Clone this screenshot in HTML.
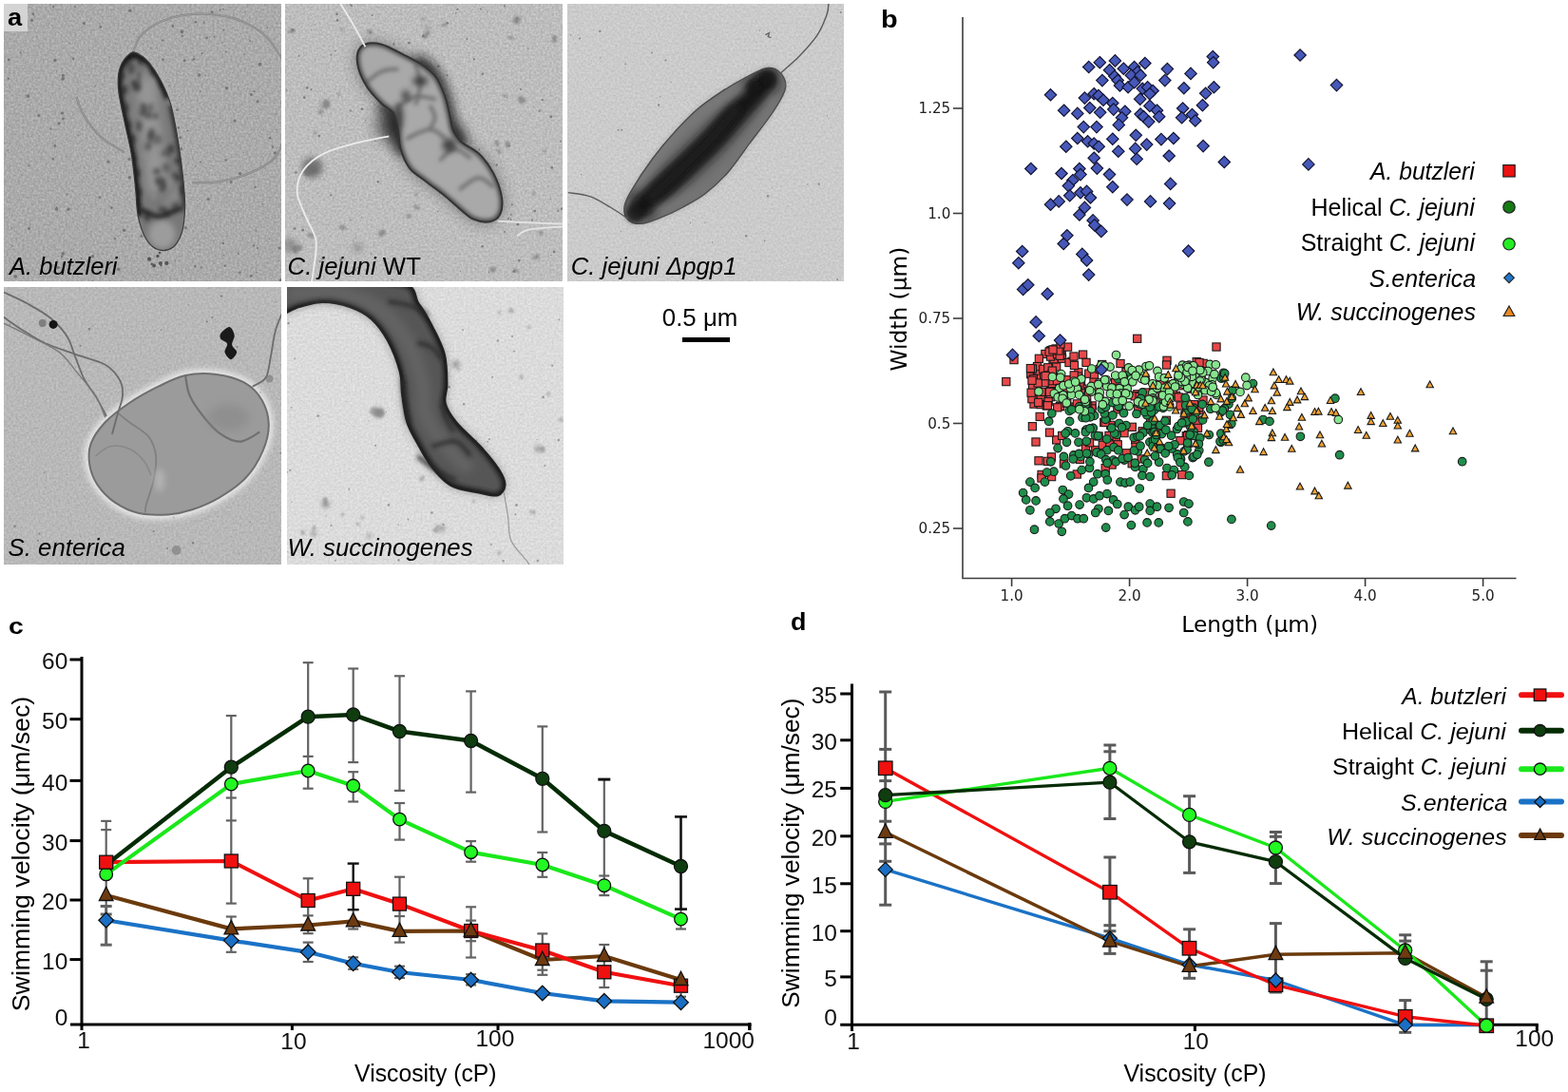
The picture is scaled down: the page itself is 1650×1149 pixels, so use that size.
<!DOCTYPE html>
<html><head><meta charset="utf-8"><title>Figure</title>
<style>html,body{margin:0;padding:0;background:#fff;}body{width:1650px;height:1149px;overflow:hidden;}svg{display:block;}</style>
</head><body>
<svg width="1650" height="1149" viewBox="0 0 1650 1149" font-family="Liberation Sans, Arial, sans-serif">
<rect width="1650" height="1149" fill="#fff"/>
<defs>
<filter id="b1" filterUnits="userSpaceOnUse" x="-2000" y="-2000" width="6000" height="6000"><feGaussianBlur stdDeviation="1"/></filter>
<filter id="b2" filterUnits="userSpaceOnUse" x="-2000" y="-2000" width="6000" height="6000"><feGaussianBlur stdDeviation="2"/></filter>
<filter id="b3" filterUnits="userSpaceOnUse" x="-2000" y="-2000" width="6000" height="6000"><feGaussianBlur stdDeviation="3"/></filter>
<filter id="b5" filterUnits="userSpaceOnUse" x="-2000" y="-2000" width="6000" height="6000"><feGaussianBlur stdDeviation="5"/></filter>
<filter id="b8" filterUnits="userSpaceOnUse" x="-2000" y="-2000" width="6000" height="6000"><feGaussianBlur stdDeviation="8"/></filter>
<filter id="bg1" x="0" y="0" width="100%" height="100%" color-interpolation-filters="sRGB"><feTurbulence type="fractalNoise" baseFrequency="0.42" numOctaves="3" seed="3"/><feColorMatrix type="matrix" values="0.220 0 0 0 0.557  0.220 0 0 0 0.557  0.220 0 0 0 0.557  0 0 0 0 1"/></filter>
<filter id="bg2" x="0" y="0" width="100%" height="100%" color-interpolation-filters="sRGB"><feTurbulence type="fractalNoise" baseFrequency="0.42" numOctaves="3" seed="5"/><feColorMatrix type="matrix" values="0.200 0 0 0 0.641  0.200 0 0 0 0.641  0.200 0 0 0 0.641  0 0 0 0 1"/></filter>
<filter id="bg3" x="0" y="0" width="100%" height="100%" color-interpolation-filters="sRGB"><feTurbulence type="fractalNoise" baseFrequency="0.42" numOctaves="3" seed="7"/><feColorMatrix type="matrix" values="0.140 0 0 0 0.726  0.140 0 0 0 0.726  0.140 0 0 0 0.726  0 0 0 0 1"/></filter>
<filter id="bg4" x="0" y="0" width="100%" height="100%" color-interpolation-filters="sRGB"><feTurbulence type="fractalNoise" baseFrequency="0.42" numOctaves="3" seed="9"/><feColorMatrix type="matrix" values="0.160 0 0 0 0.642  0.160 0 0 0 0.642  0.160 0 0 0 0.642  0 0 0 0 1"/></filter>
<filter id="bg5" x="0" y="0" width="100%" height="100%" color-interpolation-filters="sRGB"><feTurbulence type="fractalNoise" baseFrequency="0.42" numOctaves="3" seed="11"/><feColorMatrix type="matrix" values="0.140 0 0 0 0.790  0.140 0 0 0 0.790  0.140 0 0 0 0.790  0 0 0 0 1"/></filter>
<filter id="grain" x="0" y="0" width="100%" height="100%" color-interpolation-filters="sRGB">
 <feTurbulence type="fractalNoise" baseFrequency="0.5" numOctaves="2" seed="4"/>
 <feColorMatrix type="matrix" values="0 0 0 0 0  0 0 0 0 0  0 0 0 0 0  0 0 0 -1.6 1.05"/>
</filter>
<clipPath id="c1"><rect x="4" y="4" width="292" height="292"/></clipPath>
<clipPath id="c2"><rect x="300" y="4" width="292" height="292"/></clipPath>
<clipPath id="c3"><rect x="597" y="4" width="291" height="292"/></clipPath>
<clipPath id="c4"><rect x="4" y="302" width="292" height="292"/></clipPath>
<clipPath id="c5"><rect x="302" y="302" width="291" height="292"/></clipPath>
<radialGradient id="g3" cx="0.5" cy="0.5" r="0.5"><stop offset="0" stop-color="#262626"/><stop offset="0.55" stop-color="#3a3a3a"/><stop offset="0.85" stop-color="#5e5e5e"/><stop offset="1" stop-color="#6e6e6e"/></radialGradient>
</defs>
<g clip-path="url(#c1)">
<rect x="4" y="4" width="292" height="292" fill="#a7a7a7"/>
<rect x="4" y="4" width="292" height="292" filter="url(#bg1)"/>
<g fill="#767676"><circle cx="136.1" cy="167.5" r="1.8"/><circle cx="140" cy="152.3" r="1.4"/><circle cx="57.9" cy="153.5" r="1.4"/><circle cx="235.5" cy="31.5" r="1"/><circle cx="30.5" cy="240.4" r="1.5"/><circle cx="16.2" cy="290.8" r="1.9"/><circle cx="194.9" cy="183.7" r="0.8"/><circle cx="8.4" cy="158.3" r="0.7"/><circle cx="59.5" cy="74.6" r="0.6"/><circle cx="139.5" cy="132.6" r="1.7"/><circle cx="155.6" cy="191" r="1.2"/><circle cx="197.4" cy="137.5" r="1"/><circle cx="295.3" cy="294.7" r="1.7"/><circle cx="210.7" cy="96.1" r="0.9"/><circle cx="88.4" cy="24.5" r="1.6"/><circle cx="120.9" cy="251.2" r="1.1"/><circle cx="283.7" cy="251.4" r="0.6"/><circle cx="65.2" cy="269.8" r="1.2"/><circle cx="290.3" cy="120" r="0.7"/><circle cx="187.8" cy="231.3" r="1"/><circle cx="29.4" cy="101.1" r="1.9"/><circle cx="225.3" cy="38.5" r="0.9"/><circle cx="33.5" cy="21.5" r="1.6"/><circle cx="55.9" cy="167.3" r="1.2"/><circle cx="59.7" cy="217.7" r="0.8"/><circle cx="192" cy="38" r="1.1"/><circle cx="66.2" cy="82.8" r="1.9"/><circle cx="238.6" cy="92.8" r="1.8"/><circle cx="65.5" cy="119.1" r="1.7"/><circle cx="191.4" cy="33.3" r="1.9"/><circle cx="66.3" cy="79.4" r="1.6"/><circle cx="100.1" cy="90.5" r="0.7"/><circle cx="30.3" cy="174.2" r="0.9"/><circle cx="179.6" cy="112.5" r="1.2"/><circle cx="284.1" cy="145.2" r="1.3"/><circle cx="257" cy="57.4" r="0.8"/><circle cx="269.3" cy="242.8" r="0.9"/><circle cx="59.4" cy="219.9" r="1.8"/><circle cx="61.4" cy="281.4" r="1.7"/><circle cx="180.2" cy="127.1" r="0.7"/><circle cx="15.3" cy="285.1" r="0.9"/><circle cx="209.7" cy="79" r="1.7"/><circle cx="178.2" cy="89.7" r="0.8"/><circle cx="214.3" cy="24.1" r="0.9"/><circle cx="167.3" cy="252.9" r="1.4"/><circle cx="85.8" cy="271.9" r="0.9"/><circle cx="8.8" cy="82.6" r="1.2"/><circle cx="21.7" cy="55.5" r="1.1"/><circle cx="171.1" cy="42.4" r="1.1"/><circle cx="264.2" cy="290.3" r="1.5"/><circle cx="205.8" cy="174.7" r="0.8"/><circle cx="14.2" cy="9.2" r="1.8"/><circle cx="208.7" cy="285.1" r="0.6"/><circle cx="189.8" cy="144.8" r="1.5"/><circle cx="97.1" cy="295.8" r="0.7"/><circle cx="163.5" cy="219.2" r="1.8"/><circle cx="219.2" cy="209.5" r="1.6"/><circle cx="271.2" cy="106.7" r="1.5"/><circle cx="267" cy="258.4" r="1.1"/><circle cx="234.8" cy="256.1" r="1.3"/><circle cx="186.5" cy="115.6" r="1.4"/><circle cx="181.8" cy="27.4" r="1.4"/><circle cx="294.1" cy="260.9" r="1.5"/><circle cx="117.4" cy="218.6" r="1.4"/><circle cx="132.6" cy="248.8" r="0.7"/><circle cx="223.1" cy="12.7" r="1.4"/><circle cx="144.4" cy="71.2" r="1.5"/><circle cx="149.2" cy="183.4" r="1.8"/><circle cx="78.7" cy="7.3" r="1"/><circle cx="202" cy="63.2" r="0.8"/><circle cx="268.5" cy="196.7" r="1.2"/><circle cx="264.4" cy="99.5" r="1.5"/><circle cx="62" cy="129.8" r="1.6"/><circle cx="271" cy="261" r="1.1"/><circle cx="174.3" cy="96.4" r="0.8"/><circle cx="149" cy="248.4" r="1.7"/><circle cx="211.7" cy="281.4" r="1"/><circle cx="53.4" cy="135.6" r="1"/><circle cx="66.5" cy="124.9" r="1.4"/><circle cx="148.2" cy="96.1" r="1.7"/><circle cx="290.8" cy="136.1" r="0.7"/><circle cx="13.2" cy="258.9" r="0.7"/><circle cx="210.9" cy="170.6" r="1"/><circle cx="235.1" cy="9.6" r="0.8"/><circle cx="136.8" cy="11.2" r="1.7"/><circle cx="73.3" cy="45.1" r="0.7"/><circle cx="187.7" cy="134.4" r="1.4"/><circle cx="195.3" cy="239.8" r="1.8"/><circle cx="203.9" cy="62.2" r="1.2"/><circle cx="56.2" cy="7.1" r="1.2"/><circle cx="212.5" cy="56.3" r="1"/><circle cx="105" cy="207.6" r="1.3"/><circle cx="183.4" cy="224.8" r="1.1"/><circle cx="235.2" cy="268.6" r="0.7"/><circle cx="276.3" cy="214.9" r="0.8"/><circle cx="136.4" cy="186.7" r="1.8"/><circle cx="114" cy="170.1" r="1.7"/><circle cx="236.7" cy="279.7" r="1.2"/><circle cx="194.2" cy="63.8" r="1.5"/><circle cx="243" cy="191.4" r="1.5"/><circle cx="66.3" cy="266.8" r="1.9"/><circle cx="289.4" cy="160.8" r="1.6"/><circle cx="97.6" cy="269.7" r="1.7"/><circle cx="105.8" cy="28.2" r="1.2"/><circle cx="164.7" cy="228.3" r="1.2"/><circle cx="12.3" cy="240.3" r="0.7"/><circle cx="237.6" cy="54.5" r="1"/><circle cx="234.1" cy="45" r="0.8"/><circle cx="154.8" cy="215.3" r="1.7"/><circle cx="205.3" cy="280.2" r="1.2"/><circle cx="281.2" cy="29.1" r="0.9"/><circle cx="157.8" cy="88.7" r="1.5"/><circle cx="190.6" cy="156.7" r="1.7"/><circle cx="167.5" cy="95" r="1.1"/><circle cx="250.8" cy="267" r="0.9"/><circle cx="252.4" cy="286.8" r="1.3"/><circle cx="171.3" cy="62.7" r="1.3"/><circle cx="150.9" cy="180.7" r="0.6"/><circle cx="287.1" cy="154.7" r="1.1"/><circle cx="237.9" cy="168.4" r="1.2"/><circle cx="205.8" cy="23.2" r="1.3"/><circle cx="124.8" cy="283.4" r="1.8"/><circle cx="82.6" cy="142.2" r="0.8"/><circle cx="130.6" cy="242.2" r="1.8"/><circle cx="143.1" cy="96.6" r="0.8"/><circle cx="184.4" cy="274.2" r="0.8"/><circle cx="231.6" cy="10.7" r="0.9"/><circle cx="70.4" cy="204.6" r="1"/><circle cx="107.8" cy="185" r="0.7"/><circle cx="217.4" cy="39.9" r="1.3"/><circle cx="77.2" cy="61.7" r="1.3"/><circle cx="131.5" cy="113.7" r="1.1"/><circle cx="158.6" cy="50.6" r="0.9"/><circle cx="188.3" cy="190.4" r="1.3"/><circle cx="252.6" cy="182.6" r="1.7"/><circle cx="71.9" cy="220.3" r="1.7"/><circle cx="267.6" cy="96.2" r="1"/><circle cx="273.4" cy="67.7" r="1.9"/><circle cx="263.2" cy="43.1" r="0.9"/><circle cx="216.2" cy="79.8" r="0.7"/><circle cx="247" cy="127.1" r="1.6"/><circle cx="40.8" cy="121.6" r="1.5"/><circle cx="9.2" cy="62.7" r="1.5"/><circle cx="270.1" cy="286.8" r="0.8"/><circle cx="151.7" cy="225.4" r="1.3"/><circle cx="204.2" cy="59.2" r="0.7"/><circle cx="35" cy="14.9" r="1.3"/><circle cx="154.3" cy="170.1" r="0.8"/><circle cx="57.9" cy="63.5" r="1.7"/><circle cx="293.2" cy="274.7" r="0.7"/></g>
<path d="M140,54.8 C141.4,51.9 143.6,42.5 148.9,37 C154.1,31.5 162,25.5 171.7,21.8 C181.5,18.1 195,15.1 207.3,14.7 C219.6,14.2 233.6,15.5 245.4,19.2 C257.3,23 269.6,29.4 278.5,37 C287.4,44.7 295.4,60.3 298.8,65" fill="none" stroke="#858585" stroke-width="2.3"/>
<path d="M140,54.8 C141.4,51.9 143.6,42.5 148.9,37 C154.1,31.5 162,25.5 171.7,21.8 C181.5,18.1 195,15.1 207.3,14.7 C219.6,14.2 233.6,15.5 245.4,19.2 C257.3,23 269.6,29.4 278.5,37 C287.4,44.7 295.4,60.3 298.8,65" fill="none" stroke="#a4a4a4" stroke-width="0.8"/>
<path d="M298.8,146.3 C297.1,149.7 294.6,160.7 288.6,166.6 C282.7,172.6 272.5,177.9 263.2,181.9 C253.9,185.9 242.9,189.1 232.7,190.8 C222.6,192.5 207.3,191.8 202.2,192.1" fill="none" stroke="#858585" stroke-width="2.3"/>
<path d="M298.8,146.3 C297.1,149.7 294.6,160.7 288.6,166.6 C282.7,172.6 272.5,177.9 263.2,181.9 C253.9,185.9 242.9,189.1 232.7,190.8 C222.6,192.5 207.3,191.8 202.2,192.1" fill="none" stroke="#a4a4a4" stroke-width="0.8"/>
<path d="M80.2,101.8 C81.5,105 83.6,113.9 87.9,120.9 C92.1,127.9 98.5,137.2 105.7,143.8 C112.9,150.3 126.8,157.5 131.1,160.3" fill="none" stroke="#858585" stroke-width="2.3"/>
<path d="M80.2,101.8 C81.5,105 83.6,113.9 87.9,120.9 C92.1,127.9 98.5,137.2 105.7,143.8 C112.9,150.3 126.8,157.5 131.1,160.3" fill="none" stroke="#a4a4a4" stroke-width="0.8"/>
<path d="M137.4,56.1 C134.3,58.4 128.7,64.4 126.5,70.6 C124.3,76.7 123.8,83.7 124.5,92.9 C125.1,102.2 128.3,114.5 130.6,126 C132.8,137.4 136.2,149.7 138.2,161.6 C140.2,173.4 141.3,186.1 142.5,197.1 C143.7,208.2 143.4,218.5 145.3,227.6 C147.2,236.7 150.4,245.9 153.9,251.8 C157.5,257.6 162,261.3 166.6,262.7 C171.3,264.1 177.7,263.3 181.9,260.2 C186,257.1 189.4,251.3 191.5,244.2 C193.7,237 194.4,227 194.6,217.5 C194.8,207.9 193.8,198.4 192.6,187 C191.4,175.5 189.6,161.6 187.5,148.9 C185.4,136.1 182.8,121.2 179.9,110.7 C176.9,100.2 173.6,93.4 169.7,85.8 C165.8,78.3 160.5,70.4 156.5,65.5 C152.4,60.6 148.5,58.2 145.3,56.6 C142.1,55 140.6,53.8 137.4,56.1Z" fill="#c4c4c4" opacity="0.5" filter="url(#b3)"/>
<clipPath id="cc1"><path d="M137.4,56.1 C134.3,58.4 128.7,64.4 126.5,70.6 C124.3,76.7 123.8,83.7 124.5,92.9 C125.1,102.2 128.3,114.5 130.6,126 C132.8,137.4 136.2,149.7 138.2,161.6 C140.2,173.4 141.3,186.1 142.5,197.1 C143.7,208.2 143.4,218.5 145.3,227.6 C147.2,236.7 150.4,245.9 153.9,251.8 C157.5,257.6 162,261.3 166.6,262.7 C171.3,264.1 177.7,263.3 181.9,260.2 C186,257.1 189.4,251.3 191.5,244.2 C193.7,237 194.4,227 194.6,217.5 C194.8,207.9 193.8,198.4 192.6,187 C191.4,175.5 189.6,161.6 187.5,148.9 C185.4,136.1 182.8,121.2 179.9,110.7 C176.9,100.2 173.6,93.4 169.7,85.8 C165.8,78.3 160.5,70.4 156.5,65.5 C152.4,60.6 148.5,58.2 145.3,56.6 C142.1,55 140.6,53.8 137.4,56.1Z"/></clipPath>
<path d="M137.4,56.1 C134.3,58.4 128.7,64.4 126.5,70.6 C124.3,76.7 123.8,83.7 124.5,92.9 C125.1,102.2 128.3,114.5 130.6,126 C132.8,137.4 136.2,149.7 138.2,161.6 C140.2,173.4 141.3,186.1 142.5,197.1 C143.7,208.2 143.4,218.5 145.3,227.6 C147.2,236.7 150.4,245.9 153.9,251.8 C157.5,257.6 162,261.3 166.6,262.7 C171.3,264.1 177.7,263.3 181.9,260.2 C186,257.1 189.4,251.3 191.5,244.2 C193.7,237 194.4,227 194.6,217.5 C194.8,207.9 193.8,198.4 192.6,187 C191.4,175.5 189.6,161.6 187.5,148.9 C185.4,136.1 182.8,121.2 179.9,110.7 C176.9,100.2 173.6,93.4 169.7,85.8 C165.8,78.3 160.5,70.4 156.5,65.5 C152.4,60.6 148.5,58.2 145.3,56.6 C142.1,55 140.6,53.8 137.4,56.1Z" fill="#787878"/>
<g clip-path="url(#cc1)">
<path d="M152.7,80.2 C153.3,86.6 155,105.7 156.5,118.4 C158,131.1 159.9,142.5 161.6,156.5 C163.3,170.5 165.8,194.6 166.6,202.2" fill="none" stroke="#959595" stroke-width="22" filter="url(#b5)"/>
<ellipse cx="170.5" cy="246.7" rx="14" ry="15" fill="#9c9c9c" filter="url(#b3)"/>
<ellipse cx="171.1" cy="166.8" rx="4.9" ry="6" fill="#909090" opacity="0.55" filter="url(#b2)"/>
<ellipse cx="137.7" cy="71.7" rx="4.1" ry="6.6" fill="#2e2e2e" opacity="0.55" filter="url(#b2)"/>
<ellipse cx="163.8" cy="121.7" rx="2.8" ry="4" fill="#3a3a3a" opacity="0.55" filter="url(#b2)"/>
<ellipse cx="146.2" cy="132.6" rx="3.5" ry="6" fill="#2e2e2e" opacity="0.55" filter="url(#b2)"/>
<ellipse cx="146.7" cy="81.2" rx="2.5" ry="6.5" fill="#3a3a3a" opacity="0.55" filter="url(#b2)"/>
<ellipse cx="183.7" cy="184.9" rx="2.9" ry="4.3" fill="#3a3a3a" opacity="0.55" filter="url(#b2)"/>
<ellipse cx="165.7" cy="147.1" rx="4.9" ry="5.8" fill="#484848" opacity="0.55" filter="url(#b2)"/>
<ellipse cx="146.4" cy="107.7" rx="2.9" ry="3.3" fill="#8c8c8c" opacity="0.55" filter="url(#b2)"/>
<ellipse cx="175.1" cy="196.4" rx="4.3" ry="3.3" fill="#8c8c8c" opacity="0.55" filter="url(#b2)"/>
<ellipse cx="172.2" cy="193.7" rx="3.7" ry="5.8" fill="#2e2e2e" opacity="0.55" filter="url(#b2)"/>
<ellipse cx="160.8" cy="108.7" rx="3.4" ry="4.6" fill="#909090" opacity="0.55" filter="url(#b2)"/>
<ellipse cx="167.7" cy="191.4" rx="2.5" ry="3.2" fill="#3a3a3a" opacity="0.55" filter="url(#b2)"/>
<ellipse cx="177.1" cy="160" rx="3.1" ry="6.3" fill="#484848" opacity="0.55" filter="url(#b2)"/>
<ellipse cx="148.2" cy="118.7" rx="4.4" ry="3.4" fill="#8c8c8c" opacity="0.55" filter="url(#b2)"/>
<ellipse cx="161.6" cy="206.8" rx="2.7" ry="4.4" fill="#909090" opacity="0.55" filter="url(#b2)"/>
<ellipse cx="143.2" cy="119.1" rx="4.3" ry="3.4" fill="#8c8c8c" opacity="0.55" filter="url(#b2)"/>
<ellipse cx="159" cy="113.5" rx="4.3" ry="4.2" fill="#484848" opacity="0.55" filter="url(#b2)"/>
<ellipse cx="131.8" cy="93.7" rx="3.8" ry="4.6" fill="#3a3a3a" opacity="0.55" filter="url(#b2)"/>
<ellipse cx="165" cy="180.4" rx="4.1" ry="3.6" fill="#2e2e2e" opacity="0.55" filter="url(#b2)"/>
<ellipse cx="167.4" cy="189.9" rx="5" ry="5.3" fill="#3a3a3a" opacity="0.55" filter="url(#b2)"/>
<ellipse cx="172.7" cy="161" rx="3.6" ry="3.6" fill="#484848" opacity="0.55" filter="url(#b2)"/>
<ellipse cx="148.8" cy="115.5" rx="4.6" ry="6.9" fill="#484848" opacity="0.55" filter="url(#b2)"/>
<ellipse cx="184.2" cy="216.8" rx="3.2" ry="4.9" fill="#3a3a3a" opacity="0.55" filter="url(#b2)"/>
<ellipse cx="151.3" cy="81.1" rx="2.9" ry="6.7" fill="#8c8c8c" opacity="0.55" filter="url(#b2)"/>
<ellipse cx="145" cy="91.9" rx="3.9" ry="5" fill="#2e2e2e" opacity="0.55" filter="url(#b2)"/>
<ellipse cx="179.1" cy="192.3" rx="4.2" ry="6" fill="#8c8c8c" opacity="0.55" filter="url(#b2)"/>
<ellipse cx="166.3" cy="156.8" rx="3.2" ry="6.9" fill="#8c8c8c" opacity="0.55" filter="url(#b2)"/>
<ellipse cx="174.3" cy="214.8" rx="4.6" ry="4.9" fill="#8c8c8c" opacity="0.55" filter="url(#b2)"/>
<ellipse cx="145.2" cy="113.3" rx="3.8" ry="5.7" fill="#8c8c8c" opacity="0.55" filter="url(#b2)"/>
<ellipse cx="156.5" cy="121.4" rx="4.6" ry="4.4" fill="#3a3a3a" opacity="0.55" filter="url(#b2)"/>
<ellipse cx="180.3" cy="208.8" rx="4.9" ry="5.1" fill="#909090" opacity="0.55" filter="url(#b2)"/>
<ellipse cx="171.3" cy="220.5" rx="4.6" ry="4.1" fill="#2e2e2e" opacity="0.55" filter="url(#b2)"/>
<ellipse cx="174.9" cy="176.2" rx="4.5" ry="5.3" fill="#484848" opacity="0.55" filter="url(#b2)"/>
<ellipse cx="152" cy="115.4" rx="3.2" ry="7" fill="#3a3a3a" opacity="0.55" filter="url(#b2)"/>
<ellipse cx="142.7" cy="90" rx="3" ry="5.7" fill="#2e2e2e" opacity="0.55" filter="url(#b2)"/>
<ellipse cx="193.4" cy="219.5" rx="4.7" ry="3.4" fill="#3a3a3a" opacity="0.55" filter="url(#b2)"/>
<ellipse cx="159.6" cy="140.1" rx="3.4" ry="5.7" fill="#2e2e2e" opacity="0.55" filter="url(#b2)"/>
<ellipse cx="155.6" cy="162.5" rx="2.5" ry="4.6" fill="#8c8c8c" opacity="0.55" filter="url(#b2)"/>
<ellipse cx="184.6" cy="203.6" rx="3.9" ry="6.9" fill="#909090" opacity="0.55" filter="url(#b2)"/>
<ellipse cx="152.6" cy="162.7" rx="3.3" ry="5.3" fill="#8c8c8c" opacity="0.55" filter="url(#b2)"/>
<ellipse cx="170.5" cy="198.8" rx="4.1" ry="4.5" fill="#3a3a3a" opacity="0.55" filter="url(#b2)"/>
<ellipse cx="140.9" cy="87.7" rx="3" ry="3.5" fill="#2e2e2e" opacity="0.55" filter="url(#b2)"/>
<ellipse cx="163.6" cy="114.5" rx="2.8" ry="5.3" fill="#909090" opacity="0.55" filter="url(#b2)"/>
<ellipse cx="155.8" cy="154" rx="3.9" ry="4.7" fill="#3a3a3a" opacity="0.55" filter="url(#b2)"/>
<ellipse cx="158.2" cy="144.8" rx="3.5" ry="6.4" fill="#3a3a3a" opacity="0.55" filter="url(#b2)"/>
<path d="M140,56.1 C137.7,58.5 129.1,64.4 126.5,70.6 C123.9,76.7 123.8,83.7 124.5,92.9 C125.1,102.2 128.3,114.5 130.6,126 C132.8,137.4 136.2,149.7 138.2,161.6 C140.2,173.4 141.3,186.1 142.5,197.1 C143.7,208.2 144.8,222.6 145.3,227.6" fill="none" stroke="#141414" stroke-width="8" filter="url(#b2)"/>
<ellipse cx="128.4" cy="80.2" rx="3.2" ry="3.4" fill="#222" opacity="0.6" filter="url(#b2)"/>
<ellipse cx="129.5" cy="95.5" rx="2.5" ry="4.5" fill="#222" opacity="0.6" filter="url(#b2)"/>
<ellipse cx="132.7" cy="113.3" rx="2.7" ry="4.7" fill="#222" opacity="0.6" filter="url(#b2)"/>
<ellipse cx="135.3" cy="131.1" rx="2.6" ry="4.1" fill="#222" opacity="0.6" filter="url(#b2)"/>
<ellipse cx="139.5" cy="146.3" rx="3.4" ry="5.2" fill="#222" opacity="0.6" filter="url(#b2)"/>
<ellipse cx="139.9" cy="166.6" rx="3" ry="3.3" fill="#222" opacity="0.6" filter="url(#b2)"/>
<ellipse cx="143.3" cy="181.9" rx="4.3" ry="4.8" fill="#222" opacity="0.6" filter="url(#b2)"/>
<ellipse cx="146.1" cy="202.2" rx="3.3" ry="5.2" fill="#222" opacity="0.6" filter="url(#b2)"/>
<ellipse cx="180.3" cy="156.5" rx="3.1" ry="5" fill="#222" opacity="0.6" filter="url(#b2)"/>
<ellipse cx="186.6" cy="169.2" rx="3.3" ry="3.3" fill="#222" opacity="0.6" filter="url(#b2)"/>
<ellipse cx="187.3" cy="187" rx="2.9" ry="3.8" fill="#222" opacity="0.6" filter="url(#b2)"/>
<ellipse cx="192" cy="199.7" rx="2.9" ry="5.7" fill="#222" opacity="0.6" filter="url(#b2)"/>
<ellipse cx="147.8" cy="65" rx="2.6" ry="4.1" fill="#222" opacity="0.6" filter="url(#b2)"/>
<ellipse cx="161.5" cy="75.2" rx="2.5" ry="4.3" fill="#222" opacity="0.6" filter="url(#b2)"/>
<ellipse cx="170.8" cy="87.9" rx="2.7" ry="4.8" fill="#222" opacity="0.6" filter="url(#b2)"/>
<ellipse cx="155" cy="227.6" rx="3.7" ry="5.7" fill="#222" opacity="0.6" filter="url(#b2)"/>
<ellipse cx="175.6" cy="225.1" rx="2.5" ry="3.3" fill="#222" opacity="0.6" filter="url(#b2)"/>
<path d="M138.7,56.1 C141.7,57.7 151.3,60.5 156.5,65.5 C161.6,70.5 166.3,79.6 169.7,85.8 C173.1,92.1 175.6,100.2 176.8,103.1" fill="none" stroke="#141414" stroke-width="7" filter="url(#b2)"/>
<path d="M179.9,110.7 C181.1,117.1 185.4,136.1 187.5,148.9 C189.6,161.6 191.4,175.5 192.6,187 C193.8,198.4 194.3,212.4 194.6,217.5" fill="none" stroke="#2a2a2a" stroke-width="5" filter="url(#b2)"/>
<path d="M147.6,220 C150.8,221.3 159.4,227.8 166.6,227.6 C173.8,227.4 186.8,220.2 190.8,218.7" fill="none" stroke="#262626" stroke-width="5" filter="url(#b2)"/>
</g>
<path d="M137.4,56.1 C134.3,58.4 128.7,64.4 126.5,70.6 C124.3,76.7 123.8,83.7 124.5,92.9 C125.1,102.2 128.3,114.5 130.6,126 C132.8,137.4 136.2,149.7 138.2,161.6 C140.2,173.4 141.3,186.1 142.5,197.1 C143.7,208.2 143.4,218.5 145.3,227.6 C147.2,236.7 150.4,245.9 153.9,251.8 C157.5,257.6 162,261.3 166.6,262.7 C171.3,264.1 177.7,263.3 181.9,260.2 C186,257.1 189.4,251.3 191.5,244.2 C193.7,237 194.4,227 194.6,217.5 C194.8,207.9 193.8,198.4 192.6,187 C191.4,175.5 189.6,161.6 187.5,148.9 C185.4,136.1 182.8,121.2 179.9,110.7 C176.9,100.2 173.6,93.4 169.7,85.8 C165.8,78.3 160.5,70.4 156.5,65.5 C152.4,60.6 148.5,58.2 145.3,56.6 C142.1,55 140.6,53.8 137.4,56.1Z" fill="none" stroke="#3a3a3a" stroke-width="1.2"/>
<g fill="#555"><circle cx="168.9" cy="276.9" r="2"/><circle cx="175.3" cy="276.9" r="2.1"/><circle cx="157.1" cy="272.7" r="2.1"/><circle cx="169.5" cy="279.3" r="1.1"/><circle cx="165.9" cy="269.5" r="1.7"/><circle cx="168" cy="266" r="1.3"/><circle cx="162.1" cy="279.5" r="1.9"/><circle cx="159.7" cy="277.7" r="1.2"/></g>
</g>
<rect x="4" y="4" width="25" height="29" fill="#d4d4d4"/>
<g clip-path="url(#c2)">
<rect x="300" y="4" width="292" height="292" fill="#bdbdbd"/>
<rect x="300" y="4" width="292" height="292" filter="url(#bg2)"/>
<g fill="#7e7e7e"><circle cx="348.2" cy="205.4" r="1.1"/><circle cx="439.9" cy="67.1" r="1.3"/><circle cx="535.9" cy="153.6" r="1"/><circle cx="368.9" cy="4.9" r="0.9"/><circle cx="470.9" cy="24.2" r="1.3"/><circle cx="367.8" cy="71.9" r="0.5"/><circle cx="591.3" cy="219.7" r="1.4"/><circle cx="479.8" cy="13.9" r="0.8"/><circle cx="445.3" cy="37.8" r="1.5"/><circle cx="407.6" cy="49.2" r="1.3"/><circle cx="336.5" cy="275" r="1"/><circle cx="461.2" cy="104.1" r="1"/><circle cx="354.6" cy="14.8" r="1.4"/><circle cx="368.6" cy="231.8" r="0.7"/><circle cx="582.9" cy="265" r="1.3"/><circle cx="522.7" cy="173.6" r="1.2"/><circle cx="335.8" cy="143.1" r="1.3"/><circle cx="358.7" cy="273.6" r="1.4"/><circle cx="419.6" cy="110.6" r="1"/><circle cx="412.6" cy="294.5" r="0.9"/><circle cx="307.8" cy="31.2" r="1.2"/><circle cx="589.9" cy="148.8" r="1"/><circle cx="460.7" cy="222.5" r="0.7"/><circle cx="477.8" cy="166.5" r="1.1"/><circle cx="352.8" cy="53.7" r="0.8"/><circle cx="570.7" cy="105.2" r="1.1"/><circle cx="389.5" cy="34.2" r="0.6"/><circle cx="537.6" cy="230.9" r="0.9"/><circle cx="499.5" cy="201.4" r="1.4"/><circle cx="579.8" cy="122.8" r="1.5"/><circle cx="580.7" cy="176.4" r="1.4"/><circle cx="443.3" cy="113.7" r="0.7"/><circle cx="555.8" cy="51.4" r="0.6"/><circle cx="535.1" cy="230" r="1"/><circle cx="544.4" cy="19.2" r="0.8"/><circle cx="384.6" cy="126.5" r="0.7"/><circle cx="320.3" cy="102.7" r="1.4"/><circle cx="587.2" cy="221.8" r="1"/><circle cx="373.6" cy="284" r="1"/><circle cx="512.8" cy="12.3" r="0.7"/><circle cx="544.8" cy="236.2" r="1.4"/><circle cx="475.6" cy="128.4" r="1.1"/><circle cx="548" cy="93.9" r="1"/><circle cx="380.6" cy="228.3" r="0.5"/><circle cx="500.1" cy="282.6" r="0.5"/><circle cx="473.4" cy="192" r="1.4"/><circle cx="470.6" cy="79.1" r="0.9"/><circle cx="579.9" cy="268.4" r="0.6"/><circle cx="327.7" cy="31.4" r="0.5"/><circle cx="430.5" cy="45.1" r="1.4"/><circle cx="491.4" cy="40.9" r="1"/><circle cx="394.7" cy="148.2" r="0.7"/><circle cx="348.5" cy="57.7" r="0.9"/><circle cx="507.3" cy="164.6" r="0.5"/><circle cx="507.6" cy="259.2" r="1.3"/><circle cx="530.9" cy="6.3" r="1"/><circle cx="318.5" cy="227.1" r="0.7"/><circle cx="507.8" cy="77.8" r="1.2"/><circle cx="391.6" cy="16.2" r="0.9"/><circle cx="390.3" cy="267" r="0.8"/><circle cx="446.9" cy="164.4" r="1.4"/><circle cx="328.8" cy="179.5" r="1"/><circle cx="514.5" cy="286.4" r="0.8"/><circle cx="504.2" cy="157.5" r="1.1"/><circle cx="318.6" cy="241.9" r="1.5"/><circle cx="403.7" cy="96.9" r="1.5"/><circle cx="331.4" cy="26.2" r="0.6"/><circle cx="537.8" cy="225.9" r="0.9"/><circle cx="481.4" cy="9.8" r="1.1"/><circle cx="429.2" cy="155.1" r="0.9"/><circle cx="417.2" cy="69.8" r="0.5"/><circle cx="426.7" cy="76.1" r="1.2"/><circle cx="538.7" cy="215.3" r="1"/><circle cx="369" cy="116.5" r="1"/><circle cx="484.5" cy="285.2" r="0.6"/><circle cx="440.1" cy="147.6" r="1.2"/><circle cx="560" cy="231.6" r="1.1"/><circle cx="521.5" cy="199.1" r="1.4"/><circle cx="504.1" cy="203.4" r="0.7"/><circle cx="567.7" cy="116.7" r="1.1"/><circle cx="540.9" cy="285.4" r="1.5"/><circle cx="301.9" cy="95.3" r="0.8"/><circle cx="414.2" cy="46.5" r="1.1"/><circle cx="323.2" cy="92.4" r="1.4"/><circle cx="516.8" cy="139" r="0.6"/><circle cx="579.2" cy="209.6" r="0.7"/><circle cx="397.9" cy="191.3" r="1.2"/><circle cx="376.2" cy="281.8" r="0.8"/><circle cx="374.2" cy="250.8" r="0.7"/><circle cx="498.9" cy="62.4" r="1.1"/><circle cx="381" cy="114.7" r="1.4"/><circle cx="436.4" cy="131.6" r="1.1"/><circle cx="381.9" cy="54.9" r="0.9"/><circle cx="379.5" cy="59" r="1.5"/><circle cx="310" cy="240.6" r="1.4"/><circle cx="505.7" cy="9.5" r="1"/><circle cx="311.5" cy="181.5" r="1.2"/><circle cx="370.1" cy="6.2" r="1"/><circle cx="327.6" cy="94.2" r="1"/><circle cx="561.2" cy="112.1" r="0.6"/><circle cx="531.2" cy="244.1" r="1"/><circle cx="314.4" cy="58.8" r="0.9"/><circle cx="461.2" cy="69.7" r="1.3"/><circle cx="546.3" cy="274.1" r="1.4"/><circle cx="305.1" cy="174" r="0.6"/><circle cx="562.7" cy="222.1" r="1.3"/><circle cx="355" cy="21.4" r="1.3"/><circle cx="477.1" cy="185.1" r="1"/><circle cx="533.6" cy="102.7" r="0.8"/><circle cx="403.1" cy="91" r="1.1"/></g>
<circle cx="329" cy="176" r="10" fill="#5a5a5a" opacity="0.6" filter="url(#b3)"/>
<g fill="#6a6a6a" opacity="0.55" filter="url(#b1)"><circle cx="326.2" cy="178" r="4.9"/><circle cx="330.1" cy="178.9" r="3.8"/><circle cx="323.7" cy="181.1" r="4.5"/><circle cx="311.4" cy="264" r="2.9"/><circle cx="315" cy="260.9" r="3.3"/><circle cx="310.9" cy="261.8" r="3.7"/><circle cx="344.7" cy="110.9" r="2.7"/><circle cx="342.5" cy="110.9" r="2.5"/><circle cx="343.6" cy="107.4" r="3"/><circle cx="542.9" cy="22.1" r="3"/><circle cx="544" cy="23" r="2.2"/><circle cx="544.4" cy="20.7" r="3.1"/><circle cx="450.8" cy="34.6" r="1.8"/><circle cx="447.6" cy="38.7" r="2.3"/><circle cx="449.6" cy="35.5" r="2.4"/><circle cx="547.5" cy="103.3" r="2.5"/><circle cx="548.4" cy="105.9" r="2.7"/><circle cx="550.1" cy="105.7" r="3.2"/><circle cx="522.6" cy="149.8" r="2.2"/><circle cx="523.7" cy="152.5" r="1.9"/><circle cx="522.8" cy="150" r="2.2"/><circle cx="480.3" cy="166.2" r="1.3"/><circle cx="481.3" cy="168.8" r="1.3"/><circle cx="481.1" cy="166.7" r="1.4"/><circle cx="401" cy="246.3" r="3"/><circle cx="399.8" cy="245.5" r="1.7"/><circle cx="403" cy="244.2" r="3"/><circle cx="361.7" cy="240" r="2.4"/><circle cx="359.3" cy="238.5" r="1.9"/><circle cx="358.3" cy="238.9" r="1.7"/><circle cx="517.5" cy="282.9" r="1.7"/><circle cx="518.8" cy="283.7" r="3.1"/><circle cx="518.9" cy="284" r="2.3"/><circle cx="569.1" cy="245.5" r="1.9"/><circle cx="569.2" cy="245.4" r="2.3"/><circle cx="569" cy="244.8" r="2.1"/><circle cx="417.1" cy="281.3" r="2.4"/><circle cx="418.1" cy="282.2" r="1.2"/><circle cx="417.7" cy="282.3" r="1.2"/><circle cx="531.4" cy="100.9" r="0.9"/><circle cx="531.4" cy="100.5" r="1.5"/><circle cx="530.7" cy="101.1" r="1.5"/><circle cx="536.3" cy="39.3" r="1.7"/><circle cx="539.2" cy="39.9" r="1.5"/><circle cx="538.1" cy="40.1" r="1.4"/><circle cx="462.5" cy="181.3" r="1.3"/><circle cx="462.4" cy="181.3" r="1.4"/><circle cx="461.8" cy="181.8" r="1.4"/><circle cx="482.8" cy="149.1" r="2.3"/><circle cx="482.5" cy="149" r="1.8"/><circle cx="484.3" cy="148.7" r="1.7"/><circle cx="312.6" cy="280.6" r="1.2"/><circle cx="313.9" cy="279" r="1.1"/><circle cx="313.4" cy="280.8" r="1.2"/><circle cx="534.1" cy="150.6" r="2"/><circle cx="534" cy="153.3" r="2.4"/><circle cx="534" cy="151.2" r="2.3"/><circle cx="357.1" cy="100" r="1"/><circle cx="356" cy="98.8" r="1.4"/><circle cx="356.3" cy="98.9" r="1.1"/><circle cx="525.2" cy="159.4" r="1.6"/><circle cx="524.5" cy="158.4" r="1.6"/><circle cx="526.4" cy="160.8" r="1.2"/><circle cx="360.3" cy="32.1" r="1"/><circle cx="359.8" cy="31.8" r="1.4"/><circle cx="359.2" cy="30.5" r="1.1"/><circle cx="462.5" cy="130.7" r="1.9"/><circle cx="462.7" cy="133.4" r="1.3"/><circle cx="465" cy="133" r="2.3"/><circle cx="328.3" cy="248.1" r="2.2"/><circle cx="324.6" cy="247.4" r="1.6"/><circle cx="325.8" cy="247.1" r="2.1"/><circle cx="514" cy="220.7" r="2.1"/><circle cx="513.7" cy="218" r="2.4"/><circle cx="514.2" cy="220.1" r="1.7"/><circle cx="331.2" cy="139.1" r="1.4"/><circle cx="331.2" cy="139.7" r="1.5"/><circle cx="332.6" cy="139.7" r="0.8"/><circle cx="526.5" cy="161.7" r="0.8"/><circle cx="525.7" cy="160.2" r="1.2"/><circle cx="526" cy="160.7" r="1.4"/><circle cx="429.3" cy="227.2" r="1.2"/><circle cx="429.7" cy="227.2" r="2.1"/><circle cx="432" cy="227.3" r="1.6"/><circle cx="339" cy="273.7" r="1"/><circle cx="339.7" cy="274.3" r="1"/><circle cx="338.7" cy="273.7" r="0.9"/><circle cx="543.8" cy="285.4" r="1.7"/><circle cx="542" cy="283.4" r="1.7"/><circle cx="544" cy="285.7" r="1.7"/><circle cx="573.5" cy="159.1" r="1.3"/><circle cx="572.4" cy="158.8" r="1.5"/><circle cx="572.5" cy="159.3" r="1.3"/><circle cx="437.8" cy="217.7" r="2.1"/><circle cx="437.1" cy="217.3" r="1.8"/><circle cx="440.1" cy="219.2" r="1.7"/><circle cx="414.7" cy="277.7" r="1"/><circle cx="413.7" cy="276.1" r="1.4"/><circle cx="414.2" cy="277.9" r="1.4"/><circle cx="445.8" cy="19.9" r="1.5"/><circle cx="444.2" cy="19.5" r="1"/><circle cx="444.3" cy="20" r="1"/><circle cx="583.3" cy="39.8" r="2.6"/><circle cx="583.7" cy="39.5" r="2.6"/><circle cx="583.4" cy="42.9" r="2.3"/><circle cx="561.9" cy="204.5" r="1.2"/><circle cx="561.8" cy="202.4" r="1.3"/><circle cx="561.1" cy="204" r="0.8"/><circle cx="439" cy="205.5" r="0.8"/><circle cx="438" cy="204.7" r="1.5"/><circle cx="437.8" cy="203.7" r="1"/><circle cx="389.8" cy="35.1" r="1.8"/><circle cx="388.9" cy="33.7" r="1.7"/><circle cx="389.1" cy="32.5" r="1.9"/><circle cx="565.8" cy="270" r="2.2"/><circle cx="562.7" cy="271" r="2.2"/><circle cx="564.6" cy="270.4" r="1.8"/><circle cx="468.3" cy="26.9" r="1.2"/><circle cx="466.6" cy="26.5" r="2"/><circle cx="468" cy="25.5" r="1.8"/><circle cx="519.6" cy="222.2" r="0.9"/><circle cx="520.5" cy="222.3" r="0.9"/><circle cx="520.7" cy="223.7" r="0.9"/><circle cx="308.1" cy="32.6" r="2.5"/><circle cx="307.6" cy="32.1" r="1.7"/><circle cx="305.4" cy="32.9" r="1.9"/><circle cx="336.1" cy="118.4" r="1.4"/><circle cx="338" cy="117.7" r="2.1"/><circle cx="337" cy="119.1" r="1.5"/></g>
<circle cx="328" cy="176.8" r="10.2" fill="#6a6a6a" opacity="0.55" filter="url(#b3)"/>
<circle cx="376.2" cy="260.7" r="4.6" fill="#6a6a6a" opacity="0.55" filter="url(#b3)"/>
<circle cx="305.1" cy="258.1" r="7.6" fill="#6a6a6a" opacity="0.55" filter="url(#b3)"/>
<circle cx="340.7" cy="110.7" r="3.6" fill="#6a6a6a" opacity="0.55" filter="url(#b3)"/>
<circle cx="449.9" cy="29.4" r="3" fill="#6a6a6a" opacity="0.55" filter="url(#b3)"/>
<circle cx="544" cy="19.2" r="2.5" fill="#6a6a6a" opacity="0.55" filter="url(#b3)"/>
<path d="M376.2,56.1 C377.3,51.7 379.6,48.3 383.9,46.7 C388.1,45.1 395.3,45.1 401.7,46.7 C408,48.3 415.2,52.7 422,56.1 C428.8,59.5 436.3,63 442.3,67 C448.3,71 453.7,74.6 458.1,80.2 C462.4,85.9 465.7,94.2 468.2,101.1 C470.8,107.9 471.9,115.5 473.3,121.4 C474.7,127.3 474.7,132.1 476.6,136.7 C478.6,141.2 480.3,144.6 485,148.9 C489.7,153.1 498.9,156.6 504.6,162.1 C510.2,167.6 515.2,174.4 519.1,181.9 C523,189.4 526.8,200 528,207.3 C529.1,214.6 528.3,221.3 526.2,225.6 C524.1,229.9 520.2,232.4 515.5,233.2 C510.8,234.1 503.7,233.1 498.2,230.7 C492.7,228.3 487.8,223.1 482.5,218.7 C477.2,214.4 472.4,209.5 466.5,204.8 C460.5,200 452.8,194.7 446.9,190 C441,185.4 435.1,182.4 430.9,176.8 C426.6,171.2 423.5,163.3 421.5,156.5 C419.5,149.7 420.2,142.4 418.9,136.1 C417.7,129.9 416.8,123.4 413.9,118.9 C410.9,114.3 405.7,113.2 401.1,108.7 C396.6,104.2 390.3,97.6 386.4,91.7 C382.5,85.7 379.2,79.1 377.5,73.1 C375.8,67.2 375.2,60.5 376.2,56.1Z" fill="#2a2a2a" opacity="0.6" filter="url(#b8)"/>
<circle cx="414.4" cy="131.1" r="17.8" fill="#1a1a1a" opacity="0.75" filter="url(#b8)"/>
<circle cx="442.3" cy="77.7" r="14" fill="#1a1a1a" opacity="0.75" filter="url(#b8)"/>
<circle cx="472.8" cy="146.3" r="15.2" fill="#1a1a1a" opacity="0.75" filter="url(#b8)"/>
<circle cx="427.1" cy="146.3" r="10.2" fill="#1a1a1a" opacity="0.75" filter="url(#b8)"/>
<path d="M437.2,63.7 C441,67.1 454.7,76.2 460.1,84.1 C465.5,91.9 467.1,102.1 469.8,110.7 C472.4,119.4 473,129.4 475.9,136.1 C478.7,142.9 485,148.9 486.8,151.4" fill="none" stroke="#1e1e1e" stroke-width="14" opacity="0.65" filter="url(#b5)"/>
<path d="M401.7,108.2 C404,110.3 412.5,115.4 415.6,120.9 C418.8,126.4 419.2,134.5 420.7,141.2 C422.2,148 423.9,158.2 424.5,161.6" fill="none" stroke="#1e1e1e" stroke-width="16" opacity="0.6" filter="url(#b5)"/>
<clipPath id="cc2"><path d="M376.2,56.1 C377.3,51.7 379.6,48.3 383.9,46.7 C388.1,45.1 395.3,45.1 401.7,46.7 C408,48.3 415.2,52.7 422,56.1 C428.8,59.5 436.3,63 442.3,67 C448.3,71 453.7,74.6 458.1,80.2 C462.4,85.9 465.7,94.2 468.2,101.1 C470.8,107.9 471.9,115.5 473.3,121.4 C474.7,127.3 474.7,132.1 476.6,136.7 C478.6,141.2 480.3,144.6 485,148.9 C489.7,153.1 498.9,156.6 504.6,162.1 C510.2,167.6 515.2,174.4 519.1,181.9 C523,189.4 526.8,200 528,207.3 C529.1,214.6 528.3,221.3 526.2,225.6 C524.1,229.9 520.2,232.4 515.5,233.2 C510.8,234.1 503.7,233.1 498.2,230.7 C492.7,228.3 487.8,223.1 482.5,218.7 C477.2,214.4 472.4,209.5 466.5,204.8 C460.5,200 452.8,194.7 446.9,190 C441,185.4 435.1,182.4 430.9,176.8 C426.6,171.2 423.5,163.3 421.5,156.5 C419.5,149.7 420.2,142.4 418.9,136.1 C417.7,129.9 416.8,123.4 413.9,118.9 C410.9,114.3 405.7,113.2 401.1,108.7 C396.6,104.2 390.3,97.6 386.4,91.7 C382.5,85.7 379.2,79.1 377.5,73.1 C375.8,67.2 375.2,60.5 376.2,56.1Z"/></clipPath>
<path d="M376.2,56.1 C377.3,51.7 379.6,48.3 383.9,46.7 C388.1,45.1 395.3,45.1 401.7,46.7 C408,48.3 415.2,52.7 422,56.1 C428.8,59.5 436.3,63 442.3,67 C448.3,71 453.7,74.6 458.1,80.2 C462.4,85.9 465.7,94.2 468.2,101.1 C470.8,107.9 471.9,115.5 473.3,121.4 C474.7,127.3 474.7,132.1 476.6,136.7 C478.6,141.2 480.3,144.6 485,148.9 C489.7,153.1 498.9,156.6 504.6,162.1 C510.2,167.6 515.2,174.4 519.1,181.9 C523,189.4 526.8,200 528,207.3 C529.1,214.6 528.3,221.3 526.2,225.6 C524.1,229.9 520.2,232.4 515.5,233.2 C510.8,234.1 503.7,233.1 498.2,230.7 C492.7,228.3 487.8,223.1 482.5,218.7 C477.2,214.4 472.4,209.5 466.5,204.8 C460.5,200 452.8,194.7 446.9,190 C441,185.4 435.1,182.4 430.9,176.8 C426.6,171.2 423.5,163.3 421.5,156.5 C419.5,149.7 420.2,142.4 418.9,136.1 C417.7,129.9 416.8,123.4 413.9,118.9 C410.9,114.3 405.7,113.2 401.1,108.7 C396.6,104.2 390.3,97.6 386.4,91.7 C382.5,85.7 379.2,79.1 377.5,73.1 C375.8,67.2 375.2,60.5 376.2,56.1Z" fill="#a9a9a9"/>
<g clip-path="url(#cc2)">
<path d="M416.9,113.3 C420.3,111.4 430.2,103.3 437.2,101.8 C444.2,100.4 455.2,104 458.8,104.4" fill="none" stroke="#6a6a6a" stroke-width="3.5" filter="url(#b2)"/>
<path d="M427.1,146.3 C431.3,144.6 445.5,136.1 452.5,136.1 C459.5,136.1 466.2,144.6 469,146.3" fill="none" stroke="#6a6a6a" stroke-width="3.5" filter="url(#b2)"/>
<path d="M462.6,169.2 C465.2,167.1 472.4,156.9 477.9,156.5 C483.4,156.1 492.7,164.9 495.7,166.6" fill="none" stroke="#6a6a6a" stroke-width="3.5" filter="url(#b2)"/>
<path d="M483,199.7 C486.4,197.6 497.2,187.4 503.3,187 C509.4,186.5 517.1,195.4 519.8,197.1" fill="none" stroke="#6a6a6a" stroke-width="3.5" filter="url(#b2)"/>
<path d="M383.9,87.9 C386.8,85.7 395.7,77.7 401.7,75.2 C407.6,72.6 416.5,73 419.4,72.6" fill="none" stroke="#6a6a6a" stroke-width="3.5" filter="url(#b2)"/>
<path d="M437.2,67.5 C438.1,70.9 442.3,80.7 442.3,87.9 C442.3,95.1 438.1,106.9 437.2,110.7" fill="none" stroke="#6a6a6a" stroke-width="3.5" filter="url(#b2)"/>
<path d="M452.5,110.7 C453.3,112.9 457.6,119.2 457.6,123.4 C457.6,127.7 453.3,134 452.5,136.1" fill="none" stroke="#6a6a6a" stroke-width="3.5" filter="url(#b2)"/>
<ellipse cx="442.3" cy="85.3" rx="8.132147395171538" ry="4.879288437102923" fill="#303030" filter="url(#b3)" opacity="0.85"/>
<ellipse cx="419.4" cy="123.4" rx="4.879288437102923" ry="14.637865311308767" fill="#303030" filter="url(#b3)" opacity="0.85"/>
<ellipse cx="472.8" cy="152.7" rx="7.3189326556543834" ry="7.3189326556543834" fill="#303030" filter="url(#b3)" opacity="0.85"/>
<ellipse cx="427.1" cy="100.6" rx="4.066073697585769" ry="5.692503176620076" fill="#303030" filter="url(#b3)" opacity="0.85"/>
<path d="M376.2,56.1 C377.3,51.7 379.6,48.3 383.9,46.7 C388.1,45.1 395.3,45.1 401.7,46.7 C408,48.3 415.2,52.7 422,56.1 C428.8,59.5 436.3,63 442.3,67 C448.3,71 453.7,74.6 458.1,80.2 C462.4,85.9 465.7,94.2 468.2,101.1 C470.8,107.9 471.9,115.5 473.3,121.4 C474.7,127.3 474.7,132.1 476.6,136.7 C478.6,141.2 480.3,144.6 485,148.9 C489.7,153.1 498.9,156.6 504.6,162.1 C510.2,167.6 515.2,174.4 519.1,181.9 C523,189.4 526.8,200 528,207.3 C529.1,214.6 528.3,221.3 526.2,225.6 C524.1,229.9 520.2,232.4 515.5,233.2 C510.8,234.1 503.7,233.1 498.2,230.7 C492.7,228.3 487.8,223.1 482.5,218.7 C477.2,214.4 472.4,209.5 466.5,204.8 C460.5,200 452.8,194.7 446.9,190 C441,185.4 435.1,182.4 430.9,176.8 C426.6,171.2 423.5,163.3 421.5,156.5 C419.5,149.7 420.2,142.4 418.9,136.1 C417.7,129.9 416.8,123.4 413.9,118.9 C410.9,114.3 405.7,113.2 401.1,108.7 C396.6,104.2 390.3,97.6 386.4,91.7 C382.5,85.7 379.2,79.1 377.5,73.1 C375.8,67.2 375.2,60.5 376.2,56.1Z" fill="none" stroke="#444" stroke-width="6" filter="url(#b2)"/>
</g>
<path d="M376.2,56.1 C377.3,51.7 379.6,48.3 383.9,46.7 C388.1,45.1 395.3,45.1 401.7,46.7 C408,48.3 415.2,52.7 422,56.1 C428.8,59.5 436.3,63 442.3,67 C448.3,71 453.7,74.6 458.1,80.2 C462.4,85.9 465.7,94.2 468.2,101.1 C470.8,107.9 471.9,115.5 473.3,121.4 C474.7,127.3 474.7,132.1 476.6,136.7 C478.6,141.2 480.3,144.6 485,148.9 C489.7,153.1 498.9,156.6 504.6,162.1 C510.2,167.6 515.2,174.4 519.1,181.9 C523,189.4 526.8,200 528,207.3 C529.1,214.6 528.3,221.3 526.2,225.6 C524.1,229.9 520.2,232.4 515.5,233.2 C510.8,234.1 503.7,233.1 498.2,230.7 C492.7,228.3 487.8,223.1 482.5,218.7 C477.2,214.4 472.4,209.5 466.5,204.8 C460.5,200 452.8,194.7 446.9,190 C441,185.4 435.1,182.4 430.9,176.8 C426.6,171.2 423.5,163.3 421.5,156.5 C419.5,149.7 420.2,142.4 418.9,136.1 C417.7,129.9 416.8,123.4 413.9,118.9 C410.9,114.3 405.7,113.2 401.1,108.7 C396.6,104.2 390.3,97.6 386.4,91.7 C382.5,85.7 379.2,79.1 377.5,73.1 C375.8,67.2 375.2,60.5 376.2,56.1Z" fill="none" stroke="#333" stroke-width="2"/>
<path d="M358.4,4 C361,8.2 369.4,21.9 373.7,29.4 C378,37 382.6,45.9 384.4,49.2" fill="none" stroke="#ececec" stroke-width="1.8"/>
<path d="M409.3,143.3 C403.8,144.4 387.7,147.1 376.2,150.1 C364.8,153.2 350.2,156.7 340.7,161.6 C331.1,166.4 323.7,172.6 319.1,179.3 C314.4,186.1 312.3,194.2 312.7,202.2 C313.1,210.3 318.3,219.2 321.6,227.6 C324.9,236.1 331.1,243.7 332.5,253 C333.9,262.4 330.7,276.3 330,283.5 C329.2,290.7 328.3,294.1 328,296.2" fill="none" stroke="#ececec" stroke-width="1.8"/>
<path d="M523.6,232.7 C528.7,233 542.3,233.7 554.1,234.2 C566,234.7 588,235.5 594.8,235.8" fill="none" stroke="#e4e4e4" stroke-width="1.8"/>
<path d="M544,248.5 C546.1,247.3 548.2,243.3 556.7,241.6 C565.1,239.9 588.4,238.9 594.8,238.3" fill="none" stroke="#e4e4e4" stroke-width="1.8"/>
</g>
<g clip-path="url(#c3)">
<rect x="597" y="4" width="291" height="292" fill="#c5c5c5"/>
<rect x="597" y="4" width="291" height="292" filter="url(#bg3)"/>
<g fill="#8a8a8a"><circle cx="600.6" cy="36.8" r="0.7"/><circle cx="796" cy="44.5" r="0.5"/><circle cx="664.5" cy="225.2" r="0.5"/><circle cx="812.5" cy="197.4" r="0.5"/><circle cx="752.9" cy="134.7" r="0.7"/><circle cx="886.9" cy="31.2" r="0.4"/><circle cx="870.5" cy="121.7" r="0.6"/><circle cx="693.1" cy="110.5" r="1.2"/><circle cx="658.2" cy="67.3" r="0.9"/><circle cx="756.3" cy="282.5" r="1.1"/><circle cx="700.5" cy="63.5" r="1.1"/><circle cx="884.8" cy="12.9" r="1"/><circle cx="849.7" cy="194.1" r="0.6"/><circle cx="828.8" cy="217.1" r="0.6"/><circle cx="783.5" cy="68" r="0.4"/><circle cx="694.8" cy="101.6" r="0.7"/><circle cx="785.2" cy="248.2" r="1.2"/><circle cx="881.1" cy="294.1" r="1"/><circle cx="686.1" cy="55.5" r="0.9"/><circle cx="755.8" cy="201" r="0.5"/><circle cx="653.1" cy="272.9" r="0.9"/><circle cx="799.4" cy="31.9" r="0.7"/><circle cx="861.8" cy="193.6" r="1.2"/><circle cx="654.3" cy="136.8" r="1"/><circle cx="726.4" cy="234.4" r="0.8"/><circle cx="631.3" cy="32.9" r="1.2"/><circle cx="631.7" cy="60.7" r="0.7"/><circle cx="804.6" cy="253.4" r="0.8"/><circle cx="742" cy="234.2" r="0.6"/><circle cx="705.4" cy="182.9" r="0.9"/><circle cx="608.1" cy="36.7" r="0.5"/><circle cx="808" cy="206.3" r="1.2"/><circle cx="820.4" cy="78.4" r="1"/><circle cx="883.6" cy="105.8" r="0.4"/><circle cx="706.2" cy="86.5" r="0.5"/><circle cx="610.1" cy="40.5" r="1.1"/><circle cx="611.5" cy="183.3" r="0.6"/><circle cx="653.3" cy="243.7" r="0.6"/><circle cx="650.5" cy="136.8" r="1"/><circle cx="749.6" cy="255" r="0.7"/></g>
<path d="M657.2,216.6 C658,211.4 660.1,207.7 665.1,199.4 C670,191 679.4,176.7 687,166.5 C694.6,156.3 702.6,146.9 710.5,138.3 C718.3,129.7 726.1,121.6 734,114.8 C741.8,108 749.6,102.8 757.5,97.6 C765.3,92.4 773.1,87.7 781,83.5 C788.8,79.3 798.6,74 804.4,72.2 C810.3,70.4 812.7,71 816.2,72.8 C819.7,74.7 824,79.6 825.6,83.5 C827.2,87.4 827.8,90 825.6,96 C823.4,102 818.4,110.4 812.3,119.5 C806.1,128.7 796.6,140.4 788.8,150.8 C781,161.3 773.1,173.3 765.3,182.2 C757.5,191 749.6,198.1 741.8,204.1 C734,210.1 726.1,214 718.3,218.2 C710.5,222.4 702.1,226.3 694.8,229.1 C687.5,232 680.2,235.2 674.5,235.4 C668.7,235.7 663.2,233.8 660.4,230.7 C657.5,227.6 656.4,221.8 657.2,216.6Z" fill="#555" opacity="0.3" filter="url(#b3)"/>
<clipPath id="cc3"><path d="M657.2,216.6 C658,211.4 660.1,207.7 665.1,199.4 C670,191 679.4,176.7 687,166.5 C694.6,156.3 702.6,146.9 710.5,138.3 C718.3,129.7 726.1,121.6 734,114.8 C741.8,108 749.6,102.8 757.5,97.6 C765.3,92.4 773.1,87.7 781,83.5 C788.8,79.3 798.6,74 804.4,72.2 C810.3,70.4 812.7,71 816.2,72.8 C819.7,74.7 824,79.6 825.6,83.5 C827.2,87.4 827.8,90 825.6,96 C823.4,102 818.4,110.4 812.3,119.5 C806.1,128.7 796.6,140.4 788.8,150.8 C781,161.3 773.1,173.3 765.3,182.2 C757.5,191 749.6,198.1 741.8,204.1 C734,210.1 726.1,214 718.3,218.2 C710.5,222.4 702.1,226.3 694.8,229.1 C687.5,232 680.2,235.2 674.5,235.4 C668.7,235.7 663.2,233.8 660.4,230.7 C657.5,227.6 656.4,221.8 657.2,216.6Z"/></clipPath>
<path d="M657.2,216.6 C658,211.4 660.1,207.7 665.1,199.4 C670,191 679.4,176.7 687,166.5 C694.6,156.3 702.6,146.9 710.5,138.3 C718.3,129.7 726.1,121.6 734,114.8 C741.8,108 749.6,102.8 757.5,97.6 C765.3,92.4 773.1,87.7 781,83.5 C788.8,79.3 798.6,74 804.4,72.2 C810.3,70.4 812.7,71 816.2,72.8 C819.7,74.7 824,79.6 825.6,83.5 C827.2,87.4 827.8,90 825.6,96 C823.4,102 818.4,110.4 812.3,119.5 C806.1,128.7 796.6,140.4 788.8,150.8 C781,161.3 773.1,173.3 765.3,182.2 C757.5,191 749.6,198.1 741.8,204.1 C734,210.1 726.1,214 718.3,218.2 C710.5,222.4 702.1,226.3 694.8,229.1 C687.5,232 680.2,235.2 674.5,235.4 C668.7,235.7 663.2,233.8 660.4,230.7 C657.5,227.6 656.4,221.8 657.2,216.6Z" fill="#6c6c6c"/>
<g clip-path="url(#cc3)">
<path d="M676,216.6 C681.8,211.4 698.2,196.8 710.5,185.3 C722.7,173.8 737.9,160 749.6,147.7 C761.4,135.4 771.8,121.9 781,111.7 C790.1,101.5 800.5,90.8 804.4,86.6" fill="none" stroke="#161616" stroke-width="26" stroke-linecap="round" filter="url(#b5)"/>
<path d="M687,205.7 C692.2,200.7 707.9,186.1 718.3,175.9 C728.7,165.7 740.5,154.5 749.6,144.6 C758.8,134.7 769.2,121.1 773.1,116.4" fill="none" stroke="#1a1a1a" stroke-width="14" stroke-linecap="round" filter="url(#b3)"/>
<path d="M668.2,196.3 C672.6,190.3 683.9,172.8 694.8,160.2 C705.8,147.7 719.6,132.8 734,121.1 C748.3,109.3 773.1,95 781,89.8" fill="none" stroke="#7a7a7a" stroke-width="12" filter="url(#b5)"/>
<path d="M691.7,224.4 C700,220 725.6,210.6 741.8,197.8 C758,185 776,163.9 788.8,147.7 C801.6,131.5 813.6,108.6 818.5,100.7" fill="none" stroke="#777" stroke-width="10" filter="url(#b5)"/>
</g>
<path d="M657.2,216.6 C658,211.4 660.1,207.7 665.1,199.4 C670,191 679.4,176.7 687,166.5 C694.6,156.3 702.6,146.9 710.5,138.3 C718.3,129.7 726.1,121.6 734,114.8 C741.8,108 749.6,102.8 757.5,97.6 C765.3,92.4 773.1,87.7 781,83.5 C788.8,79.3 798.6,74 804.4,72.2 C810.3,70.4 812.7,71 816.2,72.8 C819.7,74.7 824,79.6 825.6,83.5 C827.2,87.4 827.8,90 825.6,96 C823.4,102 818.4,110.4 812.3,119.5 C806.1,128.7 796.6,140.4 788.8,150.8 C781,161.3 773.1,173.3 765.3,182.2 C757.5,191 749.6,198.1 741.8,204.1 C734,210.1 726.1,214 718.3,218.2 C710.5,222.4 702.1,226.3 694.8,229.1 C687.5,232 680.2,235.2 674.5,235.4 C668.7,235.7 663.2,233.8 660.4,230.7 C657.5,227.6 656.4,221.8 657.2,216.6Z" fill="none" stroke="#4a4a4a" stroke-width="1.3"/>
<circle cx="668.2" cy="224.4" r="9.4" fill="#151515" opacity="0.75" filter="url(#b2)"/>
<circle cx="809.1" cy="81.9" r="8.6" fill="#151515" opacity="0.75" filter="url(#b2)"/>
<circle cx="793.5" cy="91.3" r="6.3" fill="#151515" opacity="0.75" filter="url(#b2)"/>
<path d="M819.8,78.3 C823.2,75.2 833.9,66.5 840.7,59.5 C847.4,52.6 855.4,43.9 860.2,36.6 C865.1,29.2 867.9,21.1 869.9,15.7 C871.9,10.2 871.6,5.9 872,3.9" fill="none" stroke="#5a5a5a" stroke-width="1.4"/>
<path d="M661,230.3 C657.9,228.2 648.8,221.9 642.2,218 C635.6,214.1 628.7,209.4 621.3,206.8 C613.9,204.2 601.7,203.3 597.8,202.6" fill="none" stroke="#5a5a5a" stroke-width="1.4"/>
<path d="M805.4,36.6 l4,-2 l-1,4 l3,1" stroke="#666" fill="none" stroke-width="1.5"/>
</g>
<g clip-path="url(#c4)">
<rect x="4" y="302" width="292" height="292" fill="#b8b8b8"/>
<rect x="4" y="302" width="292" height="292" filter="url(#bg4)"/>
<g fill="#808080"><circle cx="115.3" cy="369.4" r="0.5"/><circle cx="270.8" cy="470.8" r="1"/><circle cx="165.5" cy="414" r="1.1"/><circle cx="172.3" cy="530.1" r="1"/><circle cx="249.1" cy="430.3" r="0.5"/><circle cx="47.8" cy="513.2" r="0.6"/><circle cx="195.2" cy="483.3" r="0.5"/><circle cx="233" cy="311.6" r="1.2"/><circle cx="249.6" cy="365" r="1.1"/><circle cx="217.8" cy="338.5" r="1"/><circle cx="40.1" cy="568.7" r="1"/><circle cx="290.2" cy="317.6" r="0.7"/><circle cx="185" cy="479.6" r="0.6"/><circle cx="263.2" cy="549.2" r="0.7"/><circle cx="46.6" cy="497" r="0.8"/><circle cx="197.7" cy="446" r="0.8"/><circle cx="10.3" cy="341.4" r="0.8"/><circle cx="216.6" cy="426.3" r="1.1"/><circle cx="161.6" cy="559.1" r="1"/><circle cx="98" cy="342.5" r="0.5"/><circle cx="15.6" cy="553.8" r="1.2"/><circle cx="223.4" cy="333.9" r="1"/><circle cx="41.3" cy="561.6" r="1"/><circle cx="222.9" cy="479.8" r="0.8"/><circle cx="251.7" cy="582.8" r="0.6"/><circle cx="131.7" cy="516.2" r="1"/><circle cx="123.9" cy="433.4" r="1.3"/><circle cx="84.6" cy="363.8" r="1"/><circle cx="84.9" cy="564.1" r="0.7"/><circle cx="274" cy="412.9" r="1.2"/><circle cx="223.3" cy="515.7" r="0.6"/><circle cx="52" cy="311.1" r="0.6"/><circle cx="198.6" cy="320.8" r="0.6"/><circle cx="169.6" cy="347.3" r="0.7"/><circle cx="70.7" cy="499.4" r="0.5"/><circle cx="295.3" cy="476.8" r="1"/><circle cx="165.3" cy="447.4" r="1.3"/><circle cx="265" cy="542" r="0.4"/><circle cx="176.1" cy="577" r="1"/><circle cx="153.8" cy="491.7" r="0.6"/><circle cx="216.5" cy="530.8" r="0.5"/><circle cx="152.9" cy="475.8" r="0.7"/><circle cx="203.1" cy="571.2" r="1.2"/><circle cx="93.9" cy="346.3" r="1.2"/><circle cx="182.7" cy="544.2" r="1.2"/></g>
<path d="M95.5,467.2 C98.2,459.6 104,451.5 110.7,444.3 C117.5,437.1 126.8,430.3 136.1,424 C145.5,417.7 156.8,411.5 166.6,406.7 C176.5,401.9 184.9,397.1 195.1,395 C205.3,392.9 217.1,392.6 227.6,394 C238.1,395.4 250.1,398.6 258.1,403.1 C266.2,407.7 271.8,414.2 275.9,421.4 C280,428.7 282.7,438 282.8,446.9 C282.9,455.7 280.5,465.5 276.4,474.8 C272.4,484.1 266.3,494.6 258.6,502.8 C251,510.9 240.1,518 230.7,523.6 C221.3,529.2 211.2,533.3 202.2,536.3 C193.2,539.3 186.1,540.8 176.8,541.4 C167.5,542 155.6,542.2 146.3,540.1 C137,538 128.1,533.6 120.9,528.7 C113.7,523.8 107.5,517.3 103.1,510.9 C98.7,504.5 95.7,497.3 94.5,490.1 C93.2,482.8 92.8,474.8 95.5,467.2Z" fill="none" stroke="#f0f0f0" stroke-width="9" opacity="0.9" filter="url(#b3)"/>
<path d="M95.5,467.2 C98.2,459.6 104,451.5 110.7,444.3 C117.5,437.1 126.8,430.3 136.1,424 C145.5,417.7 156.8,411.5 166.6,406.7 C176.5,401.9 184.9,397.1 195.1,395 C205.3,392.9 217.1,392.6 227.6,394 C238.1,395.4 250.1,398.6 258.1,403.1 C266.2,407.7 271.8,414.2 275.9,421.4 C280,428.7 282.7,438 282.8,446.9 C282.9,455.7 280.5,465.5 276.4,474.8 C272.4,484.1 266.3,494.6 258.6,502.8 C251,510.9 240.1,518 230.7,523.6 C221.3,529.2 211.2,533.3 202.2,536.3 C193.2,539.3 186.1,540.8 176.8,541.4 C167.5,542 155.6,542.2 146.3,540.1 C137,538 128.1,533.6 120.9,528.7 C113.7,523.8 107.5,517.3 103.1,510.9 C98.7,504.5 95.7,497.3 94.5,490.1 C93.2,482.8 92.8,474.8 95.5,467.2Z" fill="#9b9b9b" stroke="#6e6e6e" stroke-width="2"/>
<path d="M195.1,395 C195.9,398.6 196.4,409 199.7,416.4 C203,423.7 209.4,432.5 214.9,439.2 C220.4,446 226.4,452.8 232.7,457 C239.1,461.3 246.3,465.1 253,464.6 C259.8,464.2 270,456.2 273.4,454.5" fill="none" stroke="#707070" stroke-width="2.2"/>
<path d="M123.4,434.1 C125.6,435.8 130.6,440.1 136.1,444.3 C141.7,448.5 151.8,453.6 156.5,459.6 C161.1,465.5 163.3,472.3 164.1,479.9 C164.9,487.5 163.3,496.8 161.6,505.3 C159.9,513.8 155.4,525 153.9,530.7 C152.5,536.4 152.9,538.1 152.7,539.6" fill="none" stroke="#808080" stroke-width="1.8"/>
<path d="M100.6,479.9 C103.1,478.2 109.9,471 115.8,469.7 C121.7,468.5 130.2,469.7 136.1,472.3 C142.1,474.8 147.6,480.3 151.4,485 C155.2,489.6 157.7,497.7 159,500.2" fill="none" stroke="#888" stroke-width="1.5"/>
<ellipse cx="167.9" cy="505.3" rx="5" ry="12" fill="#b4b4b4" filter="url(#b3)"/>
<ellipse cx="240.3" cy="439.2" rx="22" ry="14" fill="#8a8a8a" filter="url(#b5)" opacity="0.7"/>
<path d="M4,307.6 C8.2,309.6 21.2,315.2 29.4,319.8 C37.7,324.4 46.7,329.3 53.6,335 C60.4,340.8 66.1,346.9 70.6,354.1 C75,361.3 77.1,370.6 80.2,378.2 C83.3,385.9 85.5,393.1 89.1,399.8 C92.7,406.6 98,412.5 101.8,418.9 C105.7,425.3 110.3,434.8 112,438" fill="none" stroke="#6c6c6c" stroke-width="1.8"/>
<path d="M4,333.8 C7.4,336.1 17.1,343.2 24.3,347.7 C31.5,352.3 37.9,356.7 47.2,361 C56.5,365.2 69.7,369.3 80.2,373.2 C90.8,377 103.1,379.4 110.7,383.8 C118.4,388.3 122.9,394.4 126,399.8 C129,405.3 129.5,410.2 129,416.4 C128.6,422.5 125.3,429.9 123.4,436.7 C121.6,443.5 118.8,453.6 117.9,457" fill="none" stroke="#6c6c6c" stroke-width="1.8"/>
<path d="M4,340.1 C9.1,342.7 24.8,350.3 34.5,355.4 C44.2,360.4 54.8,364.7 62.4,370.6 C70.1,376.5 73.9,383.3 80.2,390.9 C86.6,398.6 95.5,408.3 100.6,416.4 C105.7,424.4 109,435.4 110.7,439.2" fill="none" stroke="#7a7a7a" stroke-width="1.4"/>
<path d="M298.8,324.9 C297.3,328.7 292.2,339.3 289.9,347.7 C287.6,356.2 286.5,367.4 284.8,375.7 C283.1,384 282.9,392.1 279.7,397.3 C276.6,402.5 268.1,405.1 265.8,406.7" fill="none" stroke="#6c6c6c" stroke-width="1.8"/>
<circle cx="56.1" cy="341.4" r="4.5" fill="#151515"/>
<path d="M232.7,350.3 C234.3,348.2 239.3,343.5 241.6,343.9 C243.9,344.4 246.3,349.6 246.7,352.8 C247.1,356 243.7,360 244.2,363 C244.6,366 249.4,368.1 249.2,370.6 C249,373.2 245,378.2 242.9,378.2 C240.8,378.2 237.2,373.4 236.5,370.6 C235.9,367.9 239.8,364 239.1,361.7 C238.3,359.4 233.3,358.5 232.2,356.6 C231.1,354.7 231.1,352.4 232.7,350.3Z" fill="#1a1a1a"/>
<circle cx="44.7" cy="340.1" r="4" fill="#666" opacity="0.7"/>
<circle cx="185.7" cy="579" r="5" fill="#777" opacity="0.6"/>
<circle cx="283.5" cy="398.6" r="4" fill="#777" opacity="0.6"/>
</g>
<g clip-path="url(#c5)">
<rect x="302" y="302" width="291" height="292" fill="#e5e5e5"/>
<rect x="302" y="302" width="291" height="292" filter="url(#bg5)"/>
<g fill="#9a9a9a"><circle cx="372.9" cy="448.6" r="0.6"/><circle cx="541" cy="369.6" r="1"/><circle cx="571.6" cy="418" r="1.4"/><circle cx="514.9" cy="462" r="1"/><circle cx="472.5" cy="407.2" r="1.4"/><circle cx="419.5" cy="589.3" r="1.3"/><circle cx="310.2" cy="377.4" r="0.9"/><circle cx="539" cy="353.9" r="1"/><circle cx="408.9" cy="531.4" r="1.3"/><circle cx="523.8" cy="358.4" r="1.2"/><circle cx="429.5" cy="546.5" r="0.9"/><circle cx="565.8" cy="590" r="1.2"/><circle cx="542.4" cy="541.2" r="1"/><circle cx="352.9" cy="590" r="0.9"/><circle cx="306.7" cy="428.9" r="0.8"/><circle cx="360.5" cy="582.4" r="0.5"/><circle cx="565.1" cy="462.5" r="0.6"/><circle cx="406.3" cy="433.5" r="0.5"/><circle cx="524" cy="492.3" r="1.4"/><circle cx="543.5" cy="531.5" r="1.4"/><circle cx="573.2" cy="490" r="0.9"/><circle cx="454.4" cy="539.6" r="1.3"/><circle cx="543.7" cy="547" r="0.4"/><circle cx="424.4" cy="327.5" r="1"/><circle cx="470.8" cy="465.7" r="1.3"/><circle cx="367.4" cy="514.8" r="1"/><circle cx="364" cy="587.7" r="0.5"/><circle cx="437.3" cy="458.4" r="1"/><circle cx="587.8" cy="463" r="1.3"/><circle cx="387.7" cy="442.6" r="0.5"/><circle cx="488.1" cy="425.3" r="1.2"/><circle cx="334.7" cy="437.6" r="1.4"/><circle cx="305.3" cy="494.8" r="1.1"/><circle cx="513.2" cy="464.8" r="0.9"/><circle cx="581.2" cy="384.7" r="1.1"/><circle cx="496.5" cy="514.7" r="0.9"/><circle cx="306.9" cy="528.4" r="0.7"/><circle cx="529.7" cy="590.2" r="1.2"/><circle cx="419.2" cy="552.3" r="0.8"/><circle cx="395.1" cy="468.8" r="1.1"/><circle cx="501.6" cy="463.4" r="0.8"/><circle cx="518.1" cy="396.7" r="1"/><circle cx="303.6" cy="340.2" r="1.3"/><circle cx="364.7" cy="422.5" r="0.5"/><circle cx="524.6" cy="397.9" r="0.4"/><circle cx="381.7" cy="573.7" r="1.2"/><circle cx="302.9" cy="580.4" r="0.5"/><circle cx="442.9" cy="458" r="1.2"/><circle cx="343.2" cy="542.9" r="0.7"/><circle cx="516.8" cy="572.7" r="1"/><circle cx="302.5" cy="496.8" r="0.8"/><circle cx="514.6" cy="531" r="0.5"/><circle cx="467.2" cy="489.9" r="1.3"/><circle cx="480.6" cy="481.5" r="1.2"/><circle cx="348.5" cy="553" r="1"/><circle cx="487.1" cy="347.2" r="0.9"/><circle cx="421.1" cy="362.1" r="1.3"/><circle cx="548.2" cy="436" r="0.5"/><circle cx="588.3" cy="336.4" r="0.9"/><circle cx="466.5" cy="551.8" r="1.1"/></g>
<g fill="#7a7a7a" opacity="0.5" filter="url(#b1)"><circle cx="397.9" cy="434.7" r="4.3"/><circle cx="400.2" cy="434.7" r="4.6"/><circle cx="393.6" cy="432.8" r="4.7"/><circle cx="342.7" cy="528.9" r="1.8"/><circle cx="341.9" cy="525.8" r="2.5"/><circle cx="342.4" cy="524.7" r="1.9"/><circle cx="458.4" cy="558" r="2.8"/><circle cx="457.9" cy="557.4" r="1.8"/><circle cx="460.1" cy="554.2" r="1.6"/><circle cx="570.8" cy="471.2" r="1.9"/><circle cx="571.3" cy="474.4" r="2.1"/><circle cx="571.2" cy="472.8" r="2.7"/><circle cx="536.9" cy="327.6" r="2"/><circle cx="539.7" cy="327.4" r="1.6"/><circle cx="537.5" cy="324.8" r="1.4"/><circle cx="318.4" cy="559.3" r="1.9"/><circle cx="318.2" cy="560.6" r="1.6"/><circle cx="319.3" cy="561.1" r="1.8"/><circle cx="469.3" cy="579.9" r="2"/><circle cx="468.4" cy="581.7" r="1.2"/><circle cx="470.9" cy="581.2" r="1.2"/><circle cx="561" cy="539.5" r="1.9"/><circle cx="558.2" cy="538.4" r="1.4"/><circle cx="561.6" cy="538.9" r="2.1"/><circle cx="557.9" cy="344.7" r="1"/><circle cx="556.6" cy="343.8" r="1.3"/><circle cx="556" cy="344.3" r="1.4"/><circle cx="525.7" cy="328.6" r="1.3"/><circle cx="524.2" cy="329.2" r="1.1"/><circle cx="525.9" cy="329.2" r="1.3"/><circle cx="312.3" cy="577.7" r="1"/><circle cx="311.5" cy="577.1" r="0.9"/><circle cx="312.6" cy="579.2" r="0.9"/><circle cx="446.3" cy="414.9" r="1.8"/><circle cx="447.6" cy="412.2" r="1.9"/><circle cx="449.1" cy="412.9" r="1.7"/><circle cx="506.7" cy="477.4" r="0.9"/><circle cx="507.9" cy="477.2" r="1"/><circle cx="508.5" cy="477.5" r="1.4"/><circle cx="381.9" cy="543.4" r="1"/><circle cx="380.6" cy="544.9" r="0.9"/><circle cx="381.2" cy="545.2" r="1.3"/><circle cx="483.3" cy="389" r="1.1"/><circle cx="482.7" cy="389.1" r="1"/><circle cx="482" cy="388.3" r="1"/><circle cx="435.7" cy="360.2" r="1.6"/><circle cx="434.3" cy="358.4" r="1"/><circle cx="433.6" cy="359.7" r="1.8"/><circle cx="324.9" cy="311" r="1.2"/><circle cx="325.6" cy="310.7" r="1.2"/><circle cx="324.9" cy="310.8" r="0.9"/><circle cx="330.6" cy="556" r="1.6"/><circle cx="330" cy="556.5" r="1.5"/><circle cx="330.8" cy="554" r="1.4"/><circle cx="497.9" cy="527.4" r="1"/><circle cx="499" cy="527.3" r="1.2"/><circle cx="498.1" cy="527.3" r="1.2"/><circle cx="577" cy="414.1" r="1.6"/><circle cx="577.1" cy="415" r="1.7"/><circle cx="577.3" cy="414.5" r="1.3"/><circle cx="443.1" cy="504.3" r="2.1"/><circle cx="444.1" cy="503.8" r="1.9"/><circle cx="444.9" cy="502.1" r="1.9"/><circle cx="360.5" cy="541.5" r="1.2"/><circle cx="360.6" cy="541.8" r="1.4"/><circle cx="360.9" cy="539.9" r="1"/><circle cx="376.3" cy="551.8" r="1.4"/><circle cx="377.1" cy="551.7" r="1.2"/><circle cx="376.4" cy="550.4" r="1.2"/><circle cx="548.2" cy="396.6" r="1.4"/><circle cx="548.4" cy="395.6" r="1.7"/><circle cx="549.1" cy="397.6" r="1.8"/><circle cx="525.3" cy="582.8" r="1"/><circle cx="525.8" cy="580.8" r="1.5"/><circle cx="524.9" cy="582.5" r="1.4"/><circle cx="588.5" cy="441.7" r="1.1"/><circle cx="590" cy="440.8" r="1.6"/><circle cx="591.3" cy="442.3" r="1.5"/></g>
<circle cx="398.6" cy="434.1" r="5.6" fill="#707070" opacity="0.55" filter="url(#b2)"/>
<circle cx="342.7" cy="530.7" r="4.1" fill="#707070" opacity="0.55" filter="url(#b2)"/>
<circle cx="566.3" cy="472.3" r="3.6" fill="#707070" opacity="0.55" filter="url(#b2)"/>
<circle cx="464.6" cy="556.1" r="3.6" fill="#707070" opacity="0.55" filter="url(#b2)"/>
<circle cx="330" cy="561.2" r="3" fill="#707070" opacity="0.55" filter="url(#b2)"/>
<circle cx="479.9" cy="383.3" r="4.1" fill="#707070" opacity="0.55" filter="url(#b2)"/>
<circle cx="388.4" cy="563.8" r="2.5" fill="#707070" opacity="0.55" filter="url(#b2)"/>
<path d="M291.8,296.9 C312.8,291.4 392.9,293.1 417.6,296.9 C442.4,300.7 434.1,311.7 440.5,319.8 C446.9,327.8 451.2,336.3 455.7,345.2 C460.3,354.1 465.3,363.4 467.7,373.2 C470.1,382.9 470.1,395.1 470.2,403.7 C470.4,412.2 466.8,417.6 468.5,424.5 C470.1,431.4 474.2,437.2 480.4,444.8 C486.6,452.4 498.3,461.8 505.8,470.2 C513.4,478.6 521.4,488.4 525.6,495.1 C529.9,501.9 531.6,506.6 531.2,510.9 C530.9,515.2 527.9,519.8 523.6,521.1 C519.3,522.3 513.4,520.2 505.3,518.5 C497.2,516.8 483.4,515.6 474.8,510.9 C466.3,506.2 460,498.2 454,490.6 C448,482.9 443,472.9 438.7,465.2 C434.5,457.4 431.1,452.4 428.6,444.3 C426,436.2 424.7,425.3 423.5,416.4 C422.2,407.5 423.5,400.6 420.9,390.9 C418.4,381.3 413.2,367.7 408.2,358.4 C403.2,349.2 397.6,341.5 390.9,335.5 C384.3,329.6 376.5,325.8 368.1,322.8 C359.6,319.9 349,317.8 340.1,317.8 C331.2,317.8 322.8,320.8 314.7,322.8 C306.7,324.9 295.6,334.3 291.8,330 C288,325.6 270.9,302.4 291.8,296.9Z" fill="#333" opacity="0.5" filter="url(#b5)"/>
<clipPath id="cc5"><path d="M291.8,296.9 C312.8,291.4 392.9,293.1 417.6,296.9 C442.4,300.7 434.1,311.7 440.5,319.8 C446.9,327.8 451.2,336.3 455.7,345.2 C460.3,354.1 465.3,363.4 467.7,373.2 C470.1,382.9 470.1,395.1 470.2,403.7 C470.4,412.2 466.8,417.6 468.5,424.5 C470.1,431.4 474.2,437.2 480.4,444.8 C486.6,452.4 498.3,461.8 505.8,470.2 C513.4,478.6 521.4,488.4 525.6,495.1 C529.9,501.9 531.6,506.6 531.2,510.9 C530.9,515.2 527.9,519.8 523.6,521.1 C519.3,522.3 513.4,520.2 505.3,518.5 C497.2,516.8 483.4,515.6 474.8,510.9 C466.3,506.2 460,498.2 454,490.6 C448,482.9 443,472.9 438.7,465.2 C434.5,457.4 431.1,452.4 428.6,444.3 C426,436.2 424.7,425.3 423.5,416.4 C422.2,407.5 423.5,400.6 420.9,390.9 C418.4,381.3 413.2,367.7 408.2,358.4 C403.2,349.2 397.6,341.5 390.9,335.5 C384.3,329.6 376.5,325.8 368.1,322.8 C359.6,319.9 349,317.8 340.1,317.8 C331.2,317.8 322.8,320.8 314.7,322.8 C306.7,324.9 295.6,334.3 291.8,330 C288,325.6 270.9,302.4 291.8,296.9Z"/></clipPath>
<path d="M291.8,296.9 C312.8,291.4 392.9,293.1 417.6,296.9 C442.4,300.7 434.1,311.7 440.5,319.8 C446.9,327.8 451.2,336.3 455.7,345.2 C460.3,354.1 465.3,363.4 467.7,373.2 C470.1,382.9 470.1,395.1 470.2,403.7 C470.4,412.2 466.8,417.6 468.5,424.5 C470.1,431.4 474.2,437.2 480.4,444.8 C486.6,452.4 498.3,461.8 505.8,470.2 C513.4,478.6 521.4,488.4 525.6,495.1 C529.9,501.9 531.6,506.6 531.2,510.9 C530.9,515.2 527.9,519.8 523.6,521.1 C519.3,522.3 513.4,520.2 505.3,518.5 C497.2,516.8 483.4,515.6 474.8,510.9 C466.3,506.2 460,498.2 454,490.6 C448,482.9 443,472.9 438.7,465.2 C434.5,457.4 431.1,452.4 428.6,444.3 C426,436.2 424.7,425.3 423.5,416.4 C422.2,407.5 423.5,400.6 420.9,390.9 C418.4,381.3 413.2,367.7 408.2,358.4 C403.2,349.2 397.6,341.5 390.9,335.5 C384.3,329.6 376.5,325.8 368.1,322.8 C359.6,319.9 349,317.8 340.1,317.8 C331.2,317.8 322.8,320.8 314.7,322.8 C306.7,324.9 295.6,334.3 291.8,330 C288,325.6 270.9,302.4 291.8,296.9Z" fill="#565656" stroke="#222" stroke-width="2.5"/>
<path d="M291.8,296.9 C312.8,291.4 392.9,293.1 417.6,296.9 C442.4,300.7 434.1,311.7 440.5,319.8 C446.9,327.8 451.2,336.3 455.7,345.2 C460.3,354.1 465.3,363.4 467.7,373.2 C470.1,382.9 470.1,395.1 470.2,403.7 C470.4,412.2 466.8,417.6 468.5,424.5 C470.1,431.4 474.2,437.2 480.4,444.8 C486.6,452.4 498.3,461.8 505.8,470.2 C513.4,478.6 521.4,488.4 525.6,495.1 C529.9,501.9 531.6,506.6 531.2,510.9 C530.9,515.2 527.9,519.8 523.6,521.1 C519.3,522.3 513.4,520.2 505.3,518.5 C497.2,516.8 483.4,515.6 474.8,510.9 C466.3,506.2 460,498.2 454,490.6 C448,482.9 443,472.9 438.7,465.2 C434.5,457.4 431.1,452.4 428.6,444.3 C426,436.2 424.7,425.3 423.5,416.4 C422.2,407.5 423.5,400.6 420.9,390.9 C418.4,381.3 413.2,367.7 408.2,358.4 C403.2,349.2 397.6,341.5 390.9,335.5 C384.3,329.6 376.5,325.8 368.1,322.8 C359.6,319.9 349,317.8 340.1,317.8 C331.2,317.8 322.8,320.8 314.7,322.8 C306.7,324.9 295.6,334.3 291.8,330 C288,325.6 270.9,302.4 291.8,296.9Z" fill="none" stroke="#1e1e1e" stroke-width="7" clip-path="url(#cc5)" filter="url(#b2)"/>
<path d="M302,309.6 C310.5,309.2 336.7,304.5 352.8,307.1 C368.9,309.6 385.9,316 398.6,324.9 C411.3,333.8 421.4,347.3 429.1,360.4 C436.7,373.6 441.3,391.4 444.3,403.7 C447.3,415.9 443.5,424 446.9,434.1 C450.2,444.3 456.6,454.5 464.6,464.6 C472.7,474.8 490.1,490.1 495.1,495.1" fill="none" stroke="#6e6e6e" stroke-width="16" filter="url(#b5)" opacity="0.55"/>
<path d="M424,398.6 C424.4,402.4 425.5,413.8 426.5,421.4 C427.6,429.1 429.7,440.5 430.3,444.3" fill="none" stroke="#2a2a2a" stroke-width="5" filter="url(#b2)" opacity="0.75"/>
<path d="M439.2,360.4 C441.8,361.3 450.2,362.6 454.5,365.5 C458.7,368.5 462.9,376.1 464.6,378.2" fill="none" stroke="#2a2a2a" stroke-width="5" filter="url(#b2)" opacity="0.75"/>
<path d="M464.6,424 C465.3,426.5 466.3,434.1 468.5,439.2 C470.6,444.3 475.9,451.9 477.3,454.5" fill="none" stroke="#2a2a2a" stroke-width="5" filter="url(#b2)" opacity="0.75"/>
<path d="M454.5,469.7 C458.7,468.9 473.1,462.9 479.9,464.6 C486.7,466.3 492.6,477.3 495.1,479.9" fill="none" stroke="#2a2a2a" stroke-width="5" filter="url(#b2)" opacity="0.75"/>
<path d="M408.7,317.2 C413,318.1 427.4,319.8 434.1,322.3 C440.9,324.9 446.9,330.8 449.4,332.5" fill="none" stroke="#2a2a2a" stroke-width="5" filter="url(#b2)" opacity="0.75"/>
<path d="M439.2,479.9 C442.6,482.4 452.8,490.9 459.6,495.1 C466.3,499.4 476.5,503.6 479.9,505.3" fill="none" stroke="#2a2a2a" stroke-width="5" filter="url(#b2)" opacity="0.75"/>
<path d="M530.2,518 C530.9,522.2 533.3,535 534.5,543.4 C535.8,551.9 534.7,561.2 537.8,568.8 C541,576.5 550.1,584.5 553.6,589.2 C557.1,593.8 557.8,595.5 558.7,596.8" fill="none" stroke="#9a9a9a" stroke-width="1.2"/>
</g>
<rect x="718" y="355" width="50" height="5" fill="#000"/>
<g stroke="#3c3c3c" stroke-width="1.6" fill="none">
<path d="M1013,18 V608.5 H1595.5"/>
<path d="M1003,556 H1013"/>
<path d="M1003,445.5 H1013"/>
<path d="M1003,335 H1013"/>
<path d="M1003,224.5 H1013"/>
<path d="M1003,114 H1013"/>
<path d="M1064.6,608 V617"/>
<path d="M1188.6,608 V617"/>
<path d="M1312.6,608 V617"/>
<path d="M1436.6,608 V617"/>
<path d="M1560.6,608 V617"/>
</g>
<g font-size="15.2" font-family="DejaVu Sans" fill="#222" text-anchor="end">
<text x="1000.3" y="561.2">0.25</text>
<text x="1000.3" y="450.7">0.5</text>
<text x="1000.3" y="340.2">0.75</text>
<text x="1000.3" y="229.7">1.0</text>
<text x="1000.3" y="119.2">1.25</text>
</g><g font-size="15.2" font-family="DejaVu Sans" fill="#222" text-anchor="middle">
<text x="1064.6" y="631.5">1.0</text>
<text x="1188.6" y="631.5">2.0</text>
<text x="1312.6" y="631.5">3.0</text>
<text x="1436.6" y="631.5">4.0</text>
<text x="1560.6" y="631.5">5.0</text>
</g>
<g stroke="#1a1a1a" stroke-width="1.1">
<rect x="1111.2" y="406" width="8.2" height="8.2" fill="#e8484a"/>
<rect x="1123.9" y="376.2" width="8.2" height="8.2" fill="#e8484a"/>
<rect x="1080.6" y="389.6" width="8.2" height="8.2" fill="#e8484a"/>
<rect x="1098" y="414.9" width="8.2" height="8.2" fill="#e8484a"/>
<rect x="1125.5" y="402.8" width="8.2" height="8.2" fill="#e8484a"/>
<rect x="1116.7" y="406.3" width="8.2" height="8.2" fill="#e8484a"/>
<rect x="1089.5" y="393.4" width="8.2" height="8.2" fill="#e8484a"/>
<rect x="1090.6" y="420.4" width="8.2" height="8.2" fill="#e8484a"/>
<rect x="1083.8" y="415.4" width="8.2" height="8.2" fill="#e8484a"/>
<rect x="1084.8" y="407.7" width="8.2" height="8.2" fill="#e8484a"/>
<rect x="1102.1" y="391.4" width="8.2" height="8.2" fill="#e8484a"/>
<rect x="1135.5" y="369" width="8.2" height="8.2" fill="#e8484a"/>
<rect x="1083.9" y="421" width="8.2" height="8.2" fill="#e8484a"/>
<rect x="1113.5" y="373.2" width="8.2" height="8.2" fill="#e8484a"/>
<rect x="1145.1" y="422.8" width="8.2" height="8.2" fill="#e8484a"/>
<rect x="1087.3" y="392.4" width="8.2" height="8.2" fill="#e8484a"/>
<rect x="1088.8" y="386" width="8.2" height="8.2" fill="#e8484a"/>
<rect x="1120.9" y="377.4" width="8.2" height="8.2" fill="#e8484a"/>
<rect x="1125.9" y="370.9" width="8.2" height="8.2" fill="#e8484a"/>
<rect x="1091.2" y="415.2" width="8.2" height="8.2" fill="#e8484a"/>
<rect x="1106.3" y="392.2" width="8.2" height="8.2" fill="#e8484a"/>
<rect x="1119.2" y="395.6" width="8.2" height="8.2" fill="#e8484a"/>
<rect x="1105.3" y="369.7" width="8.2" height="8.2" fill="#e8484a"/>
<rect x="1127.8" y="424" width="8.2" height="8.2" fill="#e8484a"/>
<rect x="1144.3" y="406.4" width="8.2" height="8.2" fill="#e8484a"/>
<rect x="1103.4" y="389" width="8.2" height="8.2" fill="#e8484a"/>
<rect x="1125.4" y="407" width="8.2" height="8.2" fill="#e8484a"/>
<rect x="1087.4" y="381.5" width="8.2" height="8.2" fill="#e8484a"/>
<rect x="1103.9" y="397.6" width="8.2" height="8.2" fill="#e8484a"/>
<rect x="1133.4" y="396.9" width="8.2" height="8.2" fill="#e8484a"/>
<rect x="1081.8" y="415.6" width="8.2" height="8.2" fill="#e8484a"/>
<rect x="1108.3" y="398" width="8.2" height="8.2" fill="#e8484a"/>
<rect x="1094.6" y="392.7" width="8.2" height="8.2" fill="#e8484a"/>
<rect x="1105.5" y="412.7" width="8.2" height="8.2" fill="#e8484a"/>
<rect x="1086.7" y="399.8" width="8.2" height="8.2" fill="#e8484a"/>
<rect x="1091.7" y="408.3" width="8.2" height="8.2" fill="#e8484a"/>
<rect x="1082.3" y="383.9" width="8.2" height="8.2" fill="#e8484a"/>
<rect x="1102.6" y="404.8" width="8.2" height="8.2" fill="#e8484a"/>
<rect x="1083.3" y="394.5" width="8.2" height="8.2" fill="#e8484a"/>
<rect x="1093.7" y="384.2" width="8.2" height="8.2" fill="#e8484a"/>
<rect x="1111.3" y="423.5" width="8.2" height="8.2" fill="#e8484a"/>
<rect x="1111.6" y="423.3" width="8.2" height="8.2" fill="#e8484a"/>
<rect x="1091" y="421.5" width="8.2" height="8.2" fill="#e8484a"/>
<rect x="1103.9" y="378.9" width="8.2" height="8.2" fill="#e8484a"/>
<rect x="1129.3" y="420.8" width="8.2" height="8.2" fill="#e8484a"/>
<rect x="1080.3" y="383.5" width="8.2" height="8.2" fill="#e8484a"/>
<rect x="1130.8" y="387.7" width="8.2" height="8.2" fill="#e8484a"/>
<rect x="1095.8" y="368.4" width="8.2" height="8.2" fill="#e8484a"/>
<rect x="1082.5" y="403.8" width="8.2" height="8.2" fill="#e8484a"/>
<rect x="1144.8" y="425.8" width="8.2" height="8.2" fill="#e8484a"/>
<rect x="1113.1" y="369.3" width="8.2" height="8.2" fill="#e8484a"/>
<rect x="1101.2" y="413.6" width="8.2" height="8.2" fill="#e8484a"/>
<rect x="1134.8" y="405" width="8.2" height="8.2" fill="#e8484a"/>
<rect x="1095" y="398.5" width="8.2" height="8.2" fill="#e8484a"/>
<rect x="1111.4" y="404.3" width="8.2" height="8.2" fill="#e8484a"/>
<rect x="1097.2" y="422.8" width="8.2" height="8.2" fill="#e8484a"/>
<rect x="1138.9" y="377.3" width="8.2" height="8.2" fill="#e8484a"/>
<rect x="1099.1" y="418.5" width="8.2" height="8.2" fill="#e8484a"/>
<rect x="1098.3" y="422.6" width="8.2" height="8.2" fill="#e8484a"/>
<rect x="1113.9" y="408.3" width="8.2" height="8.2" fill="#e8484a"/>
<rect x="1126.4" y="380.3" width="8.2" height="8.2" fill="#e8484a"/>
<rect x="1098.7" y="382.7" width="8.2" height="8.2" fill="#e8484a"/>
<rect x="1125" y="408.2" width="8.2" height="8.2" fill="#e8484a"/>
<rect x="1088.6" y="419.3" width="8.2" height="8.2" fill="#e8484a"/>
<rect x="1107.6" y="381.9" width="8.2" height="8.2" fill="#e8484a"/>
<rect x="1108.6" y="424.7" width="8.2" height="8.2" fill="#e8484a"/>
<rect x="1116.9" y="404.1" width="8.2" height="8.2" fill="#e8484a"/>
<rect x="1140.6" y="423.7" width="8.2" height="8.2" fill="#e8484a"/>
<rect x="1130.1" y="392.1" width="8.2" height="8.2" fill="#e8484a"/>
<rect x="1118.7" y="420.2" width="8.2" height="8.2" fill="#e8484a"/>
<rect x="1132" y="401.5" width="8.2" height="8.2" fill="#e8484a"/>
<rect x="1102.8" y="389.3" width="8.2" height="8.2" fill="#e8484a"/>
<rect x="1128.5" y="400.6" width="8.2" height="8.2" fill="#e8484a"/>
<rect x="1081" y="409.1" width="8.2" height="8.2" fill="#e8484a"/>
<rect x="1139.6" y="414.2" width="8.2" height="8.2" fill="#e8484a"/>
<rect x="1139.1" y="420.7" width="8.2" height="8.2" fill="#e8484a"/>
<rect x="1115.2" y="413.7" width="8.2" height="8.2" fill="#e8484a"/>
<rect x="1104.9" y="373.6" width="8.2" height="8.2" fill="#e8484a"/>
<rect x="1103.2" y="386" width="8.2" height="8.2" fill="#e8484a"/>
<rect x="1141.5" y="407.9" width="8.2" height="8.2" fill="#e8484a"/>
<rect x="1115.6" y="404" width="8.2" height="8.2" fill="#e8484a"/>
<rect x="1088.1" y="398.9" width="8.2" height="8.2" fill="#e8484a"/>
<rect x="1126.1" y="390.8" width="8.2" height="8.2" fill="#e8484a"/>
<rect x="1096.1" y="391.5" width="8.2" height="8.2" fill="#e8484a"/>
<rect x="1101.3" y="407.6" width="8.2" height="8.2" fill="#e8484a"/>
<rect x="1089.3" y="373.2" width="8.2" height="8.2" fill="#e8484a"/>
<rect x="1100.5" y="408.3" width="8.2" height="8.2" fill="#e8484a"/>
<rect x="1130" y="406.1" width="8.2" height="8.2" fill="#e8484a"/>
<rect x="1141.6" y="389.1" width="8.2" height="8.2" fill="#e8484a"/>
<rect x="1081.9" y="396.2" width="8.2" height="8.2" fill="#e8484a"/>
<rect x="1107" y="362.9" width="8.2" height="8.2" fill="#e8484a"/>
<rect x="1112.6" y="364.7" width="8.2" height="8.2" fill="#e8484a"/>
<rect x="1101.9" y="364.5" width="8.2" height="8.2" fill="#e8484a"/>
<rect x="1119.5" y="361" width="8.2" height="8.2" fill="#e8484a"/>
<rect x="1104.9" y="364" width="8.2" height="8.2" fill="#e8484a"/>
<rect x="1100.9" y="365.7" width="8.2" height="8.2" fill="#e8484a"/>
<rect x="1101.4" y="371" width="8.2" height="8.2" fill="#e8484a"/>
<rect x="1108.4" y="368.6" width="8.2" height="8.2" fill="#e8484a"/>
<rect x="1100" y="366" width="8.2" height="8.2" fill="#e8484a"/>
<rect x="1111.1" y="370.2" width="8.2" height="8.2" fill="#e8484a"/>
<rect x="1174.6" y="418.5" width="8.2" height="8.2" fill="#e8484a"/>
<rect x="1244.2" y="454.6" width="8.2" height="8.2" fill="#e8484a"/>
<rect x="1172.1" y="426.1" width="8.2" height="8.2" fill="#e8484a"/>
<rect x="1233.4" y="412.2" width="8.2" height="8.2" fill="#e8484a"/>
<rect x="1223.3" y="438.2" width="8.2" height="8.2" fill="#e8484a"/>
<rect x="1257.7" y="427.6" width="8.2" height="8.2" fill="#e8484a"/>
<rect x="1224.2" y="407.9" width="8.2" height="8.2" fill="#e8484a"/>
<rect x="1230.1" y="405.2" width="8.2" height="8.2" fill="#e8484a"/>
<rect x="1203.4" y="408.9" width="8.2" height="8.2" fill="#e8484a"/>
<rect x="1181.2" y="387.1" width="8.2" height="8.2" fill="#e8484a"/>
<rect x="1171.9" y="426.7" width="8.2" height="8.2" fill="#e8484a"/>
<rect x="1174.9" y="378.4" width="8.2" height="8.2" fill="#e8484a"/>
<rect x="1238.3" y="401.6" width="8.2" height="8.2" fill="#e8484a"/>
<rect x="1253.6" y="432" width="8.2" height="8.2" fill="#e8484a"/>
<rect x="1190.6" y="458.6" width="8.2" height="8.2" fill="#e8484a"/>
<rect x="1249.1" y="405" width="8.2" height="8.2" fill="#e8484a"/>
<rect x="1160.4" y="436.1" width="8.2" height="8.2" fill="#e8484a"/>
<rect x="1242.8" y="432.9" width="8.2" height="8.2" fill="#e8484a"/>
<rect x="1236.1" y="413.9" width="8.2" height="8.2" fill="#e8484a"/>
<rect x="1216.9" y="399.4" width="8.2" height="8.2" fill="#e8484a"/>
<rect x="1192.7" y="410.7" width="8.2" height="8.2" fill="#e8484a"/>
<rect x="1190.1" y="412.7" width="8.2" height="8.2" fill="#e8484a"/>
<rect x="1238.7" y="390.4" width="8.2" height="8.2" fill="#e8484a"/>
<rect x="1169.5" y="398.6" width="8.2" height="8.2" fill="#e8484a"/>
<rect x="1257.6" y="424.6" width="8.2" height="8.2" fill="#e8484a"/>
<rect x="1152" y="454.9" width="8.2" height="8.2" fill="#e8484a"/>
<rect x="1246.4" y="453.6" width="8.2" height="8.2" fill="#e8484a"/>
<rect x="1187.2" y="445.2" width="8.2" height="8.2" fill="#e8484a"/>
<rect x="1181" y="387.2" width="8.2" height="8.2" fill="#e8484a"/>
<rect x="1245.4" y="454.7" width="8.2" height="8.2" fill="#e8484a"/>
<rect x="1170.2" y="459.2" width="8.2" height="8.2" fill="#e8484a"/>
<rect x="1148.7" y="403.8" width="8.2" height="8.2" fill="#e8484a"/>
<rect x="1147.4" y="390.5" width="8.2" height="8.2" fill="#e8484a"/>
<rect x="1164.7" y="443.3" width="8.2" height="8.2" fill="#e8484a"/>
<rect x="1180" y="392.3" width="8.2" height="8.2" fill="#e8484a"/>
<rect x="1167.1" y="404.2" width="8.2" height="8.2" fill="#e8484a"/>
<rect x="1245" y="432.8" width="8.2" height="8.2" fill="#e8484a"/>
<rect x="1157.7" y="440.3" width="8.2" height="8.2" fill="#e8484a"/>
<rect x="1207.6" y="417.4" width="8.2" height="8.2" fill="#e8484a"/>
<rect x="1206.6" y="437.1" width="8.2" height="8.2" fill="#e8484a"/>
<rect x="1238" y="422.9" width="8.2" height="8.2" fill="#e8484a"/>
<rect x="1219" y="419.2" width="8.2" height="8.2" fill="#e8484a"/>
<rect x="1218.8" y="411.6" width="8.2" height="8.2" fill="#e8484a"/>
<rect x="1193.6" y="424" width="8.2" height="8.2" fill="#e8484a"/>
<rect x="1228.1" y="400.9" width="8.2" height="8.2" fill="#e8484a"/>
<rect x="1252.3" y="421.6" width="8.2" height="8.2" fill="#e8484a"/>
<rect x="1244.3" y="440.9" width="8.2" height="8.2" fill="#e8484a"/>
<rect x="1255.9" y="440.1" width="8.2" height="8.2" fill="#e8484a"/>
<rect x="1195" y="413.3" width="8.2" height="8.2" fill="#e8484a"/>
<rect x="1215.8" y="447" width="8.2" height="8.2" fill="#e8484a"/>
<rect x="1242.4" y="386.4" width="8.2" height="8.2" fill="#e8484a"/>
<rect x="1153.1" y="384.4" width="8.2" height="8.2" fill="#e8484a"/>
<rect x="1155.6" y="379.4" width="8.2" height="8.2" fill="#e8484a"/>
<rect x="1146.9" y="398.1" width="8.2" height="8.2" fill="#e8484a"/>
<rect x="1158.9" y="440.4" width="8.2" height="8.2" fill="#e8484a"/>
<rect x="1216.7" y="467.6" width="8.2" height="8.2" fill="#e8484a"/>
<rect x="1256.4" y="446.3" width="8.2" height="8.2" fill="#e8484a"/>
<rect x="1255.1" y="376.6" width="8.2" height="8.2" fill="#e8484a"/>
<rect x="1172.1" y="463.7" width="8.2" height="8.2" fill="#e8484a"/>
<rect x="1200.6" y="393.9" width="8.2" height="8.2" fill="#e8484a"/>
<rect x="1107.6" y="458.8" width="8.2" height="8.2" fill="#e8484a"/>
<rect x="1100.4" y="451" width="8.2" height="8.2" fill="#e8484a"/>
<rect x="1090.1" y="434.3" width="8.2" height="8.2" fill="#e8484a"/>
<rect x="1102.5" y="497.5" width="8.2" height="8.2" fill="#e8484a"/>
<rect x="1115.4" y="483.8" width="8.2" height="8.2" fill="#e8484a"/>
<rect x="1113.6" y="454.3" width="8.2" height="8.2" fill="#e8484a"/>
<rect x="1092" y="495.3" width="8.2" height="8.2" fill="#e8484a"/>
<rect x="1102.3" y="476.7" width="8.2" height="8.2" fill="#e8484a"/>
<rect x="1082.3" y="444.6" width="8.2" height="8.2" fill="#e8484a"/>
<rect x="1098.3" y="481.3" width="8.2" height="8.2" fill="#e8484a"/>
<rect x="1223.3" y="496.5" width="8.2" height="8.2" fill="#e8484a"/>
<rect x="1160.1" y="466.4" width="8.2" height="8.2" fill="#e8484a"/>
<rect x="1228" y="515.1" width="8.2" height="8.2" fill="#e8484a"/>
<rect x="1178.9" y="451.5" width="8.2" height="8.2" fill="#e8484a"/>
<rect x="1197.1" y="478.8" width="8.2" height="8.2" fill="#e8484a"/>
<rect x="1162.9" y="454.3" width="8.2" height="8.2" fill="#e8484a"/>
<rect x="1166" y="484.9" width="8.2" height="8.2" fill="#e8484a"/>
<rect x="1132.4" y="479.2" width="8.2" height="8.2" fill="#e8484a"/>
<rect x="1239.7" y="495.5" width="8.2" height="8.2" fill="#e8484a"/>
<rect x="1148.7" y="469.4" width="8.2" height="8.2" fill="#e8484a"/>
<rect x="1129.2" y="494.9" width="8.2" height="8.2" fill="#e8484a"/>
<rect x="1198" y="449.7" width="8.2" height="8.2" fill="#e8484a"/>
<rect x="1187.1" y="483.6" width="8.2" height="8.2" fill="#e8484a"/>
<rect x="1190.9" y="466.2" width="8.2" height="8.2" fill="#e8484a"/>
<rect x="1156.2" y="464.3" width="8.2" height="8.2" fill="#e8484a"/>
<rect x="1245.6" y="462.3" width="8.2" height="8.2" fill="#e8484a"/>
<rect x="1181.2" y="472.7" width="8.2" height="8.2" fill="#e8484a"/>
<rect x="1138.4" y="467.9" width="8.2" height="8.2" fill="#e8484a"/>
<rect x="1142.5" y="461.7" width="8.2" height="8.2" fill="#e8484a"/>
<rect x="1163.6" y="463.9" width="8.2" height="8.2" fill="#e8484a"/>
<rect x="1237.8" y="459.6" width="8.2" height="8.2" fill="#e8484a"/>
<rect x="1159.1" y="488.5" width="8.2" height="8.2" fill="#e8484a"/>
<rect x="1054.7" y="397.5" width="8.2" height="8.2" fill="#e8484a"/>
<rect x="1192.6" y="352.2" width="8.2" height="8.2" fill="#e8484a"/>
<rect x="1223.9" y="375.2" width="8.2" height="8.2" fill="#e8484a"/>
<rect x="1262.1" y="378.3" width="8.2" height="8.2" fill="#e8484a"/>
<rect x="1062.9" y="374.5" width="8.2" height="8.2" fill="#e8484a"/>
<rect x="1088.9" y="480.7" width="8.2" height="8.2" fill="#e8484a"/>
<rect x="1085.9" y="460.9" width="8.2" height="8.2" fill="#e8484a"/>
<rect x="1091.9" y="498.9" width="8.2" height="8.2" fill="#e8484a"/>
<rect x="1109.9" y="364.9" width="8.2" height="8.2" fill="#e8484a"/>
<rect x="1111.9" y="357.9" width="8.2" height="8.2" fill="#e8484a"/>
<rect x="1103.9" y="363.9" width="8.2" height="8.2" fill="#e8484a"/>
<rect x="1261.9" y="416.9" width="8.2" height="8.2" fill="#e8484a"/>
<rect x="1275.9" y="360.9" width="8.2" height="8.2" fill="#e8484a"/>
<rect x="1235.9" y="397.9" width="8.2" height="8.2" fill="#e8484a"/>
<rect x="1223.4" y="379.9" width="8.2" height="8.2" fill="#e8484a"/>
<rect x="1257.9" y="377.4" width="8.2" height="8.2" fill="#e8484a"/>
</g>
<g stroke="#1a1a1a" stroke-width="1.1">
<circle cx="1135" cy="465.3" r="4.3" fill="#1f8e4b"/>
<circle cx="1113.1" cy="471.6" r="4.3" fill="#1f8e4b"/>
<circle cx="1119.4" cy="480.4" r="4.3" fill="#1f8e4b"/>
<circle cx="1105.8" cy="485.8" r="4.3" fill="#1f8e4b"/>
<circle cx="1121.5" cy="490" r="4.3" fill="#1f8e4b"/>
<circle cx="1129.8" cy="478.9" r="4.3" fill="#1f8e4b"/>
<circle cx="1137.1" cy="480.4" r="4.3" fill="#1f8e4b"/>
<circle cx="1145.5" cy="477.9" r="4.3" fill="#1f8e4b"/>
<circle cx="1154.5" cy="475.8" r="4.3" fill="#1f8e4b"/>
<circle cx="1164.9" cy="473.7" r="4.3" fill="#1f8e4b"/>
<circle cx="1172" cy="470.5" r="4.3" fill="#1f8e4b"/>
<circle cx="1176.8" cy="473.7" r="4.3" fill="#1f8e4b"/>
<circle cx="1183.1" cy="484.1" r="4.3" fill="#1f8e4b"/>
<circle cx="1171.6" cy="484.1" r="4.3" fill="#1f8e4b"/>
<circle cx="1138.2" cy="494.6" r="4.3" fill="#1f8e4b"/>
<circle cx="1146.5" cy="492.5" r="4.3" fill="#1f8e4b"/>
<circle cx="1154.9" cy="498.7" r="4.3" fill="#1f8e4b"/>
<circle cx="1163.2" cy="498.7" r="4.3" fill="#1f8e4b"/>
<circle cx="1165.3" cy="505" r="4.3" fill="#1f8e4b"/>
<circle cx="1150.7" cy="507.1" r="4.3" fill="#1f8e4b"/>
<circle cx="1145.5" cy="513.4" r="4.3" fill="#1f8e4b"/>
<circle cx="1143.4" cy="523.8" r="4.3" fill="#1f8e4b"/>
<circle cx="1126.7" cy="500.8" r="4.3" fill="#1f8e4b"/>
<circle cx="1108.9" cy="496.2" r="4.3" fill="#1f8e4b"/>
<circle cx="1101.6" cy="497.1" r="4.3" fill="#1f8e4b"/>
<circle cx="1099.5" cy="507.1" r="4.3" fill="#1f8e4b"/>
<circle cx="1083.9" cy="507.1" r="4.3" fill="#1f8e4b"/>
<circle cx="1089.1" cy="513.4" r="4.3" fill="#1f8e4b"/>
<circle cx="1076.6" cy="518.6" r="4.3" fill="#1f8e4b"/>
<circle cx="1079.7" cy="525.9" r="4.3" fill="#1f8e4b"/>
<circle cx="1090.1" cy="526.9" r="4.3" fill="#1f8e4b"/>
<circle cx="1083.9" cy="536.8" r="4.3" fill="#1f8e4b"/>
<circle cx="1118.3" cy="515.5" r="4.3" fill="#1f8e4b"/>
<circle cx="1124.6" cy="520.1" r="4.3" fill="#1f8e4b"/>
<circle cx="1119" cy="524.9" r="4.3" fill="#1f8e4b"/>
<circle cx="1123.6" cy="532.2" r="4.3" fill="#1f8e4b"/>
<circle cx="1111" cy="535.3" r="4.3" fill="#1f8e4b"/>
<circle cx="1104.8" cy="539.5" r="4.3" fill="#1f8e4b"/>
<circle cx="1104.8" cy="548.9" r="4.3" fill="#1f8e4b"/>
<circle cx="1114.2" cy="551" r="4.3" fill="#1f8e4b"/>
<circle cx="1120.4" cy="545.7" r="4.3" fill="#1f8e4b"/>
<circle cx="1127.7" cy="542.6" r="4.3" fill="#1f8e4b"/>
<circle cx="1134" cy="545.7" r="4.3" fill="#1f8e4b"/>
<circle cx="1140.3" cy="545.7" r="4.3" fill="#1f8e4b"/>
<circle cx="1136.1" cy="531.1" r="4.3" fill="#1f8e4b"/>
<circle cx="1150.7" cy="524.9" r="4.3" fill="#1f8e4b"/>
<circle cx="1157" cy="521.7" r="4.3" fill="#1f8e4b"/>
<circle cx="1164.9" cy="519.6" r="4.3" fill="#1f8e4b"/>
<circle cx="1171.6" cy="525.9" r="4.3" fill="#1f8e4b"/>
<circle cx="1175.8" cy="530.5" r="4.3" fill="#1f8e4b"/>
<circle cx="1155.9" cy="535.3" r="4.3" fill="#1f8e4b"/>
<circle cx="1166.4" cy="537.4" r="4.3" fill="#1f8e4b"/>
<circle cx="1152.8" cy="539.5" r="4.3" fill="#1f8e4b"/>
<circle cx="1163.7" cy="555.1" r="4.3" fill="#1f8e4b"/>
<circle cx="1117.3" cy="559.3" r="4.3" fill="#1f8e4b"/>
<circle cx="1088.5" cy="557.2" r="4.3" fill="#1f8e4b"/>
<circle cx="1183.1" cy="541.6" r="4.3" fill="#1f8e4b"/>
<circle cx="1187.3" cy="533.2" r="4.3" fill="#1f8e4b"/>
<circle cx="1194.6" cy="536.8" r="4.3" fill="#1f8e4b"/>
<circle cx="1198.7" cy="533.2" r="4.3" fill="#1f8e4b"/>
<circle cx="1178.9" cy="507.1" r="4.3" fill="#1f8e4b"/>
<circle cx="1184.1" cy="508.1" r="4.3" fill="#1f8e4b"/>
<circle cx="1189.3" cy="507.1" r="4.3" fill="#1f8e4b"/>
<circle cx="1194.6" cy="491.4" r="4.3" fill="#1f8e4b"/>
<circle cx="1202.9" cy="493.5" r="4.3" fill="#1f8e4b"/>
<circle cx="1201.9" cy="500.4" r="4.3" fill="#1f8e4b"/>
<circle cx="1210.2" cy="501.5" r="4.3" fill="#1f8e4b"/>
<circle cx="1199.2" cy="514" r="4.3" fill="#1f8e4b"/>
<circle cx="1210.2" cy="530.1" r="4.3" fill="#1f8e4b"/>
<circle cx="1210.2" cy="537.4" r="4.3" fill="#1f8e4b"/>
<circle cx="1217.5" cy="533.2" r="4.3" fill="#1f8e4b"/>
<circle cx="1230.1" cy="534.3" r="4.3" fill="#1f8e4b"/>
<circle cx="1245.7" cy="528" r="4.3" fill="#1f8e4b"/>
<circle cx="1251" cy="530.1" r="4.3" fill="#1f8e4b"/>
<circle cx="1245.7" cy="539.5" r="4.3" fill="#1f8e4b"/>
<circle cx="1249.9" cy="548.9" r="4.3" fill="#1f8e4b"/>
<circle cx="1219.2" cy="549.9" r="4.3" fill="#1f8e4b"/>
<circle cx="1207.1" cy="549.9" r="4.3" fill="#1f8e4b"/>
<circle cx="1190.4" cy="552.6" r="4.3" fill="#1f8e4b"/>
<circle cx="1219.6" cy="486.2" r="4.3" fill="#1f8e4b"/>
<circle cx="1228" cy="492.5" r="4.3" fill="#1f8e4b"/>
<circle cx="1235.3" cy="494.6" r="4.3" fill="#1f8e4b"/>
<circle cx="1233.2" cy="499.8" r="4.3" fill="#1f8e4b"/>
<circle cx="1246.8" cy="491.4" r="4.3" fill="#1f8e4b"/>
<circle cx="1251.4" cy="500.4" r="4.3" fill="#1f8e4b"/>
<circle cx="1242.6" cy="483.1" r="4.3" fill="#1f8e4b"/>
<circle cx="1255.1" cy="481.6" r="4.3" fill="#1f8e4b"/>
<circle cx="1271.9" cy="486.2" r="4.3" fill="#1f8e4b"/>
<circle cx="1295.9" cy="546.4" r="4.3" fill="#1f8e4b"/>
<circle cx="1337.7" cy="553.1" r="4.3" fill="#1f8e4b"/>
<circle cx="1106.8" cy="435" r="4.3" fill="#1f8e4b"/>
<circle cx="1103.7" cy="443.4" r="4.3" fill="#1f8e4b"/>
<circle cx="1125.6" cy="443.4" r="4.3" fill="#1f8e4b"/>
<circle cx="1123.6" cy="453.8" r="4.3" fill="#1f8e4b"/>
<circle cx="1122.5" cy="465.3" r="4.3" fill="#1f8e4b"/>
<circle cx="1175.2" cy="457.5" r="4.3" fill="#1f8e4b"/>
<circle cx="1211.2" cy="429.6" r="4.3" fill="#1f8e4b"/>
<circle cx="1214.7" cy="431.4" r="4.3" fill="#1f8e4b"/>
<circle cx="1154" cy="476" r="4.3" fill="#1f8e4b"/>
<circle cx="1260.5" cy="467.4" r="4.3" fill="#1f8e4b"/>
<circle cx="1142.7" cy="452.6" r="4.3" fill="#1f8e4b"/>
<circle cx="1158.7" cy="478" r="4.3" fill="#1f8e4b"/>
<circle cx="1151.6" cy="437.4" r="4.3" fill="#1f8e4b"/>
<circle cx="1209.9" cy="465.1" r="4.3" fill="#1f8e4b"/>
<circle cx="1202.9" cy="455.2" r="4.3" fill="#1f8e4b"/>
<circle cx="1256.1" cy="453.9" r="4.3" fill="#1f8e4b"/>
<circle cx="1252.9" cy="449.7" r="4.3" fill="#1f8e4b"/>
<circle cx="1185" cy="447.6" r="4.3" fill="#1f8e4b"/>
<circle cx="1221" cy="472.3" r="4.3" fill="#1f8e4b"/>
<circle cx="1152.4" cy="458.1" r="4.3" fill="#1f8e4b"/>
<circle cx="1222.6" cy="456.6" r="4.3" fill="#1f8e4b"/>
<circle cx="1213.4" cy="463.8" r="4.3" fill="#1f8e4b"/>
<circle cx="1220.9" cy="447.4" r="4.3" fill="#1f8e4b"/>
<circle cx="1162.1" cy="426.6" r="4.3" fill="#1f8e4b"/>
<circle cx="1246.2" cy="474.8" r="4.3" fill="#1f8e4b"/>
<circle cx="1174.2" cy="485.9" r="4.3" fill="#1f8e4b"/>
<circle cx="1248" cy="434.5" r="4.3" fill="#1f8e4b"/>
<circle cx="1238.5" cy="451.5" r="4.3" fill="#1f8e4b"/>
<circle cx="1163.3" cy="441.3" r="4.3" fill="#1f8e4b"/>
<circle cx="1177.6" cy="428.3" r="4.3" fill="#1f8e4b"/>
<circle cx="1125.3" cy="432.4" r="4.3" fill="#1f8e4b"/>
<circle cx="1162.3" cy="435" r="4.3" fill="#1f8e4b"/>
<circle cx="1135.5" cy="477.4" r="4.3" fill="#1f8e4b"/>
<circle cx="1172.7" cy="455.9" r="4.3" fill="#1f8e4b"/>
<circle cx="1204.6" cy="483.8" r="4.3" fill="#1f8e4b"/>
<circle cx="1139" cy="439.4" r="4.3" fill="#1f8e4b"/>
<circle cx="1241.9" cy="482.3" r="4.3" fill="#1f8e4b"/>
<circle cx="1252.2" cy="458.3" r="4.3" fill="#1f8e4b"/>
<circle cx="1170.9" cy="436.9" r="4.3" fill="#1f8e4b"/>
<circle cx="1249.1" cy="473.2" r="4.3" fill="#1f8e4b"/>
<circle cx="1197.4" cy="474.9" r="4.3" fill="#1f8e4b"/>
<circle cx="1155.5" cy="458.6" r="4.3" fill="#1f8e4b"/>
<circle cx="1248.5" cy="431.8" r="4.3" fill="#1f8e4b"/>
<circle cx="1206.9" cy="436.7" r="4.3" fill="#1f8e4b"/>
<circle cx="1238.6" cy="477.9" r="4.3" fill="#1f8e4b"/>
<circle cx="1210.7" cy="452.5" r="4.3" fill="#1f8e4b"/>
<circle cx="1121.1" cy="456.1" r="4.3" fill="#1f8e4b"/>
<circle cx="1169.7" cy="450.2" r="4.3" fill="#1f8e4b"/>
<circle cx="1129.2" cy="483" r="4.3" fill="#1f8e4b"/>
<circle cx="1193.2" cy="460.4" r="4.3" fill="#1f8e4b"/>
<circle cx="1239.3" cy="481.5" r="4.3" fill="#1f8e4b"/>
<circle cx="1197.2" cy="459.3" r="4.3" fill="#1f8e4b"/>
<circle cx="1240" cy="448.5" r="4.3" fill="#1f8e4b"/>
<circle cx="1247.7" cy="426.5" r="4.3" fill="#1f8e4b"/>
<circle cx="1232.6" cy="458.2" r="4.3" fill="#1f8e4b"/>
<circle cx="1207.6" cy="487.4" r="4.3" fill="#1f8e4b"/>
<circle cx="1149.7" cy="450.7" r="4.3" fill="#1f8e4b"/>
<circle cx="1233.1" cy="472" r="4.3" fill="#1f8e4b"/>
<circle cx="1193.5" cy="474" r="4.3" fill="#1f8e4b"/>
<circle cx="1215.5" cy="479.8" r="4.3" fill="#1f8e4b"/>
<circle cx="1211.6" cy="447.9" r="4.3" fill="#1f8e4b"/>
<circle cx="1159.3" cy="430.2" r="4.3" fill="#1f8e4b"/>
<circle cx="1135.8" cy="427.7" r="4.3" fill="#1f8e4b"/>
<circle cx="1258.5" cy="433.9" r="4.3" fill="#1f8e4b"/>
<circle cx="1204.8" cy="433.4" r="4.3" fill="#1f8e4b"/>
<circle cx="1257.1" cy="458.6" r="4.3" fill="#1f8e4b"/>
<circle cx="1143.5" cy="477.1" r="4.3" fill="#1f8e4b"/>
<circle cx="1241.9" cy="486.6" r="4.3" fill="#1f8e4b"/>
<circle cx="1150.2" cy="450.4" r="4.3" fill="#1f8e4b"/>
<circle cx="1213.2" cy="442.8" r="4.3" fill="#1f8e4b"/>
<circle cx="1200" cy="469.2" r="4.3" fill="#1f8e4b"/>
<circle cx="1226.2" cy="476.9" r="4.3" fill="#1f8e4b"/>
<circle cx="1226.1" cy="443" r="4.3" fill="#1f8e4b"/>
<circle cx="1226.8" cy="452.3" r="4.3" fill="#1f8e4b"/>
<circle cx="1142.4" cy="426.3" r="4.3" fill="#1f8e4b"/>
<circle cx="1207.6" cy="447.6" r="4.3" fill="#1f8e4b"/>
<circle cx="1131.5" cy="455.9" r="4.3" fill="#1f8e4b"/>
<circle cx="1177.7" cy="445.5" r="4.3" fill="#1f8e4b"/>
<circle cx="1199.5" cy="458.9" r="4.3" fill="#1f8e4b"/>
<circle cx="1194.3" cy="487.2" r="4.3" fill="#1f8e4b"/>
<circle cx="1248.3" cy="443.8" r="4.3" fill="#1f8e4b"/>
<circle cx="1243.6" cy="444.9" r="4.3" fill="#1f8e4b"/>
<circle cx="1252.9" cy="428.6" r="4.3" fill="#1f8e4b"/>
<circle cx="1163.8" cy="483.7" r="4.3" fill="#1f8e4b"/>
<circle cx="1213.2" cy="469.5" r="4.3" fill="#1f8e4b"/>
<circle cx="1147.4" cy="432.7" r="4.3" fill="#1f8e4b"/>
<circle cx="1256.2" cy="429.2" r="4.3" fill="#1f8e4b"/>
<circle cx="1143.3" cy="452.1" r="4.3" fill="#1f8e4b"/>
<circle cx="1236" cy="467.8" r="4.3" fill="#1f8e4b"/>
<circle cx="1261.8" cy="474.1" r="4.3" fill="#1f8e4b"/>
<circle cx="1181" cy="482.4" r="4.3" fill="#1f8e4b"/>
<circle cx="1163.6" cy="428.2" r="4.3" fill="#1f8e4b"/>
<circle cx="1256.2" cy="480.5" r="4.3" fill="#1f8e4b"/>
<circle cx="1213.1" cy="455.2" r="4.3" fill="#1f8e4b"/>
<circle cx="1147.3" cy="438.8" r="4.3" fill="#1f8e4b"/>
<circle cx="1127.7" cy="430.9" r="4.3" fill="#1f8e4b"/>
<circle cx="1187" cy="481.5" r="4.3" fill="#1f8e4b"/>
<circle cx="1252.2" cy="457.4" r="4.3" fill="#1f8e4b"/>
<circle cx="1215" cy="454.5" r="4.3" fill="#1f8e4b"/>
<circle cx="1229.8" cy="469.5" r="4.3" fill="#1f8e4b"/>
<circle cx="1259.8" cy="478.3" r="4.3" fill="#1f8e4b"/>
<circle cx="1215.6" cy="462.2" r="4.3" fill="#1f8e4b"/>
<circle cx="1142.3" cy="454.7" r="4.3" fill="#1f8e4b"/>
<circle cx="1182.5" cy="434.7" r="4.3" fill="#1f8e4b"/>
<circle cx="1147" cy="450.9" r="4.3" fill="#1f8e4b"/>
<circle cx="1143.3" cy="464.3" r="4.3" fill="#1f8e4b"/>
<circle cx="1165.2" cy="487.2" r="4.3" fill="#1f8e4b"/>
<circle cx="1216.5" cy="457.5" r="4.3" fill="#1f8e4b"/>
<circle cx="1180.5" cy="449.7" r="4.3" fill="#1f8e4b"/>
<circle cx="1146.9" cy="485.7" r="4.3" fill="#1f8e4b"/>
<circle cx="1249.6" cy="466" r="4.3" fill="#1f8e4b"/>
<circle cx="1211.6" cy="434.1" r="4.3" fill="#1f8e4b"/>
<circle cx="1196" cy="435.5" r="4.3" fill="#1f8e4b"/>
<circle cx="1164.7" cy="462" r="4.3" fill="#1f8e4b"/>
<circle cx="1142.5" cy="439.7" r="4.3" fill="#1f8e4b"/>
<circle cx="1263.6" cy="410.4" r="4.3" fill="#1f8e4b"/>
<circle cx="1285.1" cy="398.1" r="4.3" fill="#1f8e4b"/>
<circle cx="1176.9" cy="427.7" r="4.3" fill="#1f8e4b"/>
<circle cx="1247.2" cy="418.4" r="4.3" fill="#1f8e4b"/>
<circle cx="1240.1" cy="397.6" r="4.3" fill="#1f8e4b"/>
<circle cx="1297" cy="410.8" r="4.3" fill="#1f8e4b"/>
<circle cx="1287.7" cy="397.6" r="4.3" fill="#1f8e4b"/>
<circle cx="1202.2" cy="412.9" r="4.3" fill="#1f8e4b"/>
<circle cx="1198.4" cy="424.7" r="4.3" fill="#1f8e4b"/>
<circle cx="1200.2" cy="395" r="4.3" fill="#1f8e4b"/>
<circle cx="1187" cy="402.3" r="4.3" fill="#1f8e4b"/>
<circle cx="1292.9" cy="425.4" r="4.3" fill="#1f8e4b"/>
<circle cx="1255.4" cy="408.2" r="4.3" fill="#1f8e4b"/>
<circle cx="1170.6" cy="423.6" r="4.3" fill="#1f8e4b"/>
<circle cx="1182" cy="399.6" r="4.3" fill="#1f8e4b"/>
<circle cx="1223.7" cy="424.8" r="4.3" fill="#1f8e4b"/>
<circle cx="1189.7" cy="394.4" r="4.3" fill="#1f8e4b"/>
<circle cx="1287.5" cy="392.3" r="4.3" fill="#1f8e4b"/>
<circle cx="1264.1" cy="397.3" r="4.3" fill="#1f8e4b"/>
<circle cx="1205.4" cy="399.9" r="4.3" fill="#1f8e4b"/>
<circle cx="1224.3" cy="427" r="4.3" fill="#1f8e4b"/>
<circle cx="1278.4" cy="412.4" r="4.3" fill="#1f8e4b"/>
<circle cx="1176.8" cy="398.7" r="4.3" fill="#1f8e4b"/>
<circle cx="1204.9" cy="422.2" r="4.3" fill="#1f8e4b"/>
<circle cx="1288.7" cy="393" r="4.3" fill="#1f8e4b"/>
<circle cx="1210.1" cy="428.5" r="4.3" fill="#1f8e4b"/>
<circle cx="1185.4" cy="395" r="4.3" fill="#1f8e4b"/>
<circle cx="1200.9" cy="425.8" r="4.3" fill="#1f8e4b"/>
<circle cx="1200.5" cy="419.4" r="4.3" fill="#1f8e4b"/>
<circle cx="1181" cy="417" r="4.3" fill="#1f8e4b"/>
<circle cx="1187.8" cy="414.6" r="4.3" fill="#1f8e4b"/>
<circle cx="1265.2" cy="425.4" r="4.3" fill="#1f8e4b"/>
<circle cx="1223.9" cy="429.4" r="4.3" fill="#1f8e4b"/>
<circle cx="1219.8" cy="428.1" r="4.3" fill="#1f8e4b"/>
<circle cx="1288.4" cy="429.9" r="4.3" fill="#1f8e4b"/>
<circle cx="1255.3" cy="440.9" r="4.3" fill="#1f8e4b"/>
<circle cx="1284.8" cy="465.4" r="4.3" fill="#1f8e4b"/>
<circle cx="1262.8" cy="460.7" r="4.3" fill="#1f8e4b"/>
<circle cx="1273.8" cy="430.2" r="4.3" fill="#1f8e4b"/>
<circle cx="1254.3" cy="430.3" r="4.3" fill="#1f8e4b"/>
<circle cx="1261.4" cy="467.3" r="4.3" fill="#1f8e4b"/>
<circle cx="1284" cy="464.5" r="4.3" fill="#1f8e4b"/>
<circle cx="1295.8" cy="445.7" r="4.3" fill="#1f8e4b"/>
<circle cx="1284.8" cy="456.2" r="4.3" fill="#1f8e4b"/>
<circle cx="1284.6" cy="433.7" r="4.3" fill="#1f8e4b"/>
<circle cx="1294.4" cy="436.3" r="4.3" fill="#1f8e4b"/>
<circle cx="1272.3" cy="457.5" r="4.3" fill="#1f8e4b"/>
<circle cx="1287.2" cy="463.1" r="4.3" fill="#1f8e4b"/>
<circle cx="1265.6" cy="441.9" r="4.3" fill="#1f8e4b"/>
<circle cx="1286.4" cy="431.9" r="4.3" fill="#1f8e4b"/>
<circle cx="1404.9" cy="419.2" r="4.3" fill="#1f8e4b"/>
<circle cx="1329.2" cy="441.5" r="4.3" fill="#1f8e4b"/>
<circle cx="1336" cy="443.4" r="4.3" fill="#1f8e4b"/>
<circle cx="1368.4" cy="459.3" r="4.3" fill="#1f8e4b"/>
<circle cx="1409.7" cy="478.7" r="4.3" fill="#1f8e4b"/>
<circle cx="1538.7" cy="485.7" r="4.3" fill="#1f8e4b"/>
<circle cx="1318.5" cy="403.6" r="4.3" fill="#1f8e4b"/>
<circle cx="1296.2" cy="419.2" r="4.3" fill="#1f8e4b"/>
</g>
<g stroke="#1a1a1a" stroke-width="1.1">
<circle cx="1259" cy="397.2" r="4.3" fill="#86e48e"/>
<circle cx="1156.9" cy="417" r="4.3" fill="#86e48e"/>
<circle cx="1229.9" cy="409" r="4.3" fill="#86e48e"/>
<circle cx="1213.4" cy="411.7" r="4.3" fill="#86e48e"/>
<circle cx="1280" cy="415.4" r="4.3" fill="#86e48e"/>
<circle cx="1164.7" cy="406.5" r="4.3" fill="#86e48e"/>
<circle cx="1156.4" cy="402.8" r="4.3" fill="#86e48e"/>
<circle cx="1177.1" cy="410.8" r="4.3" fill="#86e48e"/>
<circle cx="1148.5" cy="412" r="4.3" fill="#86e48e"/>
<circle cx="1268.9" cy="404.4" r="4.3" fill="#86e48e"/>
<circle cx="1230.7" cy="427.9" r="4.3" fill="#86e48e"/>
<circle cx="1234.4" cy="403.7" r="4.3" fill="#86e48e"/>
<circle cx="1141.3" cy="432.8" r="4.3" fill="#86e48e"/>
<circle cx="1224.6" cy="427.8" r="4.3" fill="#86e48e"/>
<circle cx="1231.6" cy="419.2" r="4.3" fill="#86e48e"/>
<circle cx="1197.4" cy="422.7" r="4.3" fill="#86e48e"/>
<circle cx="1276.1" cy="398.2" r="4.3" fill="#86e48e"/>
<circle cx="1114.7" cy="408.4" r="4.3" fill="#86e48e"/>
<circle cx="1164.1" cy="399.5" r="4.3" fill="#86e48e"/>
<circle cx="1132.4" cy="412.9" r="4.3" fill="#86e48e"/>
<circle cx="1190.5" cy="399.1" r="4.3" fill="#86e48e"/>
<circle cx="1127.4" cy="415.4" r="4.3" fill="#86e48e"/>
<circle cx="1181" cy="409.2" r="4.3" fill="#86e48e"/>
<circle cx="1186.2" cy="408.8" r="4.3" fill="#86e48e"/>
<circle cx="1109.3" cy="414.1" r="4.3" fill="#86e48e"/>
<circle cx="1273.2" cy="383.4" r="4.3" fill="#86e48e"/>
<circle cx="1130.2" cy="401" r="4.3" fill="#86e48e"/>
<circle cx="1113.2" cy="417.9" r="4.3" fill="#86e48e"/>
<circle cx="1107.4" cy="396.4" r="4.3" fill="#86e48e"/>
<circle cx="1275.4" cy="404.8" r="4.3" fill="#86e48e"/>
<circle cx="1218" cy="390.4" r="4.3" fill="#86e48e"/>
<circle cx="1187.7" cy="415.5" r="4.3" fill="#86e48e"/>
<circle cx="1199.6" cy="393.4" r="4.3" fill="#86e48e"/>
<circle cx="1173.7" cy="395" r="4.3" fill="#86e48e"/>
<circle cx="1271.1" cy="390.5" r="4.3" fill="#86e48e"/>
<circle cx="1240.7" cy="392.8" r="4.3" fill="#86e48e"/>
<circle cx="1142.5" cy="422.8" r="4.3" fill="#86e48e"/>
<circle cx="1187.6" cy="386.9" r="4.3" fill="#86e48e"/>
<circle cx="1133.2" cy="408.9" r="4.3" fill="#86e48e"/>
<circle cx="1212.8" cy="413.4" r="4.3" fill="#86e48e"/>
<circle cx="1260.5" cy="415.5" r="4.3" fill="#86e48e"/>
<circle cx="1177.8" cy="408.7" r="4.3" fill="#86e48e"/>
<circle cx="1174.9" cy="422" r="4.3" fill="#86e48e"/>
<circle cx="1179.5" cy="413.9" r="4.3" fill="#86e48e"/>
<circle cx="1162.8" cy="422.4" r="4.3" fill="#86e48e"/>
<circle cx="1279.3" cy="383.8" r="4.3" fill="#86e48e"/>
<circle cx="1268.3" cy="402.4" r="4.3" fill="#86e48e"/>
<circle cx="1279.1" cy="429.3" r="4.3" fill="#86e48e"/>
<circle cx="1118.8" cy="415.7" r="4.3" fill="#86e48e"/>
<circle cx="1243.6" cy="401.2" r="4.3" fill="#86e48e"/>
<circle cx="1202.5" cy="425" r="4.3" fill="#86e48e"/>
<circle cx="1182.3" cy="396.7" r="4.3" fill="#86e48e"/>
<circle cx="1219.6" cy="396.5" r="4.3" fill="#86e48e"/>
<circle cx="1226.5" cy="423.1" r="4.3" fill="#86e48e"/>
<circle cx="1228.3" cy="406.6" r="4.3" fill="#86e48e"/>
<circle cx="1257.7" cy="387.4" r="4.3" fill="#86e48e"/>
<circle cx="1126.4" cy="408.6" r="4.3" fill="#86e48e"/>
<circle cx="1135.6" cy="415.4" r="4.3" fill="#86e48e"/>
<circle cx="1263.9" cy="399.4" r="4.3" fill="#86e48e"/>
<circle cx="1213.3" cy="418.8" r="4.3" fill="#86e48e"/>
<circle cx="1245.3" cy="404.4" r="4.3" fill="#86e48e"/>
<circle cx="1169.9" cy="407.9" r="4.3" fill="#86e48e"/>
<circle cx="1272.6" cy="405.8" r="4.3" fill="#86e48e"/>
<circle cx="1119" cy="405.7" r="4.3" fill="#86e48e"/>
<circle cx="1201.5" cy="398.6" r="4.3" fill="#86e48e"/>
<circle cx="1224.9" cy="408.3" r="4.3" fill="#86e48e"/>
<circle cx="1268.2" cy="410.7" r="4.3" fill="#86e48e"/>
<circle cx="1137.8" cy="398.8" r="4.3" fill="#86e48e"/>
<circle cx="1241.6" cy="402.9" r="4.3" fill="#86e48e"/>
<circle cx="1256" cy="403.5" r="4.3" fill="#86e48e"/>
<circle cx="1198.4" cy="389.2" r="4.3" fill="#86e48e"/>
<circle cx="1116.7" cy="393.6" r="4.3" fill="#86e48e"/>
<circle cx="1168.4" cy="414.2" r="4.3" fill="#86e48e"/>
<circle cx="1251.3" cy="384.2" r="4.3" fill="#86e48e"/>
<circle cx="1148.4" cy="406.4" r="4.3" fill="#86e48e"/>
<circle cx="1188.2" cy="427.2" r="4.3" fill="#86e48e"/>
<circle cx="1160.3" cy="425.7" r="4.3" fill="#86e48e"/>
<circle cx="1191.3" cy="389.5" r="4.3" fill="#86e48e"/>
<circle cx="1115.8" cy="397.3" r="4.3" fill="#86e48e"/>
<circle cx="1255.7" cy="384.8" r="4.3" fill="#86e48e"/>
<circle cx="1155.8" cy="404.4" r="4.3" fill="#86e48e"/>
<circle cx="1262" cy="404" r="4.3" fill="#86e48e"/>
<circle cx="1181.2" cy="395" r="4.3" fill="#86e48e"/>
<circle cx="1225.3" cy="397.8" r="4.3" fill="#86e48e"/>
<circle cx="1118.1" cy="419.3" r="4.3" fill="#86e48e"/>
<circle cx="1213.3" cy="420.3" r="4.3" fill="#86e48e"/>
<circle cx="1254.3" cy="396.3" r="4.3" fill="#86e48e"/>
<circle cx="1248.4" cy="397" r="4.3" fill="#86e48e"/>
<circle cx="1168.1" cy="386.1" r="4.3" fill="#86e48e"/>
<circle cx="1277.9" cy="393.7" r="4.3" fill="#86e48e"/>
<circle cx="1157.2" cy="412.9" r="4.3" fill="#86e48e"/>
<circle cx="1265.7" cy="392.1" r="4.3" fill="#86e48e"/>
<circle cx="1244.4" cy="384.2" r="4.3" fill="#86e48e"/>
<circle cx="1223.6" cy="415.9" r="4.3" fill="#86e48e"/>
<circle cx="1124.7" cy="404" r="4.3" fill="#86e48e"/>
<circle cx="1230.5" cy="412.2" r="4.3" fill="#86e48e"/>
<circle cx="1279.5" cy="413.6" r="4.3" fill="#86e48e"/>
<circle cx="1141.6" cy="420.3" r="4.3" fill="#86e48e"/>
<circle cx="1244" cy="401.5" r="4.3" fill="#86e48e"/>
<circle cx="1206.1" cy="385.5" r="4.3" fill="#86e48e"/>
<circle cx="1122.3" cy="424.1" r="4.3" fill="#86e48e"/>
<circle cx="1274.6" cy="412.1" r="4.3" fill="#86e48e"/>
<circle cx="1148.8" cy="388.1" r="4.3" fill="#86e48e"/>
<circle cx="1217.6" cy="408.2" r="4.3" fill="#86e48e"/>
<circle cx="1158.9" cy="383.9" r="4.3" fill="#86e48e"/>
<circle cx="1230.3" cy="418.8" r="4.3" fill="#86e48e"/>
<circle cx="1131.6" cy="402" r="4.3" fill="#86e48e"/>
<circle cx="1209.5" cy="384.8" r="4.3" fill="#86e48e"/>
<circle cx="1262.8" cy="401.1" r="4.3" fill="#86e48e"/>
<circle cx="1257.6" cy="411.9" r="4.3" fill="#86e48e"/>
<circle cx="1146.7" cy="410.8" r="4.3" fill="#86e48e"/>
<circle cx="1260.6" cy="406.9" r="4.3" fill="#86e48e"/>
<circle cx="1249.7" cy="408.3" r="4.3" fill="#86e48e"/>
<circle cx="1135.9" cy="430.7" r="4.3" fill="#86e48e"/>
<circle cx="1213.1" cy="421.7" r="4.3" fill="#86e48e"/>
<circle cx="1236.6" cy="407" r="4.3" fill="#86e48e"/>
<circle cx="1191.9" cy="401.8" r="4.3" fill="#86e48e"/>
<circle cx="1183.3" cy="401.7" r="4.3" fill="#86e48e"/>
<circle cx="1242.6" cy="388.2" r="4.3" fill="#86e48e"/>
<circle cx="1209" cy="420.2" r="4.3" fill="#86e48e"/>
<circle cx="1247" cy="401.3" r="4.3" fill="#86e48e"/>
<circle cx="1249.1" cy="391.8" r="4.3" fill="#86e48e"/>
<circle cx="1248.7" cy="384.9" r="4.3" fill="#86e48e"/>
<circle cx="1175.4" cy="414.4" r="4.3" fill="#86e48e"/>
<circle cx="1204.8" cy="400" r="4.3" fill="#86e48e"/>
<circle cx="1156.1" cy="417.9" r="4.3" fill="#86e48e"/>
<circle cx="1262.8" cy="389.5" r="4.3" fill="#86e48e"/>
<circle cx="1195.1" cy="395.2" r="4.3" fill="#86e48e"/>
<circle cx="1184.5" cy="413.9" r="4.3" fill="#86e48e"/>
<circle cx="1181.2" cy="421.4" r="4.3" fill="#86e48e"/>
<circle cx="1162.6" cy="399.7" r="4.3" fill="#86e48e"/>
<circle cx="1218" cy="405.5" r="4.3" fill="#86e48e"/>
<circle cx="1242.5" cy="397.2" r="4.3" fill="#86e48e"/>
<circle cx="1276.2" cy="407.3" r="4.3" fill="#86e48e"/>
<circle cx="1212.8" cy="403.8" r="4.3" fill="#86e48e"/>
<circle cx="1093" cy="412" r="4.3" fill="#86e48e"/>
<circle cx="1174.5" cy="373.5" r="4.3" fill="#86e48e"/>
<circle cx="1162" cy="385" r="4.3" fill="#86e48e"/>
<circle cx="1250" cy="386.5" r="4.3" fill="#86e48e"/>
<circle cx="1255" cy="390.3" r="4.3" fill="#86e48e"/>
<circle cx="1240" cy="395" r="4.3" fill="#86e48e"/>
<circle cx="1310.8" cy="397.2" r="4.3" fill="#86e48e"/>
<circle cx="1312.1" cy="405.6" r="4.3" fill="#86e48e"/>
<circle cx="1305" cy="412.4" r="4.3" fill="#86e48e"/>
<circle cx="1408.3" cy="441.5" r="4.3" fill="#86e48e"/>
</g>
<g stroke="#141432" stroke-width="1.2">
<path d="M1145.7,64.3 l6.2,6.2 l-6.2,6.2 l-6.2,-6.2 Z" fill="#4658b8"/>
<path d="M1157.3,59.5 l6.2,6.2 l-6.2,6.2 l-6.2,-6.2 Z" fill="#4658b8"/>
<path d="M1173.4,57.7 l6.2,6.2 l-6.2,6.2 l-6.2,-6.2 Z" fill="#4658b8"/>
<path d="M1182.3,66 l6.2,6.2 l-6.2,6.2 l-6.2,-6.2 Z" fill="#4658b8"/>
<path d="M1167.5,67.5 l6.2,6.2 l-6.2,6.2 l-6.2,-6.2 Z" fill="#4658b8"/>
<path d="M1193.6,64.3 l6.2,6.2 l-6.2,6.2 l-6.2,-6.2 Z" fill="#4658b8"/>
<path d="M1204.9,60.3 l6.2,6.2 l-6.2,6.2 l-6.2,-6.2 Z" fill="#4658b8"/>
<path d="M1196.9,69.7 l6.2,6.2 l-6.2,6.2 l-6.2,-6.2 Z" fill="#4658b8"/>
<path d="M1190.3,73 l6.2,6.2 l-6.2,6.2 l-6.2,-6.2 Z" fill="#4658b8"/>
<path d="M1172.9,74.1 l6.2,6.2 l-6.2,6.2 l-6.2,-6.2 Z" fill="#4658b8"/>
<path d="M1176.2,78.4 l6.2,6.2 l-6.2,6.2 l-6.2,-6.2 Z" fill="#4658b8"/>
<path d="M1159.9,78.4 l6.2,6.2 l-6.2,6.2 l-6.2,-6.2 Z" fill="#4658b8"/>
<path d="M1178.4,83.8 l6.2,6.2 l-6.2,6.2 l-6.2,-6.2 Z" fill="#4658b8"/>
<path d="M1187.1,85.6 l6.2,6.2 l-6.2,6.2 l-6.2,-6.2 Z" fill="#4658b8"/>
<path d="M1193.6,80.6 l6.2,6.2 l-6.2,6.2 l-6.2,-6.2 Z" fill="#4658b8"/>
<path d="M1200.1,73 l6.2,6.2 l-6.2,6.2 l-6.2,-6.2 Z" fill="#4658b8"/>
<path d="M1228.4,66.4 l6.2,6.2 l-6.2,6.2 l-6.2,-6.2 Z" fill="#4658b8"/>
<path d="M1225.8,78.4 l6.2,6.2 l-6.2,6.2 l-6.2,-6.2 Z" fill="#4658b8"/>
<path d="M1253,71.2 l6.2,6.2 l-6.2,6.2 l-6.2,-6.2 Z" fill="#4658b8"/>
<path d="M1245.8,86.5 l6.2,6.2 l-6.2,6.2 l-6.2,-6.2 Z" fill="#4658b8"/>
<path d="M1276.3,53.4 l6.2,6.2 l-6.2,6.2 l-6.2,-6.2 Z" fill="#4658b8"/>
<path d="M1276.7,59.5 l6.2,6.2 l-6.2,6.2 l-6.2,-6.2 Z" fill="#4658b8"/>
<path d="M1277.4,85.6 l6.2,6.2 l-6.2,6.2 l-6.2,-6.2 Z" fill="#4658b8"/>
<path d="M1268.7,92.1 l6.2,6.2 l-6.2,6.2 l-6.2,-6.2 Z" fill="#4658b8"/>
<path d="M1105.5,93.6 l6.2,6.2 l-6.2,6.2 l-6.2,-6.2 Z" fill="#4658b8"/>
<path d="M1141.4,96.9 l6.2,6.2 l-6.2,6.2 l-6.2,-6.2 Z" fill="#4658b8"/>
<path d="M1151.2,92.5 l6.2,6.2 l-6.2,6.2 l-6.2,-6.2 Z" fill="#4658b8"/>
<path d="M1156,94.3 l6.2,6.2 l-6.2,6.2 l-6.2,-6.2 Z" fill="#4658b8"/>
<path d="M1161,99.1 l6.2,6.2 l-6.2,6.2 l-6.2,-6.2 Z" fill="#4658b8"/>
<path d="M1170.8,102.3 l6.2,6.2 l-6.2,6.2 l-6.2,-6.2 Z" fill="#4658b8"/>
<path d="M1171.8,108.9 l6.2,6.2 l-6.2,6.2 l-6.2,-6.2 Z" fill="#4658b8"/>
<path d="M1146.8,107.3 l6.2,6.2 l-6.2,6.2 l-6.2,-6.2 Z" fill="#4658b8"/>
<path d="M1157.7,112.1 l6.2,6.2 l-6.2,6.2 l-6.2,-6.2 Z" fill="#4658b8"/>
<path d="M1183.8,111 l6.2,6.2 l-6.2,6.2 l-6.2,-6.2 Z" fill="#4658b8"/>
<path d="M1180.5,117.6 l6.2,6.2 l-6.2,6.2 l-6.2,-6.2 Z" fill="#4658b8"/>
<path d="M1177.3,125.2 l6.2,6.2 l-6.2,6.2 l-6.2,-6.2 Z" fill="#4658b8"/>
<path d="M1199.7,98 l6.2,6.2 l-6.2,6.2 l-6.2,-6.2 Z" fill="#4658b8"/>
<path d="M1202.3,87.1 l6.2,6.2 l-6.2,6.2 l-6.2,-6.2 Z" fill="#4658b8"/>
<path d="M1207.7,85.6 l6.2,6.2 l-6.2,6.2 l-6.2,-6.2 Z" fill="#4658b8"/>
<path d="M1213.2,89.3 l6.2,6.2 l-6.2,6.2 l-6.2,-6.2 Z" fill="#4658b8"/>
<path d="M1209.9,92.5 l6.2,6.2 l-6.2,6.2 l-6.2,-6.2 Z" fill="#4658b8"/>
<path d="M1209.9,105.2 l6.2,6.2 l-6.2,6.2 l-6.2,-6.2 Z" fill="#4658b8"/>
<path d="M1217.5,110 l6.2,6.2 l-6.2,6.2 l-6.2,-6.2 Z" fill="#4658b8"/>
<path d="M1219.7,116.5 l6.2,6.2 l-6.2,6.2 l-6.2,-6.2 Z" fill="#4658b8"/>
<path d="M1200.1,113.9 l6.2,6.2 l-6.2,6.2 l-6.2,-6.2 Z" fill="#4658b8"/>
<path d="M1203.4,116.5 l6.2,6.2 l-6.2,6.2 l-6.2,-6.2 Z" fill="#4658b8"/>
<path d="M1208.8,121.9 l6.2,6.2 l-6.2,6.2 l-6.2,-6.2 Z" fill="#4658b8"/>
<path d="M1244.7,107.8 l6.2,6.2 l-6.2,6.2 l-6.2,-6.2 Z" fill="#4658b8"/>
<path d="M1243.6,117.6 l6.2,6.2 l-6.2,6.2 l-6.2,-6.2 Z" fill="#4658b8"/>
<path d="M1254.5,114.3 l6.2,6.2 l-6.2,6.2 l-6.2,-6.2 Z" fill="#4658b8"/>
<path d="M1257.8,120.8 l6.2,6.2 l-6.2,6.2 l-6.2,-6.2 Z" fill="#4658b8"/>
<path d="M1265.4,104.5 l6.2,6.2 l-6.2,6.2 l-6.2,-6.2 Z" fill="#4658b8"/>
<path d="M1119.6,110 l6.2,6.2 l-6.2,6.2 l-6.2,-6.2 Z" fill="#4658b8"/>
<path d="M1133.8,113.2 l6.2,6.2 l-6.2,6.2 l-6.2,-6.2 Z" fill="#4658b8"/>
<path d="M1140.3,127.4 l6.2,6.2 l-6.2,6.2 l-6.2,-6.2 Z" fill="#4658b8"/>
<path d="M1154,127.4 l6.2,6.2 l-6.2,6.2 l-6.2,-6.2 Z" fill="#4658b8"/>
<path d="M1133.8,139.3 l6.2,6.2 l-6.2,6.2 l-6.2,-6.2 Z" fill="#4658b8"/>
<path d="M1144.6,142.6 l6.2,6.2 l-6.2,6.2 l-6.2,-6.2 Z" fill="#4658b8"/>
<path d="M1151.2,144.8 l6.2,6.2 l-6.2,6.2 l-6.2,-6.2 Z" fill="#4658b8"/>
<path d="M1156.2,148 l6.2,6.2 l-6.2,6.2 l-6.2,-6.2 Z" fill="#4658b8"/>
<path d="M1170.8,140 l6.2,6.2 l-6.2,6.2 l-6.2,-6.2 Z" fill="#4658b8"/>
<path d="M1195.3,136.1 l6.2,6.2 l-6.2,6.2 l-6.2,-6.2 Z" fill="#4658b8"/>
<path d="M1194.7,150.2 l6.2,6.2 l-6.2,6.2 l-6.2,-6.2 Z" fill="#4658b8"/>
<path d="M1196.2,161.1 l6.2,6.2 l-6.2,6.2 l-6.2,-6.2 Z" fill="#4658b8"/>
<path d="M1206.7,145.9 l6.2,6.2 l-6.2,6.2 l-6.2,-6.2 Z" fill="#4658b8"/>
<path d="M1221.9,140.4 l6.2,6.2 l-6.2,6.2 l-6.2,-6.2 Z" fill="#4658b8"/>
<path d="M1234.9,139.3 l6.2,6.2 l-6.2,6.2 l-6.2,-6.2 Z" fill="#4658b8"/>
<path d="M1230.2,157.8 l6.2,6.2 l-6.2,6.2 l-6.2,-6.2 Z" fill="#4658b8"/>
<path d="M1266.1,147.4 l6.2,6.2 l-6.2,6.2 l-6.2,-6.2 Z" fill="#4658b8"/>
<path d="M1288.3,164.3 l6.2,6.2 l-6.2,6.2 l-6.2,-6.2 Z" fill="#4658b8"/>
<path d="M1121.8,148 l6.2,6.2 l-6.2,6.2 l-6.2,-6.2 Z" fill="#4658b8"/>
<path d="M1176.8,153 l6.2,6.2 l-6.2,6.2 l-6.2,-6.2 Z" fill="#4658b8"/>
<path d="M1151.2,160 l6.2,6.2 l-6.2,6.2 l-6.2,-6.2 Z" fill="#4658b8"/>
<path d="M1154.4,170.9 l6.2,6.2 l-6.2,6.2 l-6.2,-6.2 Z" fill="#4658b8"/>
<path d="M1084.8,171.3 l6.2,6.2 l-6.2,6.2 l-6.2,-6.2 Z" fill="#4658b8"/>
<path d="M1117,176.3 l6.2,6.2 l-6.2,6.2 l-6.2,-6.2 Z" fill="#4658b8"/>
<path d="M1135.9,171.3 l6.2,6.2 l-6.2,6.2 l-6.2,-6.2 Z" fill="#4658b8"/>
<path d="M1137,177.4 l6.2,6.2 l-6.2,6.2 l-6.2,-6.2 Z" fill="#4658b8"/>
<path d="M1128.8,183.5 l6.2,6.2 l-6.2,6.2 l-6.2,-6.2 Z" fill="#4658b8"/>
<path d="M1124.4,189.4 l6.2,6.2 l-6.2,6.2 l-6.2,-6.2 Z" fill="#4658b8"/>
<path d="M1167.5,177.4 l6.2,6.2 l-6.2,6.2 l-6.2,-6.2 Z" fill="#4658b8"/>
<path d="M1170.8,190.5 l6.2,6.2 l-6.2,6.2 l-6.2,-6.2 Z" fill="#4658b8"/>
<path d="M1231.7,187.2 l6.2,6.2 l-6.2,6.2 l-6.2,-6.2 Z" fill="#4658b8"/>
<path d="M1125.7,199.6 l6.2,6.2 l-6.2,6.2 l-6.2,-6.2 Z" fill="#4658b8"/>
<path d="M1137,196.6 l6.2,6.2 l-6.2,6.2 l-6.2,-6.2 Z" fill="#4658b8"/>
<path d="M1143.6,195.2 l6.2,6.2 l-6.2,6.2 l-6.2,-6.2 Z" fill="#4658b8"/>
<path d="M1147.5,201.8 l6.2,6.2 l-6.2,6.2 l-6.2,-6.2 Z" fill="#4658b8"/>
<path d="M1186,203.9 l6.2,6.2 l-6.2,6.2 l-6.2,-6.2 Z" fill="#4658b8"/>
<path d="M1210.6,205.7 l6.2,6.2 l-6.2,6.2 l-6.2,-6.2 Z" fill="#4658b8"/>
<path d="M1230.6,207.9 l6.2,6.2 l-6.2,6.2 l-6.2,-6.2 Z" fill="#4658b8"/>
<path d="M1105.5,209 l6.2,6.2 l-6.2,6.2 l-6.2,-6.2 Z" fill="#4658b8"/>
<path d="M1114.2,205.7 l6.2,6.2 l-6.2,6.2 l-6.2,-6.2 Z" fill="#4658b8"/>
<path d="M1141.4,212.2 l6.2,6.2 l-6.2,6.2 l-6.2,-6.2 Z" fill="#4658b8"/>
<path d="M1135.9,219.8 l6.2,6.2 l-6.2,6.2 l-6.2,-6.2 Z" fill="#4658b8"/>
<path d="M1150.1,225.7 l6.2,6.2 l-6.2,6.2 l-6.2,-6.2 Z" fill="#4658b8"/>
<path d="M1151.8,230.7 l6.2,6.2 l-6.2,6.2 l-6.2,-6.2 Z" fill="#4658b8"/>
<path d="M1158.8,237.2 l6.2,6.2 l-6.2,6.2 l-6.2,-6.2 Z" fill="#4658b8"/>
<path d="M1122.9,241.6 l6.2,6.2 l-6.2,6.2 l-6.2,-6.2 Z" fill="#4658b8"/>
<path d="M1119.2,250.3 l6.2,6.2 l-6.2,6.2 l-6.2,-6.2 Z" fill="#4658b8"/>
<path d="M1075.7,258.3 l6.2,6.2 l-6.2,6.2 l-6.2,-6.2 Z" fill="#4658b8"/>
<path d="M1071.8,270.5 l6.2,6.2 l-6.2,6.2 l-6.2,-6.2 Z" fill="#4658b8"/>
<path d="M1138.8,261.2 l6.2,6.2 l-6.2,6.2 l-6.2,-6.2 Z" fill="#4658b8"/>
<path d="M1143.6,267.7 l6.2,6.2 l-6.2,6.2 l-6.2,-6.2 Z" fill="#4658b8"/>
<path d="M1250.6,257.9 l6.2,6.2 l-6.2,6.2 l-6.2,-6.2 Z" fill="#4658b8"/>
<path d="M1145.7,282.9 l6.2,6.2 l-6.2,6.2 l-6.2,-6.2 Z" fill="#4658b8"/>
<path d="M1076.6,298.2 l6.2,6.2 l-6.2,6.2 l-6.2,-6.2 Z" fill="#4658b8"/>
<path d="M1081.8,293.6 l6.2,6.2 l-6.2,6.2 l-6.2,-6.2 Z" fill="#4658b8"/>
<path d="M1102.2,303 l6.2,6.2 l-6.2,6.2 l-6.2,-6.2 Z" fill="#4658b8"/>
<path d="M1090.1,332.7 l6.2,6.2 l-6.2,6.2 l-6.2,-6.2 Z" fill="#4658b8"/>
<path d="M1093.3,347.3 l6.2,6.2 l-6.2,6.2 l-6.2,-6.2 Z" fill="#4658b8"/>
<path d="M1115.6,351.9 l6.2,6.2 l-6.2,6.2 l-6.2,-6.2 Z" fill="#4658b8"/>
<path d="M1065.5,367.2 l6.2,6.2 l-6.2,6.2 l-6.2,-6.2 Z" fill="#4658b8"/>
<path d="M1159,382.8 l6.2,6.2 l-6.2,6.2 l-6.2,-6.2 Z" fill="#4658b8"/>
<path d="M1368.1,51.8 l6.2,6.2 l-6.2,6.2 l-6.2,-6.2 Z" fill="#4658b8"/>
<path d="M1406.5,83.4 l6.2,6.2 l-6.2,6.2 l-6.2,-6.2 Z" fill="#4658b8"/>
<path d="M1376.9,166.7 l6.2,6.2 l-6.2,6.2 l-6.2,-6.2 Z" fill="#4658b8"/>
</g>
<g stroke="#1a1a1a" stroke-width="1.1">
<path d="M1339.9,387.9 L1343.6,394.8 L1336.2,394.8 Z" fill="#f0a232"/>
<path d="M1345.7,395.7 L1349.4,402.5 L1342,402.5 Z" fill="#f0a232"/>
<path d="M1353.5,395.7 L1357.2,402.5 L1349.8,402.5 Z" fill="#f0a232"/>
<path d="M1357.3,397.2 L1361,404.1 L1353.6,404.1 Z" fill="#f0a232"/>
<path d="M1340.9,402.1 L1344.6,408.9 L1337.2,408.9 Z" fill="#f0a232"/>
<path d="M1343.8,409.3 L1347.5,416.1 L1340.1,416.1 Z" fill="#f0a232"/>
<path d="M1369,407.9 L1372.7,414.8 L1365.3,414.8 Z" fill="#f0a232"/>
<path d="M1372.9,413.7 L1376.6,420.6 L1369.2,420.6 Z" fill="#f0a232"/>
<path d="M1365.1,417 L1368.8,423.9 L1361.4,423.9 Z" fill="#f0a232"/>
<path d="M1357.3,419.5 L1361,426.4 L1353.6,426.4 Z" fill="#f0a232"/>
<path d="M1354.4,424.8 L1358.1,431.6 L1350.7,431.6 Z" fill="#f0a232"/>
<path d="M1337.9,418 L1341.6,424.8 L1334.2,424.8 Z" fill="#f0a232"/>
<path d="M1331.2,425.4 L1334.9,432.2 L1327.5,432.2 Z" fill="#f0a232"/>
<path d="M1338.9,428.7 L1342.6,435.5 L1335.2,435.5 Z" fill="#f0a232"/>
<path d="M1318.5,428.7 L1322.2,435.5 L1314.8,435.5 Z" fill="#f0a232"/>
<path d="M1325.3,439.7 L1329,446.6 L1321.6,446.6 Z" fill="#f0a232"/>
<path d="M1369.9,435.4 L1373.6,442.3 L1366.2,442.3 Z" fill="#f0a232"/>
<path d="M1367,445.1 L1370.7,452 L1363.3,452 Z" fill="#f0a232"/>
<path d="M1383.5,429.6 L1387.2,436.5 L1379.8,436.5 Z" fill="#f0a232"/>
<path d="M1387.4,429.2 L1391.1,436.1 L1383.7,436.1 Z" fill="#f0a232"/>
<path d="M1400,417.6 L1403.7,424.5 L1396.3,424.5 Z" fill="#f0a232"/>
<path d="M1401,429.6 L1404.7,436.5 L1397.3,436.5 Z" fill="#f0a232"/>
<path d="M1405.8,430.6 L1409.5,437.4 L1402.1,437.4 Z" fill="#f0a232"/>
<path d="M1389,453.9 L1392.7,460.7 L1385.3,460.7 Z" fill="#f0a232"/>
<path d="M1390.9,463.2 L1394.6,470 L1387.2,470 Z" fill="#f0a232"/>
<path d="M1432,408.7 L1435.7,415.5 L1428.3,415.5 Z" fill="#f0a232"/>
<path d="M1504.7,400.9 L1508.4,407.8 L1501,407.8 Z" fill="#f0a232"/>
<path d="M1442.7,433.5 L1446.4,440.4 L1439,440.4 Z" fill="#f0a232"/>
<path d="M1442.7,439.7 L1446.4,446.6 L1439,446.6 Z" fill="#f0a232"/>
<path d="M1455.3,441.7 L1459,448.5 L1451.6,448.5 Z" fill="#f0a232"/>
<path d="M1463,434.5 L1466.7,441.3 L1459.3,441.3 Z" fill="#f0a232"/>
<path d="M1470.8,438.4 L1474.5,445.2 L1467.1,445.2 Z" fill="#f0a232"/>
<path d="M1470.8,444.2 L1474.5,451 L1467.1,451 Z" fill="#f0a232"/>
<path d="M1429.1,448.6 L1432.8,455.5 L1425.4,455.5 Z" fill="#f0a232"/>
<path d="M1437.8,454.5 L1441.5,461.3 L1434.1,461.3 Z" fill="#f0a232"/>
<path d="M1483.4,452.3 L1487.1,459.2 L1479.7,459.2 Z" fill="#f0a232"/>
<path d="M1529,450 L1532.7,456.8 L1525.3,456.8 Z" fill="#f0a232"/>
<path d="M1470.8,459.1 L1474.5,466 L1467.1,466 Z" fill="#f0a232"/>
<path d="M1489.2,468 L1492.9,474.9 L1485.5,474.9 Z" fill="#f0a232"/>
<path d="M1359.3,468.4 L1363,475.3 L1355.6,475.3 Z" fill="#f0a232"/>
<path d="M1352.1,456.4 L1355.8,463.2 L1348.4,463.2 Z" fill="#f0a232"/>
<path d="M1338.9,451.9 L1342.6,458.8 L1335.2,458.8 Z" fill="#f0a232"/>
<path d="M1337.9,456.8 L1341.6,463.6 L1334.2,463.6 Z" fill="#f0a232"/>
<path d="M1319.9,468 L1323.6,474.9 L1316.2,474.9 Z" fill="#f0a232"/>
<path d="M1329.6,471.7 L1333.3,478.6 L1325.9,478.6 Z" fill="#f0a232"/>
<path d="M1305,490.3 L1308.7,497.2 L1301.3,497.2 Z" fill="#f0a232"/>
<path d="M1368,508.2 L1371.7,515 L1364.3,515 Z" fill="#f0a232"/>
<path d="M1383.5,513 L1387.2,519.9 L1379.8,519.9 Z" fill="#f0a232"/>
<path d="M1387.8,517.9 L1391.5,524.7 L1384.1,524.7 Z" fill="#f0a232"/>
<path d="M1418.4,507.2 L1422.1,514.1 L1414.7,514.1 Z" fill="#f0a232"/>
<path d="M1313.7,415.1 L1317.4,421.9 L1310,421.9 Z" fill="#f0a232"/>
<path d="M1309.8,420.9 L1313.5,427.7 L1306.1,427.7 Z" fill="#f0a232"/>
<path d="M1302.1,425.8 L1305.8,432.6 L1298.4,432.6 Z" fill="#f0a232"/>
<path d="M1305.9,432.5 L1309.6,439.4 L1302.2,439.4 Z" fill="#f0a232"/>
<path d="M1300.1,400.5 L1303.8,407.4 L1296.4,407.4 Z" fill="#f0a232"/>
<path d="M1320.5,406 L1324.2,412.8 L1316.8,412.8 Z" fill="#f0a232"/>
<path d="M1291.4,408.3 L1295.1,415.1 L1287.7,415.1 Z" fill="#f0a232"/>
<path d="M1296.2,413.7 L1299.9,420.6 L1292.5,420.6 Z" fill="#f0a232"/>
<path d="M1297.8,435.8 L1301.5,442.7 L1294.1,442.7 Z" fill="#f0a232"/>
<path d="M1293.3,443.6 L1297,450.4 L1289.6,450.4 Z" fill="#f0a232"/>
<path d="M1259.5,401.3 L1263.2,408.2 L1255.8,408.2 Z" fill="#f0a232"/>
<path d="M1290.4,447.6 L1294.1,454.4 L1286.7,454.4 Z" fill="#f0a232"/>
<path d="M1231.3,418.8 L1235,425.6 L1227.6,425.6 Z" fill="#f0a232"/>
<path d="M1213.2,401.8 L1216.9,408.7 L1209.5,408.7 Z" fill="#f0a232"/>
<path d="M1258,463 L1261.7,469.9 L1254.3,469.9 Z" fill="#f0a232"/>
<path d="M1245.5,470.5 L1249.2,477.3 L1241.8,477.3 Z" fill="#f0a232"/>
<path d="M1229.3,390.5 L1233,397.4 L1225.6,397.4 Z" fill="#f0a232"/>
<path d="M1284.7,416 L1288.4,422.9 L1281,422.9 Z" fill="#f0a232"/>
<path d="M1231.6,422.3 L1235.3,429.1 L1227.9,429.1 Z" fill="#f0a232"/>
<path d="M1263.1,401.4 L1266.8,408.2 L1259.4,408.2 Z" fill="#f0a232"/>
<path d="M1215.1,436.5 L1218.8,443.3 L1211.4,443.3 Z" fill="#f0a232"/>
<path d="M1267.5,433 L1271.2,439.9 L1263.8,439.9 Z" fill="#f0a232"/>
<path d="M1220.2,461 L1223.9,467.8 L1216.5,467.8 Z" fill="#f0a232"/>
<path d="M1245.8,431.3 L1249.5,438.2 L1242.1,438.2 Z" fill="#f0a232"/>
<path d="M1289.1,393.4 L1292.8,400.2 L1285.4,400.2 Z" fill="#f0a232"/>
<path d="M1252.1,420.3 L1255.8,427.2 L1248.4,427.2 Z" fill="#f0a232"/>
<path d="M1265.7,401.9 L1269.4,408.7 L1262,408.7 Z" fill="#f0a232"/>
<path d="M1227.9,402 L1231.6,408.9 L1224.2,408.9 Z" fill="#f0a232"/>
<path d="M1258.1,408.9 L1261.8,415.7 L1254.4,415.7 Z" fill="#f0a232"/>
<path d="M1293.1,461.9 L1296.8,468.8 L1289.4,468.8 Z" fill="#f0a232"/>
<path d="M1274.1,418.7 L1277.8,425.6 L1270.4,425.6 Z" fill="#f0a232"/>
<path d="M1283.3,434.3 L1287,441.2 L1279.6,441.2 Z" fill="#f0a232"/>
<path d="M1279.4,469.7 L1283.1,476.6 L1275.7,476.6 Z" fill="#f0a232"/>
<path d="M1216.5,451.7 L1220.2,458.6 L1212.8,458.6 Z" fill="#f0a232"/>
<path d="M1290.9,418.6 L1294.6,425.4 L1287.2,425.4 Z" fill="#f0a232"/>
<path d="M1237.5,383.9 L1241.2,390.7 L1233.8,390.7 Z" fill="#f0a232"/>
<path d="M1290.1,400.2 L1293.8,407 L1286.4,407 Z" fill="#f0a232"/>
<path d="M1205.8,389.2 L1209.5,396.1 L1202.1,396.1 Z" fill="#f0a232"/>
<path d="M1254,444.4 L1257.7,451.3 L1250.3,451.3 Z" fill="#f0a232"/>
<path d="M1291,442.7 L1294.7,449.5 L1287.3,449.5 Z" fill="#f0a232"/>
<path d="M1214.7,467.4 L1218.4,474.3 L1211,474.3 Z" fill="#f0a232"/>
<path d="M1287.8,456 L1291.5,462.8 L1284.1,462.8 Z" fill="#f0a232"/>
<path d="M1290.5,458.6 L1294.2,465.5 L1286.8,465.5 Z" fill="#f0a232"/>
<path d="M1270,452.3 L1273.7,459.1 L1266.3,459.1 Z" fill="#f0a232"/>
<path d="M1207.2,473 L1210.9,479.8 L1203.5,479.8 Z" fill="#f0a232"/>
<path d="M1205.4,420.5 L1209.1,427.3 L1201.7,427.3 Z" fill="#f0a232"/>
<path d="M1259.1,428.4 L1262.8,435.2 L1255.4,435.2 Z" fill="#f0a232"/>
<path d="M1237.2,428.2 L1240.9,435 L1233.5,435 Z" fill="#f0a232"/>
</g>
<g stroke="#222" stroke-width="1.2">
<rect x="1581.8" y="173.6" width="12.4" height="12.4" fill="#ee1111"/>
<circle cx="1588" cy="217.9" r="6.2" fill="#157a15"/>
<circle cx="1588" cy="256.8" r="6.2" fill="#22ee22"/>
<path d="M1588,287 l5.3,5.3 l-5.3,5.3 l-5.3,-5.3Z" fill="#2277cc"/>
<path d="M1588,322 l5.8,10.5 h-11.6Z" fill="#ee8822"/>
</g>
<g stroke="#636363" stroke-width="2.2" fill="none"><path d="M111.7,863.9 V953"/><path d="M106.2,863.9 H117.2"/><path d="M106.2,873.1 H117.2"/></g>
<g stroke="#636363" stroke-width="2.2" fill="none"><path d="M243.3,753.1 V950.6"/><path d="M243.3,964.5 V1001.8"/><path d="M237.8,753.1 H248.8"/><path d="M237.8,839.5 H248.8"/><path d="M237.8,863.4 H248.8"/><path d="M237.8,950.6 H248.8"/><path d="M237.8,964.5 H248.8"/><path d="M237.8,1001.8 H248.8"/></g>
<g stroke="#636363" stroke-width="2.2" fill="none"><path d="M324.2,697.2 V829.7"/><path d="M324.2,924.3 V982.2"/><path d="M324.2,991.6 V1012"/><path d="M318.7,697.2 H329.7"/><path d="M318.7,795.9 H329.7"/><path d="M318.7,829.7 H329.7"/><path d="M318.7,924.3 H329.7"/><path d="M318.7,963.4 H329.7"/><path d="M318.7,982.2 H329.7"/><path d="M318.7,991.6 H329.7"/><path d="M318.7,1012 H329.7"/></g>
<g stroke="#636363" stroke-width="2.2" fill="none"><path d="M371.7,703.5 V802.1"/><path d="M371.7,812.2 V843.5"/><path d="M371.7,957.2 V977.5"/><path d="M371.7,1007.3 V1019.8"/><path d="M366.2,703.5 H377.2"/><path d="M366.2,802.1 H377.2"/><path d="M366.2,812.2 H377.2"/><path d="M366.2,843.5 H377.2"/><path d="M366.2,977.5 H377.2"/><path d="M366.2,1007.3 H377.2"/><path d="M366.2,1019.8 H377.2"/></g>
<g stroke="#636363" stroke-width="2.2" fill="none"><path d="M420.5,711.3 V831.9"/><path d="M420.5,845 V883.6"/><path d="M420.5,922.7 V991.6"/><path d="M420.5,1016.7 V1029"/><path d="M415,711.3 H426"/><path d="M415,831.9 H426"/><path d="M415,845 H426"/><path d="M415,883.6 H426"/><path d="M415,922.7 H426"/><path d="M415,964 H426"/><path d="M415,991.6 H426"/><path d="M415,1016.7 H426"/><path d="M415,1029 H426"/></g>
<g stroke="#636363" stroke-width="2.2" fill="none"><path d="M495.6,727.4 V833.6"/><path d="M495.6,885.1 V906.7"/><path d="M495.6,954.3 V1007.5"/><path d="M495.6,1025.2 V1036.4"/><path d="M490.1,727.4 H501.1"/><path d="M490.1,833.6 H501.1"/><path d="M490.1,885.1 H501.1"/><path d="M490.1,906.7 H501.1"/><path d="M490.1,954.3 H501.1"/><path d="M490.1,968.6 H501.1"/><path d="M490.1,990.2 H501.1"/><path d="M490.1,1007.5 H501.1"/><path d="M490.1,1025.2 H501.1"/><path d="M490.1,1036.4 H501.1"/></g>
<g stroke="#636363" stroke-width="2.2" fill="none"><path d="M570.8,764.4 V875.5"/><path d="M570.8,897 V922.8"/><path d="M570.8,982.4 V1025.8"/><path d="M570.8,1043 V1050"/><path d="M565.3,764.4 H576.3"/><path d="M565.3,875.5 H576.3"/><path d="M565.3,897 H576.3"/><path d="M565.3,922.8 H576.3"/><path d="M565.3,982.4 H576.3"/><path d="M565.3,1020.7 H576.3"/><path d="M565.3,1025.8 H576.3"/></g>
<g stroke="#636363" stroke-width="2.2" fill="none"><path d="M635.8,820.1 V942.1"/><path d="M635.8,994 V1039"/><path d="M635.8,1050 V1058"/><path d="M630.3,921.5 H641.3"/><path d="M630.3,942.1 H641.3"/><path d="M630.3,994 H641.3"/><path d="M630.3,1039 H641.3"/></g>
<g stroke="#636363" stroke-width="2.2" fill="none"><path d="M716.5,956.6 V977.5"/><path d="M716.5,1045 V1060"/><path d="M711,977.5 H722"/><path d="M711,1048.7 H722"/></g>
<g stroke="#636363" stroke-width="3" fill="none"><path d="M111.7,953 V994.2"/><path d="M105.7,953.5 H117.7"/><path d="M105.7,962 H117.7"/><path d="M105.7,994.2 H117.7"/></g>
<g stroke="#111" stroke-width="2.4" fill="none"><path d="M371.7,908.6 V957.2"/><path d="M365.7,908.6 H377.7"/><path d="M365.7,957.2 H377.7"/></g>
<g stroke="#111" stroke-width="3" fill="none"><path d="M629.3,820.1 H642.3"/></g>
<g stroke="#111" stroke-width="2.6" fill="none"><path d="M716.5,859.4 V956.6"/><path d="M710,859.4 H723"/><path d="M710,956.6 H723"/></g>
<g stroke="#000" stroke-width="3" fill="none" stroke-linecap="butt">
<path d="M86,691 V1079.5"/><path d="M74,1078 H790.5"/>
<path d="M73.5,694 H86"/>
<path d="M73.5,756.7 H86"/>
<path d="M73.5,821.4 H86"/>
<path d="M73.5,884.6 H86"/>
<path d="M73.5,947 H86"/>
<path d="M73.5,1009.6 H86"/>
<path d="M86,1078 V1084"/>
<path d="M307.4,1078 V1084"/>
<path d="M524,1078 V1084"/>
<path d="M788.8,1078 V1084"/>
<path d="M788.8,1076 V1084"/>
</g>
<g font-size="24.5" fill="#111" text-anchor="end">
<text x="71.3" y="704.4">60</text>
<text x="71.3" y="767.1">50</text>
<text x="71.3" y="831.8">40</text>
<text x="71.3" y="895">30</text>
<text x="71.3" y="957.4">20</text>
<text x="71.3" y="1020">10</text>
<text x="71.3" y="1079.2">0</text>
</g><g font-size="24.5" fill="#111" text-anchor="middle">
<text x="88" y="1103.2">1</text>
<text x="309" y="1103.6">10</text>
<text x="520.9" y="1100.9">100</text>
<text x="766.7" y="1102.8">1000</text>
</g>
<polyline points="111.7,968.2 243.3,989.6 324.2,1001.8 371.7,1013.7 420.5,1023 495.6,1031 570.8,1045 635.8,1053.3 716.5,1054.7" fill="none" stroke="#1a72c6" stroke-width="4.2" stroke-linejoin="round" stroke-linecap="round"/>
<polyline points="111.7,942 243.3,977.4 324.2,973.5 371.7,969.4 420.5,979.9 495.6,979.5 570.8,1010 635.8,1006 716.5,1031" fill="none" stroke="#6b3a0c" stroke-width="4.2" stroke-linejoin="round" stroke-linecap="round"/>
<polyline points="111.7,907.2 243.3,906 324.2,947.5 371.7,935.3 420.5,951.1 495.6,979.5 570.8,1000 635.8,1022.8 716.5,1037.2" fill="none" stroke="#f01010" stroke-width="4.2" stroke-linejoin="round" stroke-linecap="round"/>
<polyline points="111.7,919.9 243.3,825.1 324.2,811 371.7,826.8 420.5,862.1 495.6,896.7 570.8,910 635.8,931.7 716.5,967.1" fill="none" stroke="#1ae81a" stroke-width="4.2" stroke-linejoin="round" stroke-linecap="round"/>
<polyline points="111.7,910 243.3,807.2 324.2,754.2 371.7,752 420.5,769.5 495.6,779.5 570.8,819.3 635.8,874.3 716.5,911.5" fill="none" stroke="#052c05" stroke-width="4.6" stroke-linejoin="round" stroke-linecap="round"/>
<circle cx="111.7" cy="910" r="7" fill="#0f3d0f" stroke="#111" stroke-width="1.3"/>
<circle cx="243.3" cy="807.2" r="7" fill="#0f3d0f" stroke="#111" stroke-width="1.3"/>
<circle cx="324.2" cy="754.2" r="7" fill="#0f3d0f" stroke="#111" stroke-width="1.3"/>
<circle cx="371.7" cy="752" r="7" fill="#0f3d0f" stroke="#111" stroke-width="1.3"/>
<circle cx="420.5" cy="769.5" r="7" fill="#0f3d0f" stroke="#111" stroke-width="1.3"/>
<circle cx="495.6" cy="779.5" r="7" fill="#0f3d0f" stroke="#111" stroke-width="1.3"/>
<circle cx="570.8" cy="819.3" r="7" fill="#0f3d0f" stroke="#111" stroke-width="1.3"/>
<circle cx="635.8" cy="874.3" r="7" fill="#0f3d0f" stroke="#111" stroke-width="1.3"/>
<circle cx="716.5" cy="911.5" r="7" fill="#0f3d0f" stroke="#111" stroke-width="1.3"/>
<circle cx="111.7" cy="919.9" r="6.8" fill="#22f822" stroke="#111" stroke-width="1.3"/>
<circle cx="243.3" cy="825.1" r="6.8" fill="#22f822" stroke="#111" stroke-width="1.3"/>
<circle cx="324.2" cy="811" r="6.8" fill="#22f822" stroke="#111" stroke-width="1.3"/>
<circle cx="371.7" cy="826.8" r="6.8" fill="#22f822" stroke="#111" stroke-width="1.3"/>
<circle cx="420.5" cy="862.1" r="6.8" fill="#22f822" stroke="#111" stroke-width="1.3"/>
<circle cx="495.6" cy="896.7" r="6.8" fill="#22f822" stroke="#111" stroke-width="1.3"/>
<circle cx="570.8" cy="910" r="6.8" fill="#22f822" stroke="#111" stroke-width="1.3"/>
<circle cx="635.8" cy="931.7" r="6.8" fill="#22f822" stroke="#111" stroke-width="1.3"/>
<circle cx="716.5" cy="967.1" r="6.8" fill="#22f822" stroke="#111" stroke-width="1.3"/>
<rect x="104.7" y="900.2" width="14" height="14" fill="#f01010" stroke="#111" stroke-width="1.3"/>
<rect x="236.3" y="899" width="14" height="14" fill="#f01010" stroke="#111" stroke-width="1.3"/>
<rect x="317.2" y="940.5" width="14" height="14" fill="#f01010" stroke="#111" stroke-width="1.3"/>
<rect x="364.7" y="928.3" width="14" height="14" fill="#f01010" stroke="#111" stroke-width="1.3"/>
<rect x="413.5" y="944.1" width="14" height="14" fill="#f01010" stroke="#111" stroke-width="1.3"/>
<rect x="488.6" y="972.5" width="14" height="14" fill="#f01010" stroke="#111" stroke-width="1.3"/>
<rect x="563.8" y="993" width="14" height="14" fill="#f01010" stroke="#111" stroke-width="1.3"/>
<rect x="628.8" y="1015.8" width="14" height="14" fill="#f01010" stroke="#111" stroke-width="1.3"/>
<rect x="709.5" y="1030.2" width="14" height="14" fill="#f01010" stroke="#111" stroke-width="1.3"/>
<path d="M111.7,960.4 l7.8,7.8 l-7.8,7.8 l-7.8,-7.8 Z" fill="#1a6fc4" stroke="#111" stroke-width="1.3"/>
<path d="M243.3,981.8 l7.8,7.8 l-7.8,7.8 l-7.8,-7.8 Z" fill="#1a6fc4" stroke="#111" stroke-width="1.3"/>
<path d="M324.2,994 l7.8,7.8 l-7.8,7.8 l-7.8,-7.8 Z" fill="#1a6fc4" stroke="#111" stroke-width="1.3"/>
<path d="M371.7,1005.9 l7.8,7.8 l-7.8,7.8 l-7.8,-7.8 Z" fill="#1a6fc4" stroke="#111" stroke-width="1.3"/>
<path d="M420.5,1015.2 l7.8,7.8 l-7.8,7.8 l-7.8,-7.8 Z" fill="#1a6fc4" stroke="#111" stroke-width="1.3"/>
<path d="M495.6,1023.2 l7.8,7.8 l-7.8,7.8 l-7.8,-7.8 Z" fill="#1a6fc4" stroke="#111" stroke-width="1.3"/>
<path d="M570.8,1037.2 l7.8,7.8 l-7.8,7.8 l-7.8,-7.8 Z" fill="#1a6fc4" stroke="#111" stroke-width="1.3"/>
<path d="M635.8,1045.5 l7.8,7.8 l-7.8,7.8 l-7.8,-7.8 Z" fill="#1a6fc4" stroke="#111" stroke-width="1.3"/>
<path d="M716.5,1046.9 l7.8,7.8 l-7.8,7.8 l-7.8,-7.8 Z" fill="#1a6fc4" stroke="#111" stroke-width="1.3"/>
<path d="M111.7,933.2 L119,947.5 L104.4,947.5 Z" fill="#6e3b10" stroke="#111" stroke-width="1.3"/>
<path d="M243.3,968.6 L250.7,982.9 L236,982.9 Z" fill="#6e3b10" stroke="#111" stroke-width="1.3"/>
<path d="M324.2,964.7 L331.6,979 L316.8,979 Z" fill="#6e3b10" stroke="#111" stroke-width="1.3"/>
<path d="M371.7,960.6 L379.1,974.9 L364.3,974.9 Z" fill="#6e3b10" stroke="#111" stroke-width="1.3"/>
<path d="M420.5,971.1 L427.9,985.4 L413.1,985.4 Z" fill="#6e3b10" stroke="#111" stroke-width="1.3"/>
<path d="M495.6,970.7 L503,985 L488.2,985 Z" fill="#6e3b10" stroke="#111" stroke-width="1.3"/>
<path d="M570.8,1001.2 L578.1,1015.5 L563.4,1015.5 Z" fill="#6e3b10" stroke="#111" stroke-width="1.3"/>
<path d="M635.8,997.2 L643.1,1011.5 L628.4,1011.5 Z" fill="#6e3b10" stroke="#111" stroke-width="1.3"/>
<path d="M716.5,1022.2 L723.9,1036.5 L709.1,1036.5 Z" fill="#6e3b10" stroke="#111" stroke-width="1.3"/>
<g stroke="#5a5a5a" stroke-width="3" fill="none"><path d="M931.7,728 V952.2"/><path d="M925.2,728 H938.2"/><path d="M925.2,788.4 H938.2"/><path d="M925.2,821.6 H938.2"/><path d="M925.2,864.2 H938.2"/><path d="M925.2,887.9 H938.2"/><path d="M925.2,906.3 H938.2"/><path d="M925.2,952.2 H938.2"/></g>
<g stroke="#5a5a5a" stroke-width="3" fill="none"><path d="M1167.9,784 V861.5"/><path d="M1167.9,902 V1003.4"/><path d="M1161.4,784 H1174.4"/><path d="M1161.4,790.8 H1174.4"/><path d="M1161.4,861.5 H1174.4"/><path d="M1161.4,902 H1174.4"/><path d="M1161.4,973.7 H1174.4"/><path d="M1161.4,979.7 H1174.4"/><path d="M1161.4,1003.4 H1174.4"/></g>
<g stroke="#5a5a5a" stroke-width="3" fill="none"><path d="M1251.6,837.7 V918.4"/><path d="M1251.6,977.8 V1029.3"/><path d="M1245.1,837.7 H1258.1"/><path d="M1245.1,918.4 H1258.1"/><path d="M1245.1,977.8 H1258.1"/><path d="M1245.1,1029.3 H1258.1"/></g>
<g stroke="#5a5a5a" stroke-width="3" fill="none"><path d="M1342.4,875.5 V929.6"/><path d="M1342.4,971.6 V1044"/><path d="M1335.9,875.5 H1348.9"/><path d="M1335.9,880.3 H1348.9"/><path d="M1335.9,929.6 H1348.9"/><path d="M1335.9,971.6 H1348.9"/><path d="M1335.9,1044 H1348.9"/></g>
<g stroke="#5a5a5a" stroke-width="3" fill="none"><path d="M1478.7,983.8 V1015"/><path d="M1478.7,1052.6 V1086.3"/><path d="M1472.2,983.8 H1485.2"/><path d="M1472.2,990.1 H1485.2"/><path d="M1472.2,1052.6 H1485.2"/><path d="M1472.2,1086.3 H1485.2"/></g>
<g stroke="#5a5a5a" stroke-width="3" fill="none"><path d="M1564.2,1011.8 V1079"/><path d="M1557.7,1011.8 H1570.7"/><path d="M1557.7,1021.2 H1570.7"/></g>
<g stroke="#000" stroke-width="3" fill="none">
<path d="M896.5,719.6 V1079.5"/><path d="M884.2,1078.2 H1618.8"/>
<path d="M884.2,730 H896.5"/>
<path d="M884.2,778.8 H896.5"/>
<path d="M884.2,829.4 H896.5"/>
<path d="M884.2,879.8 H896.5"/>
<path d="M884.2,929.8 H896.5"/>
<path d="M884.2,979.7 H896.5"/>
<path d="M884.2,1027.9 H896.5"/>
<path d="M896.5,1078 V1085"/>
<path d="M1257.4,1078 V1085"/>
<path d="M1617.3,1078 V1085"/>
</g>
<g font-size="24.5" fill="#111" text-anchor="end">
<text x="881" y="739.9">35</text>
<text x="881" y="788.7">30</text>
<text x="881" y="839.3">25</text>
<text x="881" y="889.7">20</text>
<text x="881" y="939.7">15</text>
<text x="881" y="989.6">10</text>
<text x="881" y="1037.8">5</text>
<text x="881" y="1079.4">0</text>
</g><g font-size="24.5" fill="#111" text-anchor="middle">
<text x="898" y="1103.8">1</text>
<text x="1258.3" y="1103.8">10</text>
<text x="1614.7" y="1100.9">100</text>
</g>
<polyline points="931.7,914.9 1167.9,987.2 1251.6,1015 1342.4,1031.5 1478.7,1078.6 1564.2,1078.6" fill="none" stroke="#1a72c6" stroke-width="3.4" stroke-linejoin="round" stroke-linecap="round"/>
<polyline points="931.7,875.8 1167.9,990.5 1251.6,1016.8 1342.4,1004.2 1478.7,1002.8 1564.2,1049.6" fill="none" stroke="#6b3a0c" stroke-width="3.4" stroke-linejoin="round" stroke-linecap="round"/>
<polyline points="931.7,808.3 1167.9,938.7 1251.6,997.8 1342.4,1036.3 1478.7,1069.7 1564.2,1079.2" fill="none" stroke="#f01010" stroke-width="3.4" stroke-linejoin="round" stroke-linecap="round"/>
<polyline points="931.7,843.4 1167.9,808.3 1251.6,857.4 1342.4,892 1478.7,1000 1564.2,1079.2" fill="none" stroke="#1ae81a" stroke-width="3.4" stroke-linejoin="round" stroke-linecap="round"/>
<polyline points="931.7,836.7 1167.9,823.2 1251.6,885.8 1342.4,906.7 1478.7,1008.4 1564.2,1051.3" fill="none" stroke="#052c05" stroke-width="3.3" stroke-linejoin="round" stroke-linecap="round"/>
<rect x="924.5" y="801" width="14.5" height="14.5" fill="#f01010" stroke="#111" stroke-width="1.3"/>
<rect x="1160.7" y="931.5" width="14.5" height="14.5" fill="#f01010" stroke="#111" stroke-width="1.3"/>
<rect x="1244.3" y="990.5" width="14.5" height="14.5" fill="#f01010" stroke="#111" stroke-width="1.3"/>
<rect x="1335.2" y="1029" width="14.5" height="14.5" fill="#f01010" stroke="#111" stroke-width="1.3"/>
<rect x="1471.5" y="1062.5" width="14.5" height="14.5" fill="#f01010" stroke="#111" stroke-width="1.3"/>
<rect x="1557" y="1072" width="14.5" height="14.5" fill="#f01010" stroke="#111" stroke-width="1.3"/>
<circle cx="931.7" cy="843.4" r="7" fill="#22f822" stroke="#111" stroke-width="1.3"/>
<circle cx="1167.9" cy="808.3" r="7" fill="#22f822" stroke="#111" stroke-width="1.3"/>
<circle cx="1251.6" cy="857.4" r="7" fill="#22f822" stroke="#111" stroke-width="1.3"/>
<circle cx="1342.4" cy="892" r="7" fill="#22f822" stroke="#111" stroke-width="1.3"/>
<circle cx="1478.7" cy="1000" r="7" fill="#22f822" stroke="#111" stroke-width="1.3"/>
<circle cx="1564.2" cy="1079.2" r="7" fill="#22f822" stroke="#111" stroke-width="1.3"/>
<circle cx="931.7" cy="836.7" r="7" fill="#0f3d0f" stroke="#111" stroke-width="1.3"/>
<circle cx="1167.9" cy="823.2" r="7" fill="#0f3d0f" stroke="#111" stroke-width="1.3"/>
<circle cx="1251.6" cy="885.8" r="7" fill="#0f3d0f" stroke="#111" stroke-width="1.3"/>
<circle cx="1342.4" cy="906.7" r="7" fill="#0f3d0f" stroke="#111" stroke-width="1.3"/>
<circle cx="1478.7" cy="1008.4" r="7" fill="#0f3d0f" stroke="#111" stroke-width="1.3"/>
<circle cx="1564.2" cy="1051.3" r="7" fill="#0f3d0f" stroke="#111" stroke-width="1.3"/>
<path d="M931.7,907.4 l7.5,7.5 l-7.5,7.5 l-7.5,-7.5 Z" fill="#1a6fc4" stroke="#111" stroke-width="1.3"/>
<path d="M1167.9,979.7 l7.5,7.5 l-7.5,7.5 l-7.5,-7.5 Z" fill="#1a6fc4" stroke="#111" stroke-width="1.3"/>
<path d="M1251.6,1007.5 l7.5,7.5 l-7.5,7.5 l-7.5,-7.5 Z" fill="#1a6fc4" stroke="#111" stroke-width="1.3"/>
<path d="M1342.4,1024 l7.5,7.5 l-7.5,7.5 l-7.5,-7.5 Z" fill="#1a6fc4" stroke="#111" stroke-width="1.3"/>
<path d="M1478.7,1071.1 l7.5,7.5 l-7.5,7.5 l-7.5,-7.5 Z" fill="#1a6fc4" stroke="#111" stroke-width="1.3"/>
<path d="M931.7,867 L939.1,881.3 L924.4,881.3 Z" fill="#6e3b10" stroke="#111" stroke-width="1.3"/>
<path d="M1167.9,981.7 L1175.2,996 L1160.6,996 Z" fill="#6e3b10" stroke="#111" stroke-width="1.3"/>
<path d="M1251.6,1008 L1258.9,1022.3 L1244.2,1022.3 Z" fill="#6e3b10" stroke="#111" stroke-width="1.3"/>
<path d="M1342.4,995.4 L1349.8,1009.7 L1335.1,1009.7 Z" fill="#6e3b10" stroke="#111" stroke-width="1.3"/>
<path d="M1478.7,994 L1486,1008.3 L1471.4,1008.3 Z" fill="#6e3b10" stroke="#111" stroke-width="1.3"/>
<path d="M1564.2,1040.8 L1571.5,1055.1 L1556.9,1055.1 Z" fill="#6e3b10" stroke="#111" stroke-width="1.3"/>
<path d="M1601,731.2 H1643" stroke="#f01010" stroke-width="6" stroke-linecap="round"/>
<rect x="1614.3" y="725" width="12.5" height="12.5" fill="#f01010" stroke="#111" stroke-width="1.3"/>
<path d="M1601,768.7 H1643" stroke="#052c05" stroke-width="6" stroke-linecap="round"/>
<circle cx="1620.6" cy="768.7" r="6.2" fill="#0f3d0f" stroke="#111" stroke-width="1.3"/>
<path d="M1601,809.2 H1643" stroke="#1ae81a" stroke-width="6" stroke-linecap="round"/>
<circle cx="1620.6" cy="809.2" r="6.2" fill="#22f822" stroke="#111" stroke-width="1.3"/>
<path d="M1601,843.6 H1643" stroke="#1a72c6" stroke-width="6" stroke-linecap="round"/>
<path d="M1620.6,837.9 l5.8,5.8 l-5.8,5.8 l-5.8,-5.8 Z" fill="#1a6fc4" stroke="#111" stroke-width="1.3"/>
<path d="M1601,879 H1643" stroke="#6b3a0c" stroke-width="6" stroke-linecap="round"/>
<path d="M1620.6,872.1 L1626.4,883.3 L1614.8,883.3 Z" fill="#6e3b10" stroke="#111" stroke-width="1.3"/>
<text transform="translate(7.9 26.7) scale(1.0692 1)" font-family="Liberation Sans" font-size="25.5" font-weight="bold" font-style="normal" fill="#000">a</text>
<text transform="translate(927.1 29) scale(1.1333 1)" font-family="Liberation Sans" font-size="25.5" font-weight="bold" font-style="normal" fill="#000">b</text>
<text transform="translate(9 667.4) scale(1.2091 1)" font-family="Liberation Sans" font-size="23.5" font-weight="bold" font-style="normal" fill="#000">c</text>
<text transform="translate(831.9 663) scale(1.0769 1)" font-family="Liberation Sans" font-size="25" font-weight="bold" font-style="normal" fill="#000">d</text>
<text transform="translate(10.1 288.6) scale(1.0212 1)" font-family="Liberation Sans" font-size="25" font-weight="normal" font-style="italic" fill="#000">A. butzleri</text>
<text transform="translate(302.6 289) scale(1.0313 1)" font-family="Liberation Sans" font-size="25" font-weight="normal" font-style="italic" fill="#000">C. jejuni <tspan font-style="normal">WT</tspan></text>
<text transform="translate(600.7 288.5) scale(1.0307 1)" font-family="Liberation Sans" font-size="25" font-weight="normal" font-style="italic" fill="#000">C. jejuni Δpgp1</text>
<text transform="translate(8.6 584.6) scale(1.0316 1)" font-family="Liberation Sans" font-size="25" font-weight="normal" font-style="italic" fill="#000">S. enterica</text>
<text transform="translate(302.4 585.3) scale(1.0305 1)" font-family="Liberation Sans" font-size="25" font-weight="normal" font-style="italic" fill="#000">W. succinogenes</text>
<text transform="translate(696.8 342.7) scale(1.0145 1)" font-family="Liberation Sans" font-size="25.5" font-weight="normal" font-style="normal" fill="#000">0.5 μm</text>
<text transform="translate(1243.3 664.5) scale(1.0079 1)" font-family="DejaVu Sans" font-size="23.2" font-weight="normal" font-style="normal" fill="#000">Length (μm)</text>
<text transform="translate(953.6 390.5) rotate(-90) scale(1.0047 1)" font-family="DejaVu Sans" font-size="23.2" font-weight="normal" font-style="normal" fill="#000">Width (μm)</text>
<text transform="translate(1442 188.9) scale(0.9876 1)" font-family="Liberation Sans" font-size="25" font-weight="normal" font-style="italic" fill="#000">A. butzleri</text>
<text transform="translate(1379.4 227) scale(1.0012 1)" font-family="Liberation Sans" font-size="25" font-weight="normal" font-style="normal" fill="#000">Helical <tspan font-style="italic">C. jejuni</tspan></text>
<text transform="translate(1368.7 263.9) scale(0.9995 1)" font-family="Liberation Sans" font-size="25" font-weight="normal" font-style="normal" fill="#000">Straight <tspan font-style="italic">C. jejuni</tspan></text>
<text transform="translate(1440.8 301.7) scale(0.9982 1)" font-family="Liberation Sans" font-size="25" font-weight="normal" font-style="italic" fill="#000">S.enterica</text>
<text transform="translate(1363.7 336.6) scale(0.9995 1)" font-family="Liberation Sans" font-size="25" font-weight="normal" font-style="italic" fill="#000">W. succinogenes</text>
<text transform="translate(373.1 1137.7) scale(0.9821 1)" font-family="Liberation Sans" font-size="25.2" font-weight="normal" font-style="normal" fill="#000">Viscosity (cP)</text>
<text transform="translate(30.8 1064.2) rotate(-90) scale(1.0687 1)" font-family="Liberation Sans" font-size="25" font-weight="normal" font-style="normal" fill="#000">Swimming velocity (μm/sec)</text>
<text transform="translate(1182.5 1137.8) scale(0.9861 1)" font-family="Liberation Sans" font-size="25.2" font-weight="normal" font-style="normal" fill="#000">Viscosity (cP)</text>
<text transform="translate(841.4 1060.7) rotate(-90) scale(1.0518 1)" font-family="Liberation Sans" font-size="25" font-weight="normal" font-style="normal" fill="#000">Swimming velocity (μm/sec)</text>
<text transform="translate(1475.2 740.6) scale(1.0073 1)" font-family="Liberation Sans" font-size="24.5" font-weight="normal" font-style="italic" fill="#000">A. butzleri</text>
<text transform="translate(1411.9 777.8) scale(1.0246 1)" font-family="Liberation Sans" font-size="24.5" font-weight="normal" font-style="normal" fill="#000">Helical <tspan font-style="italic">C. jejuni</tspan></text>
<text transform="translate(1402.1 815) scale(1.0162 1)" font-family="Liberation Sans" font-size="24.5" font-weight="normal" font-style="normal" fill="#000">Straight <tspan font-style="italic">C. jejuni</tspan></text>
<text transform="translate(1474.1 853) scale(1.0176 1)" font-family="Liberation Sans" font-size="24.5" font-weight="normal" font-style="italic" fill="#000">S.enterica</text>
<text transform="translate(1396.2 888.6) scale(1.0208 1)" font-family="Liberation Sans" font-size="24.5" font-weight="normal" font-style="italic" fill="#000">W. succinogenes</text>
</svg>
</body></html>
